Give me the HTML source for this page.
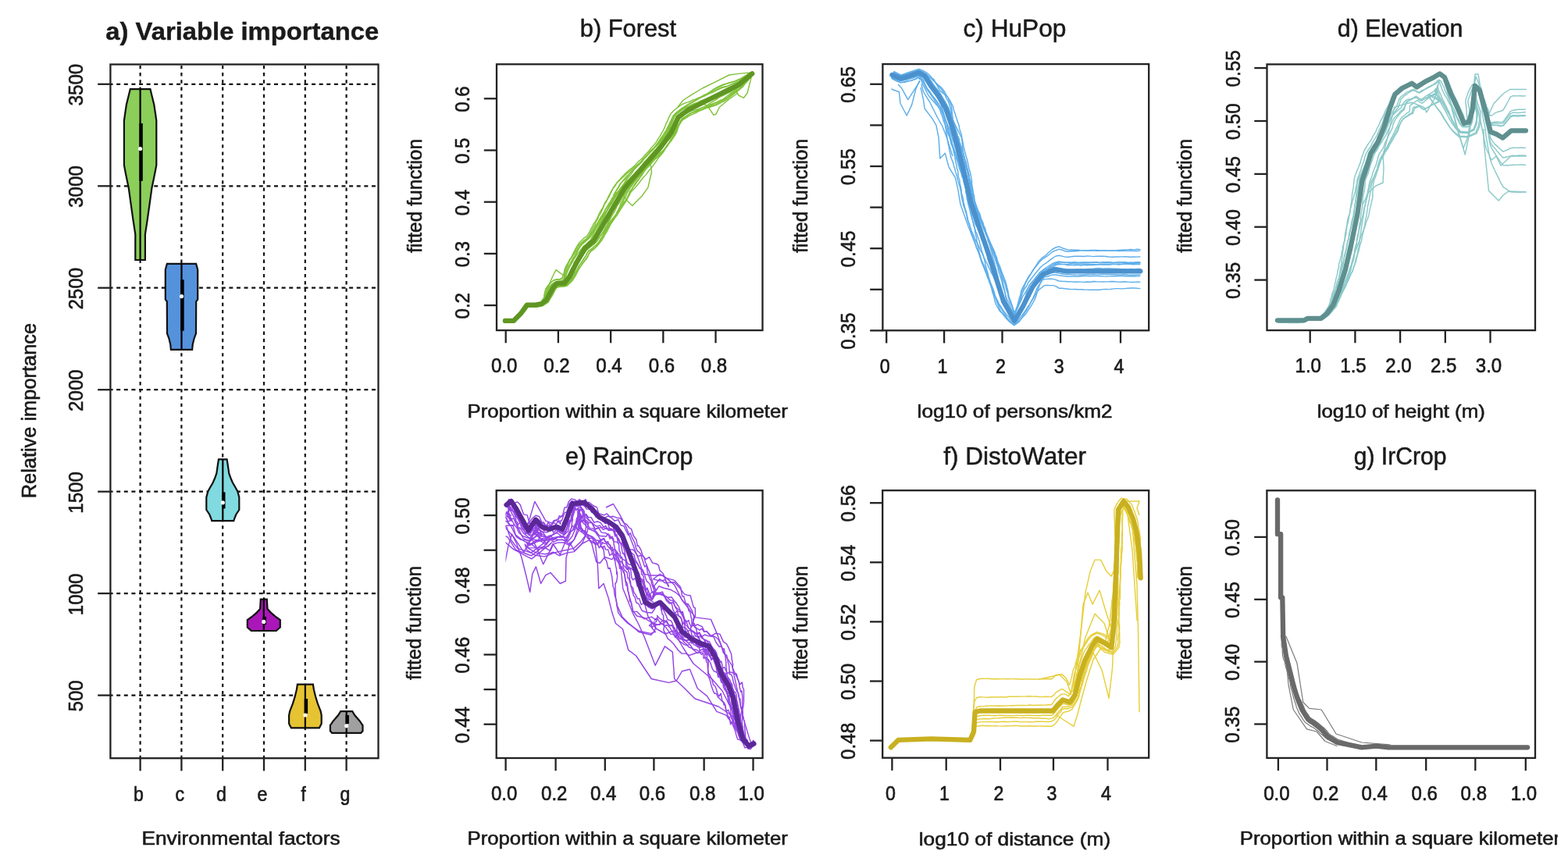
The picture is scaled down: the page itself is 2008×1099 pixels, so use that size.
<!DOCTYPE html><html><head><meta charset="utf-8"><title>Figure</title><style>html,body{margin:0;padding:0;background:#fff;overflow:hidden}svg{display:block}text{font-family:"Liberation Sans",Arial,sans-serif}</style></head><body>
<div id="w"><svg width="2008" height="1099" viewBox="0 0 2008 1099">
<rect width="2008" height="1099" fill="#fff"/>
<defs><clipPath id="gclip" clipPathUnits="userSpaceOnUse"><rect x="0" y="0" width="1996.5" height="1099" transform="translate(-1589.6,-1082.4)"/></clipPath></defs>
<line x1="141.4" y1="890.6" x2="484.5" y2="890.6" stroke="#111" stroke-width="2.2" stroke-dasharray="5 4.61" stroke-dashoffset="1.81"/>
<line x1="141.4" y1="760.1" x2="484.5" y2="760.1" stroke="#111" stroke-width="2.2" stroke-dasharray="5 4.61" stroke-dashoffset="1.81"/>
<line x1="141.4" y1="629.7" x2="484.5" y2="629.7" stroke="#111" stroke-width="2.2" stroke-dasharray="5 4.61" stroke-dashoffset="1.81"/>
<line x1="141.4" y1="499.2" x2="484.5" y2="499.2" stroke="#111" stroke-width="2.2" stroke-dasharray="5 4.61" stroke-dashoffset="1.81"/>
<line x1="141.4" y1="368.7" x2="484.5" y2="368.7" stroke="#111" stroke-width="2.2" stroke-dasharray="5 4.61" stroke-dashoffset="1.81"/>
<line x1="141.4" y1="238.3" x2="484.5" y2="238.3" stroke="#111" stroke-width="2.2" stroke-dasharray="5 4.61" stroke-dashoffset="1.81"/>
<line x1="141.4" y1="107.8" x2="484.5" y2="107.8" stroke="#111" stroke-width="2.2" stroke-dasharray="5 4.61" stroke-dashoffset="1.81"/>
<line x1="179.6" y1="82.5" x2="179.6" y2="971.2" stroke="#111" stroke-width="2.2" stroke-dasharray="4.4 4.807" stroke-dashoffset="-1.4"/>
<line x1="232.4" y1="82.5" x2="232.4" y2="971.2" stroke="#111" stroke-width="2.2" stroke-dasharray="4.4 4.807" stroke-dashoffset="-1.4"/>
<line x1="285.2" y1="82.5" x2="285.2" y2="971.2" stroke="#111" stroke-width="2.2" stroke-dasharray="4.4 4.807" stroke-dashoffset="-1.4"/>
<line x1="338.0" y1="82.5" x2="338.0" y2="971.2" stroke="#111" stroke-width="2.2" stroke-dasharray="4.4 4.807" stroke-dashoffset="-1.4"/>
<line x1="390.8" y1="82.5" x2="390.8" y2="971.2" stroke="#111" stroke-width="2.2" stroke-dasharray="4.4 4.807" stroke-dashoffset="-1.4"/>
<line x1="443.6" y1="82.5" x2="443.6" y2="971.2" stroke="#111" stroke-width="2.2" stroke-dasharray="4.4 4.807" stroke-dashoffset="-1.4"/>
<path d="M192.4,114.1 L195.1,125.0 L197.3,134.0 L199.1,146.0 L200.3,154.5 L200.3,211.4 L198.9,219.0 L197.3,227.0 L194.4,241.0 L191.9,259.0 L188.7,281.8 L185.9,300.0 L185.9,333.0 L173.3,333.0 L173.3,300.0 L170.5,281.8 L167.3,259.0 L164.8,241.0 L161.9,227.0 L160.3,219.0 L158.9,211.4 L158.9,154.5 L160.1,146.0 L161.9,134.0 L164.1,125.0 L166.8,114.1 Z" fill="#8bce5a" stroke="#111" stroke-width="2.2" stroke-linejoin="miter"/>
<line x1="179.6" y1="114.1" x2="179.6" y2="333.0" stroke="#000" stroke-width="2.2"/>
<rect x="178.4" y="158.0" width="4.4" height="73.8" fill="#000"/>
<circle cx="179.6" cy="190.5" r="2.6" fill="#fff"/>
<path d="M251.1,337.8 L253.2,345.5 L253.2,383.6 L251.2,386.2 L251.0,427.0 L248.5,434.0 L246.8,441.0 L246.1,447.9 L218.9,447.9 L218.2,441.0 L216.5,434.0 L214.0,427.0 L213.8,386.2 L211.8,383.6 L211.8,345.5 L213.9,337.8 Z" fill="#5592dc" stroke="#111" stroke-width="2.2" stroke-linejoin="miter"/>
<line x1="232.5" y1="337.8" x2="232.5" y2="447.9" stroke="#000" stroke-width="2.2"/>
<rect x="231.3" y="358.2" width="4.4" height="65.5" fill="#000"/>
<circle cx="232.5" cy="379.6" r="2.6" fill="#fff"/>
<path d="M290.6,588.4 L291.8,596.0 L293.3,606.5 L295.3,612.0 L297.8,618.0 L301.3,624.0 L304.3,629.4 L306.3,637.0 L306.3,653.0 L302.3,659.0 L300.3,664.0 L299.3,667.2 L271.3,667.2 L270.3,664.0 L268.3,659.0 L264.3,653.0 L264.3,637.0 L266.3,629.4 L269.3,624.0 L272.8,618.0 L275.3,612.0 L277.3,606.5 L278.8,596.0 L280.0,588.4 Z" fill="#80dae0" stroke="#111" stroke-width="2.2" stroke-linejoin="miter"/>
<line x1="285.3" y1="588.4" x2="285.3" y2="667.2" stroke="#000" stroke-width="2.2"/>
<rect x="284.1" y="630.4" width="4.4" height="21.0" fill="#000"/>
<circle cx="285.3" cy="643.8" r="2.6" fill="#fff"/>
<path d="M341.8,767.7 L342.5,779.9 L346.8,784.6 L352.3,789.3 L358.8,794.0 L358.8,803.5 L353.8,808.0 L321.8,808.0 L316.8,803.5 L316.8,794.0 L323.3,789.3 L328.8,784.6 L333.1,779.9 L333.8,767.7 Z" fill="#aa16b8" stroke="#111" stroke-width="2.2" stroke-linejoin="miter"/>
<line x1="337.8" y1="767.7" x2="337.8" y2="808.0" stroke="#000" stroke-width="2.2"/>
<rect x="336.6" y="790.0" width="4.4" height="10.0" fill="#000"/>
<circle cx="337.8" cy="796.4" r="2.6" fill="#fff"/>
<path d="M400.9,876.6 L401.9,883.2 L404.2,892.7 L406.9,901.4 L410.6,910.9 L411.7,916.0 L411.7,927.0 L408.9,932.3 L372.9,932.3 L370.1,927.0 L370.1,916.0 L371.2,910.9 L374.9,901.4 L377.6,892.7 L379.9,883.2 L380.9,876.6 Z" fill="#e6c332" stroke="#111" stroke-width="2.2" stroke-linejoin="miter"/>
<line x1="390.9" y1="876.6" x2="390.9" y2="932.3" stroke="#000" stroke-width="2.2"/>
<rect x="389.7" y="895.0" width="4.4" height="19.0" fill="#000"/>
<circle cx="390.9" cy="916.0" r="2.6" fill="#fff"/>
<path d="M451.2,911.2 L454.2,916.0 L460.4,923.2 L464.5,929.0 L464.5,936.3 L462.2,938.9 L425.2,938.9 L422.9,936.3 L422.9,929.0 L427.0,923.2 L433.2,916.0 L436.2,911.2 Z" fill="#a0a0a0" stroke="#111" stroke-width="2.2" stroke-linejoin="miter"/>
<line x1="443.7" y1="911.2" x2="443.7" y2="938.9" stroke="#000" stroke-width="2.2"/>
<rect x="442.5" y="916.0" width="4.4" height="11.0" fill="#000"/>
<circle cx="443.7" cy="929.8" r="2.6" fill="#fff"/>
<rect x="141.4" y="82.5" width="343.1" height="888.7" fill="none" stroke="#222" stroke-width="2.3"/>
<line x1="125.2" y1="890.6" x2="141.4" y2="890.6" stroke="#222" stroke-width="2.3"/>
<text transform="translate(106.40,911.48) rotate(-90) scale(1,1.07)" x="0" y="0" font-size="24.5" font-weight="normal" textLength="40.25" lengthAdjust="spacingAndGlyphs" fill="#1a1a1a" stroke="#1a1a1a" stroke-width="0.6">500</text>
<line x1="125.2" y1="760.1" x2="141.4" y2="760.1" stroke="#222" stroke-width="2.3"/>
<text transform="translate(106.40,788.30) rotate(-90) scale(1,1.07)" x="0" y="0" font-size="24.5" font-weight="normal" textLength="53.87" lengthAdjust="spacingAndGlyphs" fill="#1a1a1a" stroke="#1a1a1a" stroke-width="0.6">1000</text>
<line x1="125.2" y1="629.7" x2="141.4" y2="629.7" stroke="#222" stroke-width="2.3"/>
<text transform="translate(106.40,657.83) rotate(-90) scale(1,1.07)" x="0" y="0" font-size="24.5" font-weight="normal" textLength="53.87" lengthAdjust="spacingAndGlyphs" fill="#1a1a1a" stroke="#1a1a1a" stroke-width="0.6">1500</text>
<line x1="125.2" y1="499.2" x2="141.4" y2="499.2" stroke="#222" stroke-width="2.3"/>
<text transform="translate(106.40,527.06) rotate(-90) scale(1,1.07)" x="0" y="0" font-size="24.5" font-weight="normal" textLength="53.88" lengthAdjust="spacingAndGlyphs" fill="#1a1a1a" stroke="#1a1a1a" stroke-width="0.6">2000</text>
<line x1="125.2" y1="368.7" x2="141.4" y2="368.7" stroke="#222" stroke-width="2.3"/>
<text transform="translate(106.40,396.60) rotate(-90) scale(1,1.07)" x="0" y="0" font-size="24.5" font-weight="normal" textLength="53.88" lengthAdjust="spacingAndGlyphs" fill="#1a1a1a" stroke="#1a1a1a" stroke-width="0.6">2500</text>
<line x1="125.2" y1="238.3" x2="141.4" y2="238.3" stroke="#222" stroke-width="2.3"/>
<text transform="translate(106.40,266.01) rotate(-90) scale(1,1.07)" x="0" y="0" font-size="24.5" font-weight="normal" textLength="53.88" lengthAdjust="spacingAndGlyphs" fill="#1a1a1a" stroke="#1a1a1a" stroke-width="0.6">3000</text>
<line x1="125.2" y1="107.8" x2="141.4" y2="107.8" stroke="#222" stroke-width="2.3"/>
<text transform="translate(106.40,135.55) rotate(-90) scale(1,1.07)" x="0" y="0" font-size="24.5" font-weight="normal" textLength="53.88" lengthAdjust="spacingAndGlyphs" fill="#1a1a1a" stroke="#1a1a1a" stroke-width="0.6">3500</text>
<line x1="179.6" y1="971.2" x2="179.6" y2="987.4" stroke="#222" stroke-width="2.3"/>
<text transform="translate(170.88,1025.50) scale(1,1.07)" x="0" y="0" font-size="24.5" font-weight="normal" textLength="12.88" lengthAdjust="spacingAndGlyphs" fill="#1a1a1a" stroke="#1a1a1a" stroke-width="0.6">b</text>
<line x1="232.4" y1="971.2" x2="232.4" y2="987.4" stroke="#222" stroke-width="2.3"/>
<text transform="translate(224.39,1025.50) scale(1,1.07)" x="0" y="0" font-size="24.5" font-weight="normal" textLength="11.55" lengthAdjust="spacingAndGlyphs" fill="#1a1a1a" stroke="#1a1a1a" stroke-width="0.6">c</text>
<line x1="285.2" y1="971.2" x2="285.2" y2="987.4" stroke="#222" stroke-width="2.3"/>
<text transform="translate(277.06,1025.50) scale(1,1.07)" x="0" y="0" font-size="24.5" font-weight="normal" textLength="12.88" lengthAdjust="spacingAndGlyphs" fill="#1a1a1a" stroke="#1a1a1a" stroke-width="0.6">d</text>
<line x1="338.0" y1="971.2" x2="338.0" y2="987.4" stroke="#222" stroke-width="2.3"/>
<text transform="translate(329.56,1025.50) scale(1,1.07)" x="0" y="0" font-size="24.5" font-weight="normal" textLength="12.91" lengthAdjust="spacingAndGlyphs" fill="#1a1a1a" stroke="#1a1a1a" stroke-width="0.6">e</text>
<line x1="390.8" y1="971.2" x2="390.8" y2="987.4" stroke="#222" stroke-width="2.3"/>
<text transform="translate(385.52,1025.50) scale(1,1.07)" x="0" y="0" font-size="24.5" font-weight="normal" textLength="6.18" lengthAdjust="spacingAndGlyphs" fill="#1a1a1a" stroke="#1a1a1a" stroke-width="0.6">f</text>
<line x1="443.6" y1="971.2" x2="443.6" y2="987.4" stroke="#222" stroke-width="2.3"/>
<text transform="translate(435.46,1025.50) scale(1,1.07)" x="0" y="0" font-size="24.5" font-weight="normal" textLength="12.88" lengthAdjust="spacingAndGlyphs" fill="#1a1a1a" stroke="#1a1a1a" stroke-width="0.6">g</text>
<text transform="translate(181.40,1082.40) scale(1,1.0)" x="0" y="0" font-size="24.5" font-weight="normal" textLength="254.15" lengthAdjust="spacingAndGlyphs" fill="#1a1a1a" stroke="#1a1a1a" stroke-width="0.6">Environmental factors</text>
<text transform="translate(45.70,638.33) rotate(-90) scale(1,1.05)" x="0" y="0" font-size="24.5" font-weight="normal" textLength="224.44" lengthAdjust="spacingAndGlyphs" fill="#1a1a1a" stroke="#1a1a1a" stroke-width="0.6">Relative importance</text>
<text transform="translate(135.32,50.70) scale(1,1.0)" x="0" y="0" font-size="30.5" font-weight="bold" textLength="349.97" lengthAdjust="spacingAndGlyphs" fill="#1a1a1a" stroke="#1a1a1a" stroke-width="0.4">a) Variable importance</text>
<clipPath id="clb"><rect x="645.9" y="82.3" width="318.3" height="340.8"/></clipPath>
<g clip-path="url(#clb)">
<path d="M646.9,410.2 L650.7,409.9 L654.8,410.6 L658.4,409.6 L660.7,406.3 L663.4,403.6 L666.2,400.8 L668.6,397.6 L671.3,394.5 L673.6,391.0 L677.2,389.8 L681.3,389.4 L685.4,389.8 L689.2,388.8 L692.6,387.5 L694.8,384.4 L697.1,381.8 L698.1,378.2 L699.5,374.8 L700.6,370.8 L703.6,367.5 L706.8,364.0 L710.7,361.1 L714.7,360.5 L718.6,360.3 L722.1,359.5 L723.3,355.9 L724.6,352.9 L726.0,349.6 L727.3,346.0 L729.0,342.5 L730.8,338.8 L732.4,335.1 L734.1,331.4 L736.5,328.0 L738.4,324.4 L740.0,320.3 L742.3,316.5 L744.6,312.7 L747.4,309.3 L750.3,306.5 L752.7,303.8 L754.7,301.0 L756.3,297.9 L757.8,294.8 L759.9,291.4 L761.8,287.9 L763.1,284.0 L765.4,280.8 L766.7,276.9 L769.0,273.6 L770.7,269.9 L772.4,266.2 L773.8,262.4 L776.1,259.1 L777.9,255.5 L779.9,252.0 L781.6,248.3 L783.5,244.8 L785.3,241.0 L788.2,237.5 L790.4,233.7 L793.4,230.4 L796.2,227.0 L799.2,223.9 L802.2,221.1 L805.1,218.4 L808.4,215.9 L811.5,213.3 L814.4,210.5 L817.0,207.4 L820.1,204.8 L823.1,202.1 L825.6,198.9 L828.4,196.1 L831.1,193.2 L833.5,189.9 L836.2,187.1 L838.6,184.1 L841.0,181.1 L842.8,177.7 L845.0,174.6 L846.9,171.2 L848.8,168.1 L850.4,164.9 L851.8,161.6 L853.0,158.2 L854.9,154.8 L856.8,150.1 L859.2,145.6 L862.5,141.9 L866.5,138.7 L870.8,135.5 L874.5,133.2 L878.6,131.6 L882.9,130.4 L886.6,128.3 L890.6,127.2 L894.2,125.5 L898.2,124.5 L902.0,123.1 L905.6,121.4 L909.2,119.6 L913.0,118.3 L916.5,116.4 L920.1,114.5 L923.8,112.9 L927.8,111.9 L931.6,110.6 L935.1,108.6 L938.7,107.3 L942.3,106.0 L945.9,104.5 L949.3,102.5 L952.6,100.5 L955.7,97.9 L959.2,95.9 L962.9,94.0 L962.9,94.0" fill="none" stroke="#80c23a" stroke-width="1.45" stroke-linejoin="round"/>
<path d="M646.9,409.5 L650.7,409.8 L654.4,409.4 L657.8,408.4 L660.4,405.8 L663.1,403.3 L665.9,400.5 L668.5,397.5 L671.2,394.4 L673.7,391.2 L677.3,390.0 L681.5,390.4 L685.5,390.2 L689.5,389.9 L693.4,389.0 L696.3,386.3 L698.7,383.3 L699.6,379.3 L701.0,375.7 L702.5,372.0 L704.9,368.5 L707.9,365.2 L711.3,362.2 L715.1,361.2 L718.8,360.6 L721.6,358.6 L722.9,355.4 L723.4,352.1 L724.2,348.5 L724.9,344.7 L726.4,341.2 L727.6,337.2 L729.6,333.6 L731.6,330.0 L733.4,326.3 L735.0,322.5 L737.1,318.5 L739.5,314.4 L742.1,310.5 L745.5,307.5 L748.3,304.6 L751.3,302.6 L753.2,299.9 L754.9,297.0 L756.3,293.9 L758.4,290.5 L760.1,286.9 L762.4,283.6 L764.4,280.1 L766.1,276.5 L767.7,272.8 L769.7,269.3 L772.0,266.0 L773.5,262.3 L775.3,258.6 L777.6,255.3 L779.2,251.6 L781.1,248.1 L783.0,244.5 L785.1,240.9 L787.6,237.1 L790.3,233.6 L793.7,230.6 L797.0,227.7 L800.2,224.7 L803.1,222.0 L806.4,219.5 L809.4,216.8 L812.4,214.1 L815.7,211.6 L818.8,209.0 L821.8,206.3 L824.5,203.3 L827.5,200.7 L830.1,197.6 L833.0,194.8 L835.7,191.9 L838.1,188.7 L840.7,185.9 L842.9,182.6 L845.4,179.6 L847.5,176.4 L849.9,173.3 L851.7,170.0 L854.4,167.2 L855.6,163.6 L857.3,160.3 L858.9,156.7 L860.4,152.2 L862.3,147.9 L865.6,144.7 L869.2,141.7 L873.0,138.7 L876.8,136.8 L880.2,134.3 L884.0,132.4 L887.7,130.5 L891.1,128.3 L894.7,126.4 L898.0,124.2 L901.8,122.6 L905.1,120.3 L908.5,118.3 L911.8,115.9 L915.2,113.7 L918.9,112.1 L922.6,110.5 L926.2,108.8 L930.0,107.3 L933.9,106.2 L937.4,104.9 L941.1,103.9 L944.4,102.3 L947.9,100.8 L951.3,98.9 L954.8,96.8 L958.2,94.6 L961.9,92.8 L961.9,92.8" fill="none" stroke="#80c23a" stroke-width="1.45" stroke-linejoin="round"/>
<path d="M646.9,409.5 L650.7,409.6 L654.4,409.3 L658.0,408.8 L660.5,405.9 L662.9,403.1 L665.8,400.4 L668.6,397.6 L671.1,394.3 L673.7,391.1 L677.3,390.2 L681.3,389.7 L685.4,389.9 L689.2,389.0 L692.8,387.8 L694.9,384.5 L696.6,381.3 L697.3,377.7 L697.9,373.9 L699.0,369.8 L701.8,366.3 L705.2,362.3 L709.2,358.7 L713.4,357.8 L717.5,358.0 L720.5,356.7 L721.0,353.4 L722.3,351.3 L723.0,347.8 L723.6,344.0 L725.1,340.5 L727.3,337.0 L729.1,333.3 L731.6,330.0 L733.4,326.2 L735.7,322.9 L737.8,318.9 L740.4,315.1 L743.5,311.7 L746.9,308.8 L750.2,306.4 L753.2,304.3 L755.8,301.9 L757.2,298.6 L759.2,295.6 L761.4,292.2 L763.1,288.6 L765.3,285.3 L767.4,281.9 L769.2,278.3 L771.6,275.1 L773.9,271.8 L775.4,268.0 L777.8,264.8 L780.1,261.4 L782.4,258.1 L785.0,255.0 L787.6,251.9 L789.9,248.6 L792.3,245.2 L795.2,242.2 L797.2,238.6 L800.5,235.9 L803.2,232.8 L805.9,229.8 L808.8,226.9 L811.7,224.2 L814.1,221.0 L817.0,218.2 L819.3,214.8 L822.1,211.9 L824.3,208.5 L827.1,205.6 L829.7,202.6 L832.2,199.5 L835.0,196.6 L837.5,193.4 L840.4,190.7 L842.7,187.5 L845.4,184.6 L847.3,181.1 L849.7,177.9 L852.1,174.8 L853.9,171.4 L855.6,167.9 L856.7,164.2 L858.4,160.8 L859.3,156.8 L860.9,152.5 L862.8,148.3 L865.6,144.8 L869.4,142.0 L873.3,139.1 L876.6,136.5 L880.2,134.3 L883.8,132.2 L887.6,130.4 L891.3,128.7 L894.6,126.4 L898.3,124.6 L901.5,122.0 L905.2,120.5 L908.4,118.1 L911.8,116.0 L915.1,113.6 L918.6,111.5 L922.3,110.0 L925.9,108.2 L930.0,107.3 L933.8,106.0 L937.5,105.2 L941.2,104.1 L944.8,102.9 L948.3,101.2 L951.8,99.5 L955.4,97.5 L958.9,95.5 L962.5,93.5 L962.5,93.5" fill="none" stroke="#80c23a" stroke-width="1.45" stroke-linejoin="round"/>
<path d="M646.9,410.5 L650.8,410.4 L654.7,410.3 L658.5,409.9 L661.0,406.6 L663.6,403.8 L666.7,401.2 L668.8,397.8 L671.1,394.3 L673.6,391.0 L677.2,389.7 L681.3,389.6 L685.4,389.5 L689.1,388.5 L692.8,387.8 L694.7,384.2 L696.7,381.4 L697.2,377.6 L697.8,373.8 L699.3,370.0 L701.6,366.2 L704.9,362.0 L709.4,359.0 L713.6,358.2 L717.2,357.5 L720.1,355.9 L720.8,353.3 L721.9,351.1 L722.6,347.5 L723.6,344.0 L725.3,340.6 L727.7,337.2 L729.4,333.4 L731.6,330.0 L734.1,326.7 L736.7,323.4 L739.1,319.7 L741.7,316.1 L744.3,312.5 L747.9,309.8 L751.2,307.4 L754.3,305.3 L756.4,302.4 L758.3,299.3 L760.6,296.5 L762.8,293.1 L764.8,289.6 L767.2,286.4 L769.3,283.0 L771.0,279.4 L773.1,276.0 L775.3,272.6 L777.5,269.2 L779.4,265.7 L781.5,262.3 L783.6,258.9 L785.6,255.4 L788.0,252.1 L789.9,248.6 L792.4,245.3 L795.1,242.1 L797.4,238.7 L800.2,235.6 L802.9,232.6 L806.4,230.1 L809.1,227.2 L812.3,224.7 L814.9,221.7 L817.8,218.8 L820.7,216.1 L824.0,213.6 L826.9,210.9 L829.9,208.1 L832.4,205.0 L834.9,201.8 L837.9,199.2 L840.9,196.4 L843.5,193.4 L845.8,190.0 L848.5,187.1 L850.6,183.6 L853.2,180.5 L855.6,177.2 L857.7,173.8 L860.0,170.5 L861.3,166.7 L862.9,162.9 L864.5,159.3 L866.2,155.6 L867.8,151.9 L869.9,148.6 L873.0,145.9 L876.4,143.7 L879.7,141.4 L883.0,139.1 L886.7,137.4 L890.3,135.5 L893.8,133.6 L897.3,131.6 L901.1,130.3 L904.6,128.3 L908.1,126.4 L911.7,124.6 L915.1,122.5 L918.6,120.6 L922.1,118.5 L925.6,116.6 L929.5,115.5 L933.0,113.4 L936.7,111.8 L940.2,110.0 L943.6,108.0 L947.0,106.0 L950.0,103.5 L953.1,101.1 L956.4,98.7 L959.7,96.4 L962.8,93.9 L962.8,93.9" fill="none" stroke="#80c23a" stroke-width="1.45" stroke-linejoin="round"/>
<path d="M646.9,409.2 L650.6,409.1 L654.5,409.6 L658.0,408.9 L660.9,406.5 L663.5,403.6 L666.9,401.4 L669.4,398.3 L671.7,395.0 L673.9,391.5 L677.5,390.5 L681.5,390.5 L685.5,390.4 L689.3,389.4 L693.1,388.5 L695.6,385.4 L698.6,383.2 L700.0,379.6 L701.3,375.9 L703.0,372.2 L705.8,369.1 L708.5,365.8 L711.9,363.2 L715.7,362.5 L719.7,362.5 L723.0,361.1 L725.5,358.3 L727.2,354.8 L728.5,351.0 L730.0,347.4 L731.6,343.8 L733.9,340.4 L735.2,336.6 L737.5,333.2 L739.4,329.6 L741.5,326.2 L743.5,322.6 L746.3,319.5 L748.5,316.0 L751.8,313.5 L754.6,310.7 L757.9,308.4 L760.7,305.7 L762.5,302.2 L765.0,299.1 L766.6,295.4 L768.7,291.9 L770.8,288.5 L772.7,285.0 L775.2,281.8 L777.2,278.4 L779.4,275.0 L781.0,271.3 L783.4,268.0 L785.2,264.4 L787.2,261.0 L788.9,257.3 L790.4,253.5 L792.3,250.0 L794.3,246.5 L796.0,242.7 L798.1,239.2 L800.6,236.0 L803.5,233.1 L806.0,229.9 L809.0,227.1 L812.0,224.4 L814.5,221.3 L817.6,218.7 L820.6,216.0 L823.6,213.2 L826.4,210.4 L829.0,207.3 L831.4,204.1 L833.8,200.9 L836.2,197.6 L838.7,194.5 L841.1,191.3 L843.0,187.7 L845.1,184.3 L846.7,180.6 L849.0,177.5 L851.2,174.2 L852.8,170.7 L854.9,167.5 L856.5,164.1 L858.4,160.7 L860.1,157.2 L862.0,153.2 L863.9,149.1 L866.6,145.6 L870.0,142.7 L873.9,140.0 L877.1,137.2 L880.5,134.9 L883.9,132.3 L887.6,130.2 L891.2,128.4 L894.4,125.9 L897.9,123.8 L901.4,122.0 L905.2,120.5 L908.7,118.6 L912.4,117.1 L915.9,115.1 L919.6,113.6 L923.4,112.2 L927.3,110.9 L931.3,110.1 L935.2,108.9 L938.6,107.2 L942.2,105.8 L945.8,104.4 L948.7,101.8 L952.1,99.8 L955.1,97.2 L958.4,94.9 L962.0,92.9 L962.0,92.9" fill="none" stroke="#80c23a" stroke-width="1.45" stroke-linejoin="round"/>
<path d="M646.9,411.2 L650.9,411.0 L654.9,410.8 L658.6,410.1 L661.2,406.9 L663.5,403.7 L666.3,400.9 L668.2,397.3 L670.7,393.8 L673.5,390.8 L677.1,389.4 L681.2,389.1 L685.4,389.5 L689.3,389.1 L692.9,388.1 L695.7,385.5 L698.6,383.2 L700.2,379.7 L701.4,375.9 L703.3,372.4 L705.7,369.0 L708.5,365.8 L712.0,363.4 L715.8,362.7 L719.9,362.9 L723.6,362.1 L725.7,358.5 L728.2,355.5 L729.9,351.9 L731.6,348.3 L733.4,344.7 L735.2,341.1 L737.4,337.7 L739.7,334.4 L741.6,330.9 L743.9,327.6 L745.5,323.9 L747.5,320.4 L749.3,316.7 L751.9,313.6 L754.7,310.8 L757.4,307.9 L759.5,304.8 L761.0,301.1 L762.9,297.8 L764.8,294.3 L766.3,290.5 L768.3,287.1 L770.2,283.5 L772.2,280.1 L773.8,276.3 L775.6,272.8 L777.4,269.2 L779.2,265.6 L781.0,262.0 L782.5,258.2 L784.1,254.5 L786.1,251.0 L787.7,247.3 L789.4,243.5 L791.8,239.9 L793.7,236.0 L796.6,232.9 L799.3,229.5 L801.9,226.3 L804.9,223.5 L807.7,220.6 L810.4,217.7 L813.3,214.9 L816.3,212.1 L819.3,209.4 L821.9,206.4 L824.7,203.5 L827.4,200.6 L830.0,197.5 L832.8,194.6 L835.4,191.6 L838.0,188.7 L840.3,185.5 L842.7,182.5 L844.7,179.1 L847.0,176.0 L849.3,172.9 L851.2,169.6 L853.3,166.6 L854.8,163.1 L856.7,159.9 L858.2,156.3 L860.4,152.2 L862.7,148.2 L865.8,144.9 L870.0,142.6 L873.9,140.1 L877.6,138.1 L881.4,136.4 L885.2,134.6 L889.0,133.1 L892.8,131.7 L896.5,130.1 L900.3,128.7 L904.1,127.4 L908.0,126.2 L911.7,124.5 L915.5,123.2 L919.4,122.0 L922.9,120.2 L926.6,118.7 L930.2,116.8 L934.2,115.9 L937.7,114.0 L941.4,112.2 L945.0,110.3 L948.6,108.5 L951.5,105.4 L954.1,102.3 L957.3,99.9 L960.2,97.0 L962.9,94.1 L962.9,94.1" fill="none" stroke="#80c23a" stroke-width="1.45" stroke-linejoin="round"/>
<path d="M646.9,410.5 L650.8,410.2 L654.6,409.8 L658.2,409.2 L660.7,406.3 L663.2,403.4 L666.1,400.7 L668.6,397.6 L671.1,394.3 L673.6,391.0 L677.2,389.9 L681.5,390.4 L685.5,390.4 L689.6,390.5 L693.7,389.8 L696.6,386.8 L699.4,383.9 L700.6,380.0 L701.9,376.3 L703.5,372.5 L705.8,369.1 L708.2,365.4 L711.2,362.0 L714.8,360.5 L718.4,359.9 L721.6,358.6 L722.6,355.2 L723.4,352.1 L724.5,348.7 L725.9,345.2 L727.6,341.8 L729.6,338.2 L731.7,334.7 L733.5,331.0 L735.9,327.7 L738.0,324.2 L740.2,320.4 L742.5,316.7 L745.1,313.1 L748.6,310.5 L751.5,307.7 L754.1,305.0 L756.2,302.2 L757.7,298.9 L759.5,295.8 L761.8,292.5 L763.7,289.0 L765.5,285.5 L767.9,282.2 L770.1,278.9 L772.4,275.6 L775.2,272.5 L777.5,269.2 L779.8,265.9 L782.1,262.6 L784.4,259.3 L786.2,255.7 L788.3,252.3 L790.5,248.9 L792.6,245.5 L794.6,241.8 L796.9,238.3 L799.6,235.2 L802.4,232.1 L805.6,229.5 L808.4,226.6 L811.2,223.8 L814.3,221.1 L817.3,218.4 L820.4,215.8 L823.4,213.1 L826.7,210.6 L829.4,207.7 L832.6,205.2 L835.7,202.5 L838.4,199.6 L841.5,197.0 L843.9,193.8 L846.8,190.9 L849.2,187.6 L851.3,184.1 L853.0,180.4 L855.3,177.1 L857.6,173.7 L859.4,170.2 L860.5,166.2 L862.3,162.6 L863.7,158.9 L865.2,155.1 L866.9,151.3 L869.6,148.4 L872.9,145.9 L876.4,143.7 L879.7,141.4 L883.3,139.7 L887.0,137.9 L890.4,135.8 L893.8,133.7 L897.4,131.8 L901.2,130.6 L904.5,128.2 L908.2,126.7 L911.9,125.0 L915.4,123.0 L918.8,120.9 L922.5,119.3 L925.9,117.3 L929.3,115.1 L933.0,113.4 L936.6,111.7 L940.3,110.2 L943.6,108.0 L947.0,106.1 L949.9,103.3 L953.2,101.2 L956.1,98.3 L959.4,96.2 L962.4,93.5 L962.4,93.5" fill="none" stroke="#80c23a" stroke-width="1.45" stroke-linejoin="round"/>
<path d="M646.9,411.7 L651.1,411.9 L655.2,411.8 L658.9,410.7 L661.8,407.8 L664.7,404.8 L667.2,401.6 L669.5,398.4 L672.1,395.5 L674.3,392.2 L677.7,391.1 L681.6,391.0 L685.6,391.3 L689.7,390.6 L693.9,390.3 L697.2,387.5 L700.4,384.9 L701.9,381.0 L703.9,377.4 L705.6,373.8 L708.1,370.7 L710.0,367.3 L712.8,364.7 L716.3,363.7 L720.3,363.8 L724.0,362.8 L726.1,359.0 L728.4,355.6 L730.1,352.0 L731.0,348.0 L732.8,344.4 L734.8,340.9 L736.3,337.2 L738.1,333.6 L740.0,330.0 L742.1,326.6 L744.2,323.1 L746.1,319.3 L748.3,315.8 L750.8,312.6 L753.7,309.8 L756.5,307.2 L758.0,303.6 L759.6,300.2 L761.2,296.8 L762.8,293.1 L764.5,289.4 L765.9,285.7 L767.8,282.2 L769.8,278.7 L771.5,275.0 L773.5,271.6 L775.6,268.1 L777.5,264.6 L779.5,261.1 L781.8,257.8 L783.7,254.2 L786.0,250.9 L787.3,247.1 L789.7,243.7 L792.2,240.2 L794.2,236.4 L796.7,232.9 L800.0,230.1 L803.0,227.2 L805.3,223.9 L807.9,220.9 L811.0,218.2 L813.7,215.3 L816.8,212.6 L819.7,209.8 L822.5,206.9 L824.8,203.6 L827.5,200.7 L830.3,197.7 L833.0,194.8 L835.8,191.9 L838.6,189.2 L841.3,186.3 L844.0,183.5 L846.2,180.3 L848.9,177.3 L851.4,174.4 L854.2,171.6 L856.5,168.4 L858.4,165.1 L860.7,161.9 L862.5,158.3 L864.2,154.5 L866.5,151.0 L869.2,148.0 L872.8,145.8 L875.9,142.9 L879.3,140.7 L883.0,139.0 L886.7,137.4 L890.3,135.7 L894.1,134.2 L897.7,132.4 L901.4,131.0 L905.2,129.6 L908.9,128.0 L912.6,126.5 L916.6,125.5 L920.2,123.7 L924.2,122.8 L927.7,120.8 L931.5,119.3 L935.3,118.0 L938.7,115.8 L942.4,113.9 L946.0,111.9 L949.2,109.3 L952.0,106.2 L954.8,103.2 L957.8,100.4 L960.6,97.5 L963.0,94.1 L963.0,94.1" fill="none" stroke="#80c23a" stroke-width="1.45" stroke-linejoin="round"/>
<path d="M646.9,410.2 L650.8,410.5 L654.7,410.3 L658.2,409.3 L660.8,406.4 L663.4,403.5 L665.9,400.6 L668.2,397.2 L670.8,394.0 L673.4,390.6 L677.1,389.5 L681.3,389.5 L685.4,389.5 L689.2,388.7 L693.0,388.3 L695.5,385.3 L698.0,382.7 L699.3,379.1 L700.6,375.5 L702.7,372.0 L705.2,368.7 L708.0,365.2 L711.6,362.7 L715.7,362.4 L719.7,362.4 L723.1,361.4 L725.2,357.9 L727.8,355.2 L729.4,351.6 L731.2,348.1 L733.3,344.7 L735.5,341.3 L738.0,338.1 L740.7,335.0 L742.9,331.6 L745.5,328.5 L747.8,325.4 L749.8,322.1 L751.9,319.0 L755.2,316.8 L758.4,314.4 L761.8,311.9 L764.5,308.7 L766.9,305.2 L769.2,301.6 L771.7,298.4 L773.5,294.8 L775.4,291.2 L777.5,287.8 L778.9,284.0 L780.7,280.4 L782.4,276.7 L783.7,272.9 L785.4,269.2 L786.9,265.4 L788.1,261.5 L789.8,257.8 L791.1,254.0 L792.2,249.9 L793.6,246.1 L795.1,242.2 L797.0,238.4 L799.1,234.8 L801.4,231.3 L803.9,228.0 L806.6,225.0 L809.1,221.9 L811.2,218.4 L813.7,215.2 L816.4,212.2 L819.0,209.2 L821.7,206.2 L824.1,203.0 L826.9,200.1 L829.8,197.3 L832.2,194.1 L835.1,191.3 L838.2,188.8 L841.0,186.1 L843.7,183.3 L845.8,179.9 L848.5,177.1 L851.2,174.2 L853.6,171.2 L856.6,168.5 L858.1,164.9 L860.9,162.0 L862.4,158.3 L865.2,155.0 L867.5,151.7 L870.7,149.3 L873.9,147.0 L877.9,145.9 L881.3,144.0 L885.0,142.4 L888.8,141.4 L892.6,140.2 L896.4,138.9 L900.3,137.7 L904.2,136.5 L907.8,134.7 L911.6,133.3 L915.3,131.9 L919.0,130.3 L922.6,128.5 L926.3,126.9 L929.5,124.3 L932.7,121.8 L936.1,119.7 L939.4,117.2 L942.7,114.5 L945.8,111.7 L949.2,109.3 L951.7,105.8 L954.8,103.2 L957.2,99.7 L960.2,97.1 L963.1,94.3 L963.1,94.3" fill="none" stroke="#80c23a" stroke-width="1.45" stroke-linejoin="round"/>
<path d="M646.9,411.9 L651.2,412.3 L655.4,412.3 L659.1,411.2 L662.1,408.2 L665.1,405.2 L668.1,402.4 L670.1,398.9 L671.9,395.2 L674.2,392.0 L677.3,390.2 L681.3,389.7 L685.4,389.3 L689.1,388.5 L692.7,387.8 L695.2,384.9 L697.3,382.0 L698.0,378.2 L699.5,374.8 L701.3,371.2 L703.6,367.5 L706.8,364.0 L711.0,361.6 L714.9,360.8 L718.8,360.7 L722.0,359.4 L723.4,356.0 L724.9,353.2 L725.8,349.5 L727.3,346.0 L728.7,342.3 L731.1,339.0 L733.2,335.5 L735.1,331.9 L737.3,328.5 L739.6,325.1 L742.3,321.8 L744.9,318.5 L747.4,315.1 L751.1,312.9 L754.3,310.4 L757.4,308.0 L760.0,305.1 L762.5,302.2 L764.3,298.7 L766.8,295.5 L768.4,291.8 L770.5,288.3 L772.4,284.8 L774.6,281.5 L776.8,278.1 L778.9,274.7 L781.3,271.5 L783.3,268.0 L785.5,264.6 L787.9,261.4 L790.4,258.2 L792.7,254.9 L795.3,251.8 L797.7,248.6 L799.9,245.3 L802.4,242.3 L805.5,239.8 L808.3,237.0 L810.8,234.1 L813.8,231.4 L816.4,228.2 L819.2,225.4 L821.7,222.2 L824.2,219.1 L827.3,216.5 L830.2,213.8 L832.8,210.7 L835.5,207.8 L838.0,204.6 L840.7,201.7 L843.7,198.9 L846.3,195.8 L849.4,193.0 L852.3,190.1 L854.9,186.8 L857.1,183.4 L859.8,180.2 L862.1,176.6 L864.5,173.1 L866.6,169.4 L867.8,165.3 L869.2,161.5 L871.0,158.5 L872.5,155.4 L874.7,152.9 L877.3,150.8 L879.8,148.6 L882.7,146.1 L886.1,144.4 L889.7,143.0 L893.1,141.2 L896.5,139.1 L900.1,137.3 L903.8,135.8 L907.3,133.7 L910.6,131.4 L914.1,129.5 L917.6,127.4 L920.7,124.7 L924.1,122.6 L927.4,120.3 L930.7,117.7 L933.9,115.3 L937.3,113.0 L940.6,110.7 L943.8,108.4 L947.2,106.4 L950.5,104.2 L953.4,101.5 L956.6,99.0 L959.8,96.6 L963.2,94.4 L963.2,94.4" fill="none" stroke="#80c23a" stroke-width="1.45" stroke-linejoin="round"/>
<path d="M646.9,411.7 L651.0,411.7 L655.1,411.4 L658.8,410.6 L661.6,407.4 L664.0,404.1 L667.0,401.5 L668.9,397.8 L671.0,394.2 L673.5,390.8 L677.0,389.4 L681.3,389.5 L685.4,389.3 L689.1,388.6 L692.8,387.8 L695.1,384.8 L697.6,382.3 L699.0,378.9 L700.5,375.4 L703.1,372.3 L705.7,369.0 L708.8,366.1 L712.0,363.4 L716.1,363.3 L720.1,363.3 L723.8,362.5 L726.3,359.1 L728.6,355.8 L730.3,352.1 L731.9,348.4 L733.9,345.0 L736.0,341.6 L737.9,338.0 L740.1,334.7 L742.5,331.4 L744.8,328.1 L746.8,324.7 L748.8,321.4 L751.5,318.6 L754.6,316.3 L757.9,313.9 L761.4,311.5 L764.5,308.7 L767.0,305.2 L769.4,301.7 L772.1,298.6 L774.6,295.4 L777.5,292.5 L780.1,289.3 L782.3,285.9 L785.0,282.9 L787.2,279.5 L789.7,276.3 L791.8,273.0 L793.9,269.6 L796.0,266.1 L797.9,262.6 L799.8,259.1 L802.1,255.8 L803.5,252.2 L805.1,248.8 L806.6,245.3 L808.9,242.4 L811.0,239.3 L812.9,235.8 L815.3,232.6 L817.9,229.6 L820.3,226.4 L822.5,223.0 L824.5,219.5 L827.2,216.5 L829.5,213.1 L831.6,209.7 L833.8,206.2 L836.3,203.1 L838.4,199.6 L841.1,196.7 L842.9,192.9 L845.0,189.4 L847.5,186.3 L849.3,182.6 L851.0,178.9 L853.3,175.7 L855.0,172.1 L856.7,168.6 L857.9,164.8 L859.0,161.1 L860.7,157.5 L862.3,153.3 L864.1,149.2 L866.8,145.8 L870.6,143.2 L874.1,140.4 L877.7,138.2 L881.4,136.4 L885.0,134.4 L888.8,132.7 L892.8,131.6 L896.3,129.7 L900.1,128.2 L903.7,126.6 L907.5,125.1 L911.1,123.5 L914.6,121.4 L918.5,120.3 L922.2,118.7 L925.5,116.5 L929.3,115.1 L932.9,113.2 L936.7,111.9 L940.2,110.1 L943.8,108.4 L947.1,106.2 L950.1,103.6 L953.0,100.9 L956.3,98.7 L959.3,95.9 L962.6,93.7 L962.6,93.7" fill="none" stroke="#80c23a" stroke-width="1.45" stroke-linejoin="round"/>
<path d="M646.9,410.6 L650.9,410.8 L654.6,409.9 L658.0,408.9 L661.0,406.6 L663.5,403.6 L666.7,401.2 L669.2,398.1 L671.6,394.8 L674.0,391.6 L677.7,391.2 L681.7,391.5 L685.6,391.1 L689.7,390.9 L693.8,390.0 L697.3,387.7 L700.5,385.0 L702.5,381.3 L704.5,377.8 L706.5,374.3 L709.2,371.5 L711.4,368.8 L713.9,366.6 L717.3,365.7 L721.6,366.2 L725.2,365.0 L728.4,361.5 L731.7,357.9 L733.5,354.0 L735.6,350.5 L737.9,347.0 L740.2,343.7 L741.8,340.1 L744.0,336.8 L746.5,333.7 L748.4,330.2 L750.5,327.1 L752.1,323.8 L754.1,320.8 L757.5,319.0 L760.3,316.2 L763.7,313.5 L766.6,310.3 L768.9,306.5 L771.3,302.8 L773.5,299.5 L775.7,296.1 L778.3,292.9 L780.1,289.3 L782.6,286.1 L784.2,282.4 L786.3,279.0 L788.8,275.9 L791.0,272.5 L792.7,268.8 L794.6,265.3 L796.3,261.7 L798.2,258.2 L799.6,254.3 L801.6,251.0 L803.0,247.4 L805.0,244.2 L806.9,240.8 L809.3,237.9 L811.4,234.5 L813.9,231.4 L816.4,228.3 L818.6,224.8 L821.5,222.1 L824.2,219.1 L826.9,216.2 L829.4,213.0 L831.6,209.7 L834.1,206.5 L837.1,203.8 L839.3,200.4 L842.3,197.7 L844.7,194.4 L847.0,191.1 L849.2,187.6 L851.6,184.3 L853.4,180.6 L855.5,177.2 L857.4,173.6 L859.3,170.1 L860.3,166.1 L861.5,162.3 L862.6,158.4 L864.5,154.6 L866.0,150.6 L868.4,147.3 L871.9,144.7 L875.3,142.1 L878.5,139.5 L882.0,137.4 L886.0,136.1 L889.8,134.5 L893.2,132.4 L897.0,131.1 L900.7,129.4 L904.4,127.9 L907.9,125.9 L911.6,124.4 L915.2,122.6 L918.8,120.8 L922.3,118.9 L925.6,116.6 L929.1,114.7 L932.7,112.9 L936.4,111.2 L940.0,109.7 L943.5,107.9 L947.2,106.3 L950.0,103.6 L953.1,101.1 L956.4,98.8 L959.6,96.4 L962.6,93.7 L962.6,93.7" fill="none" stroke="#80c23a" stroke-width="1.45" stroke-linejoin="round"/>
<path d="M646.9,411.2 L650.9,411.0 L655.0,411.0 L658.5,409.9 L661.6,407.5 L664.3,404.4 L666.9,401.3 L669.4,398.3 L672.3,395.6 L674.9,393.1 L678.0,391.8 L681.9,392.3 L685.9,393.1 L690.3,392.7 L694.5,391.4 L698.2,388.8 L701.5,385.9 L703.6,382.1 L705.6,378.4 L707.8,375.1 L709.2,371.4 L711.2,368.6 L713.7,366.2 L717.1,365.4 L721.2,365.4 L724.7,364.1 L727.4,360.3 L729.8,356.6 L731.7,353.0 L733.4,349.3 L734.8,345.4 L737.0,342.0 L738.9,338.6 L740.3,334.8 L742.3,331.3 L744.0,327.7 L745.4,323.8 L746.9,319.9 L748.7,316.3 L751.4,313.1 L754.2,310.3 L756.9,307.6 L759.3,304.7 L760.9,301.1 L763.0,297.9 L764.5,294.1 L766.9,290.9 L768.5,287.2 L770.9,283.9 L772.6,280.3 L774.3,276.6 L775.9,272.9 L777.9,269.5 L779.8,265.9 L781.1,262.0 L783.2,258.6 L785.5,255.3 L786.9,251.5 L789.2,248.2 L791.8,244.9 L794.2,241.5 L796.9,238.3 L800.1,235.6 L803.2,232.8 L806.6,230.3 L809.3,227.4 L812.3,224.7 L815.7,222.4 L818.4,219.4 L821.0,216.3 L824.2,213.8 L826.6,210.6 L829.4,207.7 L831.7,204.4 L834.2,201.3 L837.2,198.6 L840.0,195.6 L842.6,192.6 L845.9,190.1 L848.7,187.2 L851.5,184.2 L854.3,181.3 L857.3,178.5 L859.8,175.2 L862.3,171.9 L864.4,168.3 L866.2,164.5 L868.4,161.1 L870.1,157.9 L871.5,154.7 L873.6,152.0 L876.8,150.2 L879.6,148.3 L882.7,146.0 L886.2,144.6 L889.8,143.2 L893.5,142.1 L897.4,140.8 L901.1,139.3 L904.8,137.8 L908.6,136.5 L912.4,135.0 L916.3,133.9 L919.8,132.0 L923.3,130.0 L927.1,128.6 L930.3,125.9 L933.4,123.3 L936.5,120.5 L939.9,118.4 L943.4,115.9 L946.9,113.3 L950.0,110.5 L952.8,107.3 L955.5,104.0 L958.4,101.2 L961.6,98.7 L964.6,96.1 L964.6,96.1" fill="none" stroke="#80c23a" stroke-width="1.45" stroke-linejoin="round"/>
<path d="M646.9,410.7 L650.8,410.1 L654.6,410.0 L658.4,409.6 L661.2,407.0 L664.1,404.2 L667.1,401.5 L669.8,398.6 L672.0,395.3 L674.4,392.3 L677.7,391.1 L681.7,391.6 L685.7,391.5 L689.6,390.5 L693.6,389.6 L696.6,386.8 L699.3,383.9 L701.0,380.3 L702.6,376.6 L704.1,372.9 L706.4,369.5 L708.8,366.0 L712.2,363.7 L715.8,362.6 L719.6,362.3 L723.3,361.6 L725.6,358.4 L727.6,355.1 L729.6,351.7 L731.6,348.3 L733.6,344.8 L735.8,341.4 L738.2,338.2 L740.5,334.9 L742.8,331.6 L745.2,328.3 L747.4,325.1 L749.7,322.0 L752.5,319.5 L755.3,316.9 L758.5,314.4 L761.8,311.9 L764.7,308.8 L766.7,305.0 L769.3,301.6 L771.7,298.4 L773.8,294.9 L775.9,291.5 L778.7,288.5 L780.8,285.1 L783.2,281.8 L785.6,278.6 L788.3,275.6 L790.6,272.3 L792.6,268.8 L794.8,265.4 L797.0,262.1 L799.4,258.9 L802.0,255.8 L804.2,252.6 L806.2,249.5 L807.8,246.2 L810.3,243.5 L813.0,241.0 L815.3,237.9 L818.0,235.0 L820.3,231.7 L822.7,228.5 L825.5,225.6 L828.1,222.6 L830.3,219.3 L833.1,216.3 L835.6,213.3 L837.9,209.9 L840.3,206.7 L842.5,203.3 L845.0,200.1 L847.7,197.0 L850.2,193.7 L852.2,190.0 L854.7,186.7 L856.8,183.1 L859.0,179.6 L861.4,176.1 L863.4,172.5 L864.5,168.4 L865.8,164.3 L867.2,160.5 L867.9,156.7 L869.4,153.1 L871.6,150.1 L874.1,147.2 L877.1,144.8 L880.0,141.8 L883.3,139.6 L886.8,137.6 L890.3,135.6 L893.6,133.2 L897.4,131.9 L900.9,129.9 L904.5,128.2 L908.1,126.3 L911.9,125.0 L915.5,123.3 L919.1,121.6 L923.2,120.8 L926.8,118.9 L930.5,117.5 L934.1,115.7 L937.9,114.3 L941.7,112.7 L945.7,111.4 L949.1,109.2 L951.9,106.0 L955.1,103.5 L958.0,100.7 L960.9,98.0 L963.5,94.8 L963.5,94.8" fill="none" stroke="#80c23a" stroke-width="1.45" stroke-linejoin="round"/>
<path d="M646.9,410.7 L651.0,411.2 L655.0,411.1 L658.9,410.6 L662.0,408.0 L665.4,405.4 L668.2,402.5 L671.3,399.8 L673.5,397.1 L675.5,394.2 L678.3,392.8 L682.1,393.2 L685.8,392.7 L690.0,391.7 L694.2,390.9 L697.6,388.1 L700.9,385.3 L702.8,381.5 L704.6,377.8 L707.2,374.7 L709.4,371.6 L711.4,368.8 L714.1,367.0 L717.4,366.0 L721.7,366.5 L725.6,365.8 L729.3,362.5 L732.8,358.8 L734.9,354.9 L736.9,351.2 L738.5,347.3 L740.0,343.6 L741.8,340.1 L744.2,336.9 L746.2,333.5 L748.6,330.3 L750.7,327.3 L752.1,323.8 L754.5,321.2 L757.6,319.2 L760.5,316.4 L764.2,314.0 L767.1,310.7 L769.6,306.9 L771.6,303.0 L773.4,299.4 L774.8,295.6 L776.9,292.1 L778.2,288.2 L779.8,284.5 L781.4,280.8 L783.2,277.2 L785.3,273.8 L787.3,270.3 L789.0,266.7 L790.7,263.0 L793.2,259.9 L795.2,256.4 L797.3,252.9 L799.2,249.5 L801.2,246.2 L803.6,243.1 L805.9,240.1 L808.4,237.2 L810.4,233.6 L813.3,230.9 L816.0,227.9 L818.3,224.6 L821.0,221.7 L823.8,218.8 L826.4,215.8 L829.4,213.1 L832.3,210.3 L835.0,207.3 L838.1,204.7 L841.1,202.0 L844.3,199.5 L847.2,196.6 L849.8,193.4 L852.2,190.0 L854.2,186.3 L856.7,183.0 L859.1,179.7 L861.4,176.2 L863.8,172.7 L865.5,168.8 L866.8,164.8 L868.6,161.2 L870.7,158.3 L872.1,155.1 L874.9,153.1 L877.9,151.5 L880.6,149.8 L883.8,147.7 L887.3,146.4 L890.7,144.9 L894.0,142.9 L897.7,141.4 L901.4,139.9 L904.7,137.6 L908.1,135.5 L912.0,134.1 L915.6,132.4 L919.1,130.5 L922.7,128.7 L926.6,127.4 L930.2,125.9 L933.6,123.7 L936.8,121.2 L940.3,119.1 L943.9,116.6 L947.4,114.2 L950.8,111.7 L953.5,108.1 L956.3,105.0 L959.0,101.9 L961.1,98.1 L963.8,95.2 L963.8,95.2" fill="none" stroke="#80c23a" stroke-width="1.45" stroke-linejoin="round"/>
<path d="M646.9,411.5 L651.1,411.9 L655.2,411.8 L658.8,410.6 L661.7,407.6 L664.7,404.8 L667.9,402.2 L669.9,398.7 L672.2,395.5 L674.5,392.4 L677.8,391.5 L681.7,391.4 L685.7,391.9 L689.9,391.6 L694.2,390.8 L697.8,388.3 L701.3,385.7 L703.3,382.0 L706.0,378.7 L708.3,375.4 L710.4,372.2 L712.0,369.4 L714.6,367.8 L718.1,367.3 L722.0,367.1 L725.9,366.3 L729.7,362.8 L733.3,359.1 L735.7,355.4 L737.9,351.7 L739.6,347.9 L741.3,344.3 L743.6,341.1 L745.7,337.7 L748.1,334.6 L750.4,331.4 L752.5,328.4 L754.0,325.3 L755.9,322.4 L758.9,320.4 L761.9,317.8 L765.1,314.8 L767.9,311.3 L770.7,307.7 L773.1,303.9 L774.8,300.2 L777.2,296.9 L778.9,293.3 L780.8,289.7 L782.6,286.1 L784.7,282.7 L786.8,279.3 L788.6,275.7 L789.9,271.9 L791.9,268.4 L793.6,264.7 L794.9,260.8 L797.0,257.4 L798.8,253.9 L800.0,250.0 L801.9,246.6 L803.7,243.2 L805.6,239.9 L808.3,237.1 L810.7,234.0 L813.2,230.8 L815.9,227.8 L818.7,225.0 L821.2,221.8 L823.8,218.8 L826.5,215.9 L829.3,212.9 L831.8,209.9 L834.1,206.5 L836.6,203.4 L838.9,200.0 L841.6,197.1 L844.3,194.1 L846.9,191.0 L849.2,187.6 L851.8,184.5 L854.2,181.3 L856.4,177.8 L858.5,174.3 L860.4,170.7 L861.9,166.9 L863.9,163.4 L865.2,159.6 L866.6,155.9 L868.6,152.5 L871.0,149.6 L874.2,147.4 L877.4,145.1 L880.5,142.6 L884.0,140.7 L887.9,139.6 L891.3,137.6 L894.9,135.9 L898.6,134.4 L902.1,132.4 L905.8,130.8 L909.4,129.0 L913.2,127.6 L917.0,126.3 L920.7,124.7 L924.3,123.0 L928.0,121.3 L931.5,119.4 L935.1,117.7 L938.5,115.5 L942.0,113.3 L945.5,111.1 L948.9,108.9 L951.9,106.1 L954.9,103.2 L957.8,100.4 L960.2,97.1 L963.1,94.3 L963.1,94.3" fill="none" stroke="#80c23a" stroke-width="1.45" stroke-linejoin="round"/>
<path d="M646.9,410.5 L650.8,410.5 L654.7,410.2 L658.2,409.2 L661.0,406.7 L663.9,404.0 L667.3,401.7 L669.8,398.6 L672.4,395.8 L674.8,393.0 L678.2,392.4 L681.9,392.6 L685.9,393.4 L690.2,392.6 L694.7,391.9 L698.7,389.5 L702.5,386.8 L704.5,382.8 L707.0,379.2 L708.8,375.7 L710.4,372.3 L711.9,369.3 L714.2,367.1 L717.5,366.1 L721.6,366.3 L725.6,365.7 L729.0,362.1 L732.1,358.2 L734.6,354.7 L736.9,351.2 L739.3,347.7 L741.6,344.5 L743.6,341.1 L746.0,337.9 L748.4,334.8 L750.9,331.7 L752.9,328.6 L754.1,325.3 L756.2,322.6 L758.6,320.1 L761.9,317.8 L764.7,314.5 L767.1,310.7 L769.5,306.9 L771.9,303.2 L773.9,299.7 L775.9,296.2 L777.5,292.5 L779.4,288.9 L781.8,285.7 L783.9,282.2 L786.2,278.9 L788.4,275.6 L790.6,272.3 L793.4,269.2 L795.8,266.0 L798.3,262.8 L800.5,259.5 L802.7,256.2 L804.2,252.5 L805.8,249.2 L807.0,245.6 L809.2,242.6 L811.1,239.4 L813.5,236.3 L815.7,233.0 L818.1,229.8 L820.2,226.3 L822.7,223.2 L824.9,219.7 L827.2,216.5 L829.7,213.3 L832.3,210.3 L835.2,207.5 L837.9,204.5 L840.6,201.6 L843.4,198.6 L845.9,195.4 L849.2,192.8 L851.7,189.6 L854.1,186.3 L856.8,183.1 L859.0,179.6 L861.3,176.1 L863.7,172.7 L865.3,168.7 L867.0,164.9 L868.6,161.2 L870.1,157.9 L871.4,154.6 L873.5,151.9 L876.7,150.1 L879.5,148.1 L882.6,146.0 L886.1,144.3 L889.9,143.3 L893.6,142.2 L897.4,140.8 L901.2,139.4 L905.0,138.2 L909.1,137.3 L912.9,136.0 L916.8,134.8 L920.4,133.1 L923.9,131.1 L927.6,129.5 L931.0,127.3 L934.2,124.8 L937.3,122.1 L940.5,119.6 L944.1,117.1 L947.4,114.3 L950.3,111.0 L952.7,107.1 L955.4,103.9 L958.2,100.9 L960.7,97.7 L963.2,94.5 L963.2,94.5" fill="none" stroke="#80c23a" stroke-width="1.45" stroke-linejoin="round"/>
<path d="M785.0,250.0 L794.2,243.3 L802.0,256.0 L809.7,263.5 L822.1,251.0 L829.9,240.2 L834.5,220.0 L833.0,209.2 L840.7,199.9" fill="none" stroke="#80c23a" stroke-width="1.45" stroke-linejoin="round"/>
<path d="M898.0,132.0 L905.9,135.4 L913.6,147.2 L916.7,146.6 L921.4,137.2 L933.8,127.0 L945.0,119.0" fill="none" stroke="#80c23a" stroke-width="1.45" stroke-linejoin="round"/>
<path d="M936.0,114.0 L941.5,114.6 L946.2,122.3 L952.4,125.4 L957.0,119.2 L961.7,100.6 L963.0,95.0" fill="none" stroke="#80c23a" stroke-width="1.45" stroke-linejoin="round"/>
<path d="M868.0,137.0 L874.8,128.5 L884.1,122.3 L899.6,113.0 L915.2,105.3 L933.8,96.0 L946.2,94.4 L961.7,92.9" fill="none" stroke="#80c23a" stroke-width="1.45" stroke-linejoin="round"/>
<path d="M700.0,372.0 L707.3,355.0 L712.0,345.7 L718.2,350.4 L726.0,355.0 L732.0,347.0" fill="none" stroke="#80c23a" stroke-width="1.45" stroke-linejoin="round"/>
</g>
<path d="M646.9,410.9 L657.7,410.9 L667.0,401.6 L674.8,390.7 L685.6,390.7 L693.4,389.2 L699.6,384.5 L708.9,367.4 L713.5,362.8 L722.8,362.8 L729.0,355.0 L738.4,336.4 L749.2,317.8 L760.1,308.5 L769.4,293.0 L780.2,274.4 L791.1,255.8 L800.4,240.2 L811.2,227.8 L822.1,215.4 L834.5,201.5 L846.9,187.5 L859.3,170.4 L868.6,150.3 L881.0,141.0 L893.4,134.7 L905.9,128.5 L918.3,122.3 L930.7,116.1 L946.2,108.4 L963.2,94.4" fill="none" stroke="#5f9623" stroke-width="6.3" stroke-linejoin="round" stroke-linecap="round"/>
<clipPath id="clc"><rect x="1141.4" y="82.1" width="320.0" height="341.2"/></clipPath>
<g clip-path="url(#clc)">
<path d="M1144.0,92.1 L1147.7,93.7 L1150.8,94.7 L1153.7,96.6 L1156.8,95.5 L1159.9,94.0 L1163.6,92.7 L1167.3,91.5 L1171.9,89.9 L1176.7,88.4 L1181.7,90.4 L1186.6,93.1 L1190.3,96.0 L1193.2,99.7 L1196.0,102.8 L1198.2,105.9 L1201.2,108.5 L1204.2,111.1 L1207.2,114.1 L1209.8,117.6 L1211.6,121.5 L1214.1,124.9 L1216.4,128.6 L1218.5,132.6 L1220.6,136.5 L1221.3,141.0 L1222.9,144.9 L1224.0,148.8 L1225.4,152.7 L1226.6,156.7 L1228.1,160.6 L1228.7,164.7 L1229.9,168.6 L1231.3,172.3 L1231.8,176.4 L1232.7,180.3 L1233.5,184.3 L1234.1,188.4 L1235.1,192.3 L1236.1,196.2 L1237.1,200.1 L1238.4,203.9 L1239.3,207.8 L1240.1,211.7 L1240.9,215.7 L1242.1,219.6 L1243.0,223.5 L1243.8,227.5 L1244.5,231.5 L1244.5,235.6 L1245.3,239.5 L1245.9,243.5 L1246.5,247.5 L1247.6,251.3 L1247.7,255.3 L1248.4,259.1 L1249.6,262.8 L1250.8,266.6 L1252.1,270.4 L1253.4,274.1 L1254.1,278.1 L1255.7,281.8 L1256.8,285.7 L1258.6,289.3 L1259.8,293.1 L1261.7,296.7 L1263.7,300.2 L1265.2,304.0 L1266.6,307.7 L1268.5,311.4 L1270.2,315.1 L1271.9,318.8 L1273.7,322.5 L1274.8,326.4 L1276.5,330.0 L1277.4,334.0 L1278.6,337.8 L1280.5,341.4 L1281.7,345.2 L1283.0,349.0 L1284.2,352.9 L1285.9,356.5 L1287.1,360.4 L1288.1,364.3 L1289.0,368.2 L1290.1,372.0 L1291.0,376.0 L1291.4,379.6 L1292.5,383.0 L1294.2,386.2 L1295.5,389.6 L1296.8,393.5 L1298.0,397.4 L1299.9,401.0 L1300.1,403.9 L1299.2,407.0 L1298.2,404.1 L1298.9,401.7 L1300.4,398.0 L1301.8,394.2 L1303.3,390.6 L1304.8,387.0 L1306.3,382.9 L1307.2,377.8 L1308.7,373.1 L1311.1,368.8 L1312.9,363.8 L1315.3,359.0 L1318.1,354.3 L1321.0,349.5 L1323.8,345.0 L1326.8,340.1 L1330.0,335.1 L1334.1,330.7 L1338.8,327.3 L1343.0,323.2 L1347.4,319.5 L1351.9,317.0 L1356.4,315.8 L1360.4,317.7 L1364.2,319.0 L1368.1,320.1 L1372.1,320.0 L1376.1,320.2 L1380.1,320.3 L1384.2,320.6 L1388.2,320.9 L1392.2,320.9 L1396.2,321.0 L1400.2,320.9 L1404.2,321.2 L1408.2,321.2 L1412.2,320.8 L1416.3,320.8 L1420.3,321.1 L1424.3,320.9 L1428.3,320.9 L1432.3,320.4 L1436.3,320.2 L1440.3,320.0 L1444.3,319.8 L1448.4,319.5 L1452.4,319.9 L1456.4,319.3 L1460.4,319.8 L1460.4,319.8" fill="none" stroke="#5eaeea" stroke-width="1.45" stroke-linejoin="round"/>
<path d="M1143.2,94.1 L1146.8,95.9 L1150.3,97.0 L1153.6,99.1 L1157.2,98.2 L1160.9,97.3 L1164.7,96.1 L1168.6,95.0 L1172.4,93.5 L1176.4,92.1 L1180.2,94.0 L1184.1,96.0 L1186.8,99.0 L1189.0,102.5 L1191.9,105.5 L1194.0,108.8 L1196.6,111.8 L1199.3,114.8 L1201.9,117.9 L1204.8,120.9 L1206.7,124.6 L1208.8,128.1 L1210.6,131.8 L1212.5,135.5 L1213.7,139.5 L1215.4,143.3 L1216.2,147.3 L1217.4,151.1 L1218.9,154.9 L1220.0,158.8 L1221.7,162.5 L1222.8,166.4 L1223.9,170.2 L1225.5,173.9 L1226.6,177.8 L1228.2,181.5 L1229.4,185.4 L1230.6,189.3 L1232.1,193.1 L1233.6,196.8 L1234.7,200.7 L1235.8,204.6 L1237.3,208.3 L1237.9,212.3 L1238.9,216.2 L1240.1,220.1 L1240.6,224.1 L1241.3,228.1 L1242.5,232.0 L1243.0,236.0 L1243.6,239.9 L1244.7,243.8 L1245.7,247.7 L1246.7,251.5 L1247.5,255.3 L1248.6,259.0 L1249.8,262.7 L1251.2,266.4 L1252.8,270.1 L1254.7,273.7 L1255.8,277.6 L1256.9,281.4 L1258.8,285.0 L1259.7,288.9 L1261.6,292.5 L1262.5,296.4 L1263.9,300.2 L1265.2,304.0 L1266.4,307.8 L1267.6,311.7 L1269.4,315.4 L1270.3,319.3 L1271.9,323.1 L1272.8,327.0 L1274.7,330.6 L1276.1,334.4 L1277.4,338.2 L1278.8,341.9 L1280.4,345.6 L1281.5,349.5 L1282.9,353.3 L1284.3,357.1 L1285.9,360.8 L1287.4,364.5 L1288.2,368.4 L1289.2,372.4 L1290.6,376.1 L1291.1,379.7 L1292.1,383.2 L1293.6,386.5 L1294.7,390.0 L1296.3,393.8 L1297.4,397.8 L1298.8,401.6 L1299.5,404.6 L1299.2,407.6 L1298.6,404.6 L1299.4,402.0 L1300.6,398.1 L1302.2,394.4 L1303.3,390.6 L1304.1,386.6 L1305.2,382.3 L1306.8,377.7 L1307.7,372.7 L1309.7,368.2 L1312.3,363.7 L1314.7,358.9 L1317.3,354.1 L1320.6,349.6 L1323.4,345.1 L1327.1,340.9 L1330.6,336.3 L1334.6,332.2 L1339.4,329.2 L1343.7,326.0 L1347.9,322.5 L1352.1,320.7 L1356.2,319.1 L1360.2,320.2 L1364.1,321.8 L1368.1,322.3 L1372.1,321.7 L1376.1,321.8 L1380.1,321.6 L1384.2,320.9 L1388.2,320.6 L1392.2,321.0 L1396.2,320.5 L1400.2,320.5 L1404.2,320.4 L1408.2,320.8 L1412.2,320.9 L1416.3,320.9 L1420.3,320.9 L1424.3,321.0 L1428.3,321.0 L1432.3,321.5 L1436.3,321.2 L1440.3,321.1 L1444.3,321.4 L1448.4,321.3 L1452.4,321.4 L1456.4,321.4 L1460.4,321.1 L1460.4,321.1" fill="none" stroke="#5eaeea" stroke-width="1.45" stroke-linejoin="round"/>
<path d="M1144.4,91.3 L1147.9,93.1 L1150.8,94.9 L1153.7,96.0 L1156.8,95.1 L1160.1,94.6 L1163.9,93.8 L1167.7,92.7 L1172.1,91.3 L1176.6,89.6 L1181.2,91.6 L1185.6,94.3 L1188.9,97.2 L1192.4,100.3 L1195.2,103.3 L1198.1,106.0 L1200.5,109.0 L1203.4,111.7 L1206.1,115.0 L1208.5,118.5 L1210.4,122.3 L1212.1,126.1 L1214.3,129.8 L1215.7,134.0 L1217.1,138.0 L1218.1,142.2 L1218.6,146.4 L1219.9,150.2 L1220.6,154.3 L1221.3,158.3 L1222.1,162.3 L1223.4,166.2 L1224.3,170.1 L1225.4,174.0 L1226.2,177.9 L1227.0,181.9 L1227.7,185.9 L1229.1,189.6 L1230.2,193.5 L1231.0,197.5 L1232.1,201.3 L1232.6,205.3 L1233.3,209.3 L1234.4,213.2 L1235.4,217.1 L1235.8,221.1 L1236.8,225.0 L1237.0,229.1 L1238.0,233.0 L1239.1,236.8 L1239.6,240.8 L1240.5,244.8 L1241.9,248.5 L1242.9,252.4 L1244.4,256.2 L1245.7,259.9 L1247.7,263.4 L1249.5,267.0 L1250.8,270.8 L1252.4,274.5 L1254.1,278.1 L1255.9,281.8 L1257.5,285.4 L1258.9,289.2 L1260.8,292.8 L1262.3,296.5 L1263.5,300.3 L1265.3,304.0 L1266.9,307.6 L1268.2,311.5 L1269.8,315.2 L1271.7,318.9 L1273.2,322.7 L1274.5,326.4 L1275.6,330.3 L1277.0,334.1 L1278.8,337.7 L1280.1,341.5 L1281.6,345.2 L1282.9,349.0 L1284.6,352.7 L1285.9,356.5 L1287.5,360.3 L1288.7,364.1 L1289.6,368.0 L1290.7,371.9 L1291.3,375.9 L1292.0,379.4 L1293.0,382.8 L1294.3,386.1 L1295.2,389.8 L1296.4,393.7 L1297.3,397.8 L1298.9,401.5 L1299.4,404.7 L1299.2,407.8 L1298.9,405.1 L1299.4,402.0 L1300.9,398.3 L1303.0,394.9 L1304.5,391.2 L1305.7,387.5 L1307.2,383.5 L1308.2,378.8 L1309.9,374.5 L1311.9,370.3 L1314.9,366.3 L1316.8,361.7 L1320.0,357.8 L1323.2,353.8 L1326.1,349.9 L1329.4,346.1 L1332.6,342.2 L1336.4,339.0 L1340.6,336.3 L1344.4,333.1 L1348.3,330.4 L1352.2,328.0 L1356.2,327.3 L1360.1,328.1 L1364.0,329.1 L1368.1,329.2 L1372.1,328.8 L1376.1,328.3 L1380.1,328.1 L1384.2,328.3 L1388.2,328.5 L1392.2,327.9 L1396.2,328.1 L1400.2,328.6 L1404.2,328.2 L1408.2,328.3 L1412.2,328.1 L1416.3,328.5 L1420.3,329.0 L1424.3,329.2 L1428.3,329.0 L1432.3,329.0 L1436.3,328.9 L1440.3,328.8 L1444.3,329.0 L1448.4,329.3 L1452.4,329.0 L1456.4,329.1 L1460.4,328.8 L1460.4,328.8" fill="none" stroke="#5eaeea" stroke-width="1.45" stroke-linejoin="round"/>
<path d="M1143.7,92.9 L1147.5,94.1 L1150.5,95.9 L1153.7,97.3 L1157.0,96.3 L1160.4,95.6 L1164.2,94.7 L1168.0,93.5 L1172.2,91.7 L1176.5,90.4 L1180.6,92.9 L1184.9,95.0 L1188.0,98.0 L1190.8,101.4 L1193.1,104.7 L1195.2,108.0 L1197.6,111.1 L1200.2,114.1 L1202.7,117.3 L1204.7,121.0 L1206.6,124.6 L1208.8,128.1 L1210.9,131.7 L1213.0,135.3 L1214.3,139.2 L1215.7,143.1 L1216.7,147.1 L1218.0,150.9 L1219.3,154.7 L1220.3,158.7 L1221.8,162.4 L1223.0,166.3 L1223.8,170.3 L1224.9,174.1 L1225.8,178.0 L1226.8,181.9 L1227.4,185.9 L1227.9,190.0 L1228.8,193.9 L1229.3,197.9 L1230.2,201.8 L1230.8,205.8 L1231.9,209.7 L1232.4,213.7 L1233.5,217.5 L1234.8,221.3 L1235.5,225.3 L1236.2,229.3 L1237.7,233.0 L1239.0,236.9 L1240.1,240.7 L1241.6,244.5 L1242.3,248.4 L1243.4,252.3 L1244.9,256.0 L1245.8,259.8 L1247.5,263.5 L1249.5,267.0 L1250.6,270.9 L1252.4,274.5 L1253.7,278.3 L1255.1,282.0 L1256.7,285.7 L1258.3,289.4 L1259.7,293.2 L1261.3,296.8 L1263.0,300.5 L1264.9,304.1 L1266.1,307.9 L1267.9,311.6 L1269.4,315.3 L1270.8,319.2 L1272.5,322.9 L1274.1,326.6 L1275.2,330.4 L1276.7,334.2 L1277.4,338.2 L1279.1,341.8 L1280.1,345.7 L1281.5,349.5 L1282.2,353.5 L1283.4,357.3 L1284.2,361.3 L1285.0,365.2 L1285.9,369.2 L1286.7,373.1 L1287.6,377.1 L1288.6,380.7 L1289.8,384.2 L1292.0,387.3 L1293.0,391.0 L1294.5,394.8 L1296.2,398.5 L1297.9,402.1 L1299.4,404.6 L1299.2,407.8 L1298.9,405.0 L1299.6,402.1 L1301.3,398.5 L1302.8,394.8 L1304.3,391.1 L1306.3,387.8 L1308.0,384.1 L1309.5,379.9 L1312.1,376.3 L1314.2,372.5 L1316.7,368.6 L1318.7,364.5 L1321.9,361.1 L1325.0,357.7 L1327.8,354.2 L1330.7,350.6 L1333.7,347.3 L1337.3,344.6 L1340.9,342.0 L1344.7,339.6 L1348.4,337.3 L1352.2,336.0 L1356.2,335.0 L1360.1,335.6 L1364.1,336.2 L1368.1,336.4 L1372.1,336.4 L1376.1,336.6 L1380.1,336.4 L1384.2,336.1 L1388.2,336.0 L1392.2,335.9 L1396.2,336.0 L1400.2,336.0 L1404.2,335.8 L1408.2,336.1 L1412.2,335.8 L1416.3,335.6 L1420.3,335.6 L1424.3,336.0 L1428.3,336.1 L1432.3,335.8 L1436.3,335.7 L1440.3,336.0 L1444.3,336.4 L1448.4,336.4 L1452.4,336.4 L1456.4,336.5 L1460.4,337.0 L1460.4,337.0" fill="none" stroke="#5eaeea" stroke-width="1.45" stroke-linejoin="round"/>
<path d="M1141.9,97.2 L1145.6,98.8 L1149.5,100.3 L1153.5,101.5 L1157.4,100.1 L1161.4,98.9 L1165.3,97.8 L1168.9,95.9 L1172.6,94.3 L1176.4,92.5 L1179.9,94.7 L1183.8,96.3 L1186.9,98.9 L1189.0,102.5 L1191.9,105.5 L1193.9,108.9 L1196.7,111.8 L1199.2,114.9 L1201.7,118.0 L1204.4,121.2 L1206.5,124.7 L1208.7,128.1 L1210.9,131.6 L1212.7,135.4 L1214.3,139.2 L1216.6,142.8 L1217.9,146.7 L1219.2,150.5 L1220.4,154.3 L1222.3,158.0 L1222.9,162.1 L1224.1,166.0 L1225.4,169.8 L1226.4,173.7 L1228.1,177.4 L1228.9,181.4 L1230.1,185.2 L1231.5,189.0 L1232.8,192.9 L1233.4,196.9 L1234.4,200.8 L1235.9,204.5 L1236.9,208.4 L1237.8,212.3 L1238.9,216.2 L1239.9,220.1 L1241.1,224.0 L1241.5,228.0 L1242.9,231.9 L1243.6,235.8 L1244.1,239.8 L1245.6,243.6 L1245.7,247.7 L1246.6,251.5 L1247.6,255.3 L1248.7,259.0 L1249.9,262.7 L1251.1,266.5 L1252.5,270.2 L1253.9,274.0 L1254.9,277.9 L1256.0,281.7 L1257.4,285.5 L1258.3,289.4 L1260.0,293.0 L1261.5,296.8 L1262.7,300.6 L1264.2,304.3 L1266.0,307.9 L1267.5,311.7 L1269.2,315.4 L1270.3,319.3 L1271.6,323.2 L1272.8,327.0 L1274.1,330.8 L1275.4,334.6 L1276.5,338.4 L1277.8,342.2 L1278.5,346.2 L1279.7,350.1 L1280.9,353.9 L1282.2,357.7 L1283.3,361.6 L1283.9,365.6 L1285.1,369.4 L1286.5,373.2 L1287.3,377.1 L1287.9,380.9 L1288.6,384.7 L1290.3,388.2 L1291.6,391.8 L1293.3,395.5 L1294.7,399.3 L1296.0,403.2 L1297.5,406.7 L1299.0,410.4 L1300.6,407.2 L1302.5,403.9 L1304.6,400.4 L1306.6,397.0 L1308.1,393.2 L1309.8,389.6 L1311.4,385.8 L1313.2,381.9 L1315.6,378.2 L1317.2,374.2 L1319.1,370.3 L1321.4,366.6 L1323.2,362.5 L1325.9,359.0 L1328.6,355.6 L1331.5,352.2 L1334.2,348.9 L1337.5,346.1 L1341.2,344.0 L1344.8,341.4 L1348.6,339.7 L1352.2,338.2 L1356.1,337.7 L1360.0,338.4 L1364.1,338.8 L1368.0,339.8 L1372.1,339.4 L1376.1,339.7 L1380.1,339.4 L1384.2,340.0 L1388.2,339.3 L1392.2,339.8 L1396.2,339.2 L1400.2,339.6 L1404.2,339.0 L1408.2,338.9 L1412.2,338.5 L1416.3,338.6 L1420.3,338.8 L1424.3,338.3 L1428.3,338.4 L1432.3,338.0 L1436.3,338.2 L1440.3,337.6 L1444.3,337.3 L1448.4,337.4 L1452.4,337.2 L1456.4,337.1 L1460.4,336.9 L1460.4,336.9" fill="none" stroke="#5eaeea" stroke-width="1.45" stroke-linejoin="round"/>
<path d="M1142.7,95.4 L1146.1,97.5 L1149.9,98.6 L1153.5,100.0 L1157.2,98.6 L1161.2,98.2 L1165.0,97.1 L1168.9,96.1 L1172.5,94.0 L1176.3,93.4 L1179.9,94.7 L1183.4,96.7 L1186.2,99.5 L1188.4,103.0 L1190.8,106.2 L1192.9,109.6 L1195.8,112.4 L1198.8,115.1 L1201.4,118.3 L1203.8,121.6 L1206.6,124.6 L1208.7,128.1 L1210.9,131.6 L1212.9,135.3 L1215.1,138.9 L1216.4,142.9 L1217.8,146.7 L1219.1,150.5 L1220.7,154.2 L1221.6,158.2 L1222.5,162.2 L1223.8,166.1 L1224.4,170.1 L1225.6,173.9 L1227.0,177.7 L1227.7,181.7 L1229.0,185.5 L1230.0,189.4 L1230.4,193.5 L1231.2,197.4 L1232.5,201.2 L1233.5,205.1 L1234.0,209.1 L1235.1,213.0 L1235.6,217.0 L1236.1,221.0 L1236.4,225.1 L1236.8,229.1 L1237.4,233.1 L1238.3,237.0 L1238.6,241.1 L1239.3,245.0 L1239.5,249.1 L1240.1,253.1 L1240.9,257.1 L1241.7,261.1 L1243.3,264.8 L1244.6,268.6 L1245.9,272.5 L1247.2,276.2 L1248.7,280.0 L1250.4,283.6 L1251.6,287.5 L1253.4,291.1 L1254.4,295.0 L1255.8,298.7 L1257.0,302.6 L1258.2,306.4 L1259.6,310.2 L1260.4,314.2 L1261.4,318.0 L1262.6,321.8 L1264.1,325.5 L1264.8,329.6 L1265.5,333.5 L1266.9,337.3 L1268.4,341.0 L1269.7,344.8 L1271.1,348.6 L1272.4,352.4 L1274.0,356.1 L1274.8,360.0 L1276.3,363.8 L1277.6,367.6 L1279.1,371.3 L1281.1,374.9 L1282.4,378.7 L1283.5,382.6 L1285.0,386.3 L1286.4,390.1 L1288.8,393.4 L1290.3,397.2 L1292.2,400.7 L1294.0,404.3 L1296.3,408.0 L1298.9,412.2 L1301.8,408.6 L1303.9,404.7 L1305.6,401.0 L1307.6,397.5 L1308.7,393.6 L1309.7,389.6 L1311.0,385.7 L1312.4,381.8 L1313.9,378.0 L1314.8,373.8 L1316.5,370.0 L1318.1,365.9 L1320.9,362.5 L1323.6,359.2 L1326.1,355.8 L1328.9,352.4 L1331.6,348.6 L1335.8,346.8 L1340.0,345.3 L1344.0,343.6 L1348.1,342.5 L1352.2,342.5 L1356.1,343.6 L1360.0,344.5 L1364.0,345.3 L1368.0,345.5 L1372.1,345.7 L1376.1,345.4 L1380.1,345.1 L1384.2,345.1 L1388.2,345.3 L1392.2,344.7 L1396.2,344.4 L1400.2,344.1 L1404.2,343.7 L1408.2,343.8 L1412.2,344.3 L1416.3,343.9 L1420.3,343.9 L1424.3,344.2 L1428.3,344.2 L1432.3,344.4 L1436.3,344.7 L1440.3,344.6 L1444.3,345.0 L1448.4,344.5 L1452.4,344.9 L1456.4,344.4 L1460.4,344.3 L1460.4,344.3" fill="none" stroke="#5eaeea" stroke-width="1.45" stroke-linejoin="round"/>
<path d="M1142.0,97.0 L1145.8,98.2 L1149.7,99.4 L1153.5,100.8 L1157.4,99.7 L1161.2,98.2 L1164.9,96.7 L1168.4,94.6 L1172.3,92.9 L1176.5,91.1 L1180.4,93.5 L1184.5,95.5 L1187.3,98.5 L1189.7,102.1 L1192.0,105.4 L1194.4,108.6 L1196.6,111.9 L1199.3,114.8 L1201.8,118.0 L1204.2,121.3 L1206.2,124.9 L1207.7,128.8 L1209.6,132.4 L1212.0,135.7 L1213.6,139.5 L1214.4,143.6 L1216.0,147.3 L1217.1,151.2 L1219.0,154.8 L1220.7,158.5 L1221.9,162.4 L1223.0,166.3 L1224.1,170.2 L1225.1,174.1 L1226.5,177.8 L1227.7,181.7 L1229.2,185.5 L1230.3,189.3 L1231.1,193.3 L1231.9,197.2 L1233.8,200.9 L1234.9,204.8 L1235.5,208.8 L1236.5,212.7 L1237.4,216.6 L1238.9,220.3 L1239.7,224.3 L1240.5,228.3 L1241.0,232.3 L1241.9,236.2 L1243.0,240.1 L1243.8,244.0 L1244.9,247.9 L1245.9,251.7 L1246.9,255.5 L1248.0,259.2 L1249.1,262.9 L1250.7,266.6 L1252.2,270.3 L1253.3,274.2 L1255.0,277.8 L1255.9,281.8 L1257.9,285.3 L1259.4,289.0 L1260.5,292.9 L1261.7,296.7 L1262.9,300.5 L1264.4,304.2 L1265.1,308.2 L1266.7,312.0 L1267.9,315.8 L1269.0,319.7 L1270.1,323.6 L1270.9,327.6 L1271.9,331.5 L1273.2,335.3 L1274.0,339.2 L1275.1,343.1 L1276.1,347.0 L1277.0,350.9 L1278.0,354.8 L1278.5,358.9 L1279.6,362.7 L1280.7,366.6 L1281.5,370.6 L1283.2,374.2 L1284.1,378.1 L1285.1,382.0 L1286.3,385.7 L1288.3,389.2 L1289.4,393.1 L1291.3,396.6 L1292.9,400.3 L1295.1,403.7 L1297.0,407.2 L1298.9,411.5 L1301.2,407.9 L1303.0,404.1 L1304.8,400.5 L1307.1,397.2 L1308.8,393.6 L1310.4,389.9 L1312.1,386.4 L1313.8,382.9 L1315.4,379.4 L1317.4,376.0 L1318.9,372.4 L1320.7,368.9 L1323.0,365.8 L1325.9,363.1 L1328.7,360.4 L1331.1,357.4 L1333.9,354.6 L1337.2,352.9 L1341.0,351.8 L1344.6,350.4 L1348.3,349.0 L1352.2,349.2 L1356.2,350.1 L1360.1,350.7 L1364.1,351.5 L1368.1,351.3 L1372.1,351.8 L1376.1,352.0 L1380.1,352.1 L1384.2,351.9 L1388.2,352.0 L1392.2,351.5 L1396.2,351.6 L1400.2,351.4 L1404.2,351.9 L1408.2,351.7 L1412.2,351.1 L1416.3,351.5 L1420.3,351.5 L1424.3,351.5 L1428.3,351.7 L1432.3,352.0 L1436.3,351.8 L1440.3,351.5 L1444.3,352.0 L1448.4,352.2 L1452.4,352.3 L1456.4,352.0 L1460.4,351.9 L1460.4,351.9" fill="none" stroke="#5eaeea" stroke-width="1.45" stroke-linejoin="round"/>
<path d="M1142.2,96.6 L1145.7,98.6 L1149.4,100.7 L1153.4,102.1 L1157.7,101.7 L1162.0,101.0 L1165.9,99.6 L1169.8,98.6 L1173.1,97.5 L1176.1,96.5 L1178.4,98.3 L1180.3,100.2 L1182.5,102.7 L1183.7,106.1 L1185.3,109.8 L1187.5,113.3 L1189.9,116.7 L1192.3,120.0 L1194.4,123.3 L1196.9,126.2 L1199.4,129.2 L1201.4,132.6 L1203.5,135.8 L1205.2,139.1 L1207.4,142.2 L1208.6,145.8 L1209.8,149.5 L1210.9,153.4 L1212.3,157.1 L1213.2,160.9 L1214.3,164.7 L1215.2,168.5 L1216.5,172.3 L1217.1,176.3 L1218.4,180.1 L1219.3,184.0 L1220.5,187.8 L1222.0,191.5 L1223.1,195.3 L1224.2,199.2 L1224.8,203.2 L1226.3,206.9 L1227.2,210.8 L1228.3,214.7 L1229.6,218.5 L1231.1,222.2 L1232.0,226.1 L1233.8,229.8 L1234.4,233.8 L1235.5,237.6 L1236.6,241.5 L1237.7,245.4 L1238.5,249.3 L1239.2,253.3 L1240.1,257.3 L1240.9,261.3 L1242.2,265.2 L1243.8,268.9 L1244.6,272.9 L1245.9,276.7 L1247.2,280.5 L1248.2,284.4 L1249.5,288.2 L1251.5,291.7 L1253.0,295.5 L1254.5,299.2 L1255.8,303.0 L1256.9,306.9 L1258.8,310.5 L1260.4,314.2 L1262.0,317.8 L1263.8,321.4 L1265.2,325.2 L1266.4,329.1 L1267.8,332.8 L1269.4,336.5 L1270.8,340.3 L1272.2,344.0 L1273.3,347.9 L1274.3,351.8 L1276.0,355.5 L1276.6,359.5 L1278.2,363.2 L1278.9,367.2 L1279.7,371.1 L1281.4,374.8 L1282.4,378.7 L1283.9,382.4 L1285.0,386.3 L1286.9,389.8 L1288.9,393.3 L1290.3,397.1 L1292.5,400.5 L1294.6,404.0 L1296.6,407.6 L1298.9,411.6 L1301.2,407.9 L1303.0,404.2 L1305.1,400.7 L1306.8,397.1 L1309.0,393.7 L1310.6,390.1 L1312.1,386.4 L1313.8,383.0 L1315.6,379.7 L1317.8,376.6 L1319.7,373.3 L1321.4,369.9 L1323.7,367.0 L1326.4,364.3 L1328.9,361.5 L1331.8,359.1 L1334.2,356.3 L1337.6,354.9 L1341.4,354.2 L1344.9,352.9 L1348.5,351.9 L1352.2,351.9 L1356.1,352.7 L1360.1,353.3 L1364.1,353.9 L1368.1,353.9 L1372.1,354.2 L1376.1,353.9 L1380.1,354.2 L1384.2,353.7 L1388.2,353.5 L1392.2,353.5 L1396.2,353.7 L1400.2,353.4 L1404.2,353.6 L1408.2,353.9 L1412.2,353.6 L1416.3,354.1 L1420.3,353.9 L1424.3,353.7 L1428.3,353.7 L1432.3,353.6 L1436.3,353.3 L1440.3,353.7 L1444.3,353.8 L1448.4,354.0 L1452.4,354.0 L1456.4,353.9 L1460.4,353.4 L1460.4,353.4" fill="none" stroke="#5eaeea" stroke-width="1.45" stroke-linejoin="round"/>
<path d="M1142.3,96.3 L1145.8,98.3 L1149.6,99.8 L1153.5,101.0 L1157.4,99.8 L1161.3,98.7 L1165.3,97.9 L1169.0,96.4 L1172.7,94.9 L1176.3,93.5 L1179.7,95.2 L1182.8,97.4 L1185.5,100.1 L1187.5,103.6 L1189.9,106.8 L1191.7,110.4 L1193.5,114.0 L1196.0,117.3 L1198.1,120.6 L1200.2,124.0 L1202.0,127.6 L1203.7,131.1 L1205.3,134.7 L1206.5,138.4 L1207.7,142.0 L1208.2,145.9 L1208.6,150.0 L1209.5,153.9 L1210.0,157.8 L1210.6,161.7 L1211.3,165.6 L1211.7,169.5 L1212.6,173.4 L1213.0,177.4 L1213.8,181.4 L1214.4,185.3 L1215.4,189.1 L1215.9,193.1 L1216.9,196.9 L1217.6,200.8 L1219.0,204.6 L1220.6,208.4 L1221.4,212.3 L1222.8,216.1 L1223.7,220.0 L1225.0,223.7 L1225.9,227.6 L1226.8,231.4 L1227.9,235.2 L1229.2,239.1 L1230.0,243.0 L1230.8,246.9 L1231.2,250.9 L1231.9,255.0 L1233.0,259.2 L1233.7,263.4 L1235.5,267.3 L1236.4,271.4 L1237.9,275.1 L1238.4,279.2 L1239.6,283.0 L1240.8,286.9 L1242.4,290.6 L1243.7,294.4 L1245.1,298.2 L1247.0,301.8 L1248.3,305.6 L1250.2,309.2 L1252.2,312.8 L1253.9,316.4 L1255.3,320.1 L1257.4,323.6 L1258.8,327.3 L1260.5,330.9 L1262.4,334.5 L1264.4,338.1 L1265.8,341.9 L1268.0,345.4 L1269.3,349.2 L1271.5,352.7 L1273.1,356.4 L1274.7,360.1 L1276.2,363.8 L1278.0,367.5 L1279.3,371.3 L1280.6,375.1 L1282.4,378.7 L1284.0,382.4 L1285.0,386.3 L1287.4,389.6 L1288.9,393.3 L1290.8,396.9 L1293.0,400.2 L1294.8,403.8 L1296.8,407.4 L1299.0,411.0 L1301.2,407.9 L1303.1,404.2 L1305.1,400.7 L1306.3,396.8 L1308.4,393.4 L1309.5,389.5 L1311.3,386.2 L1312.9,383.0 L1314.4,379.8 L1316.1,376.7 L1318.0,373.6 L1320.1,370.6 L1322.8,368.2 L1325.1,365.5 L1327.9,363.3 L1330.7,361.0 L1333.6,358.9 L1337.0,357.9 L1340.7,357.4 L1344.5,357.1 L1348.4,357.4 L1352.2,358.4 L1356.1,360.0 L1360.1,360.3 L1364.1,360.5 L1368.1,360.7 L1372.1,360.9 L1376.1,361.3 L1380.1,361.0 L1384.2,361.1 L1388.2,361.4 L1392.2,361.0 L1396.2,361.2 L1400.2,360.5 L1404.2,360.8 L1408.2,360.9 L1412.2,361.0 L1416.3,360.9 L1420.3,360.8 L1424.3,360.5 L1428.3,360.8 L1432.3,361.1 L1436.3,361.3 L1440.3,360.8 L1444.3,361.1 L1448.4,361.4 L1452.4,361.4 L1456.4,361.2 L1460.4,361.1 L1460.4,361.1" fill="none" stroke="#5eaeea" stroke-width="1.45" stroke-linejoin="round"/>
<path d="M1141.3,98.7 L1144.9,100.6 L1149.1,102.1 L1153.3,103.7 L1157.8,102.9 L1162.3,101.9 L1166.3,100.9 L1170.2,99.5 L1173.2,98.5 L1176.0,97.1 L1178.1,99.0 L1180.3,100.2 L1182.3,102.9 L1183.7,106.1 L1185.5,109.7 L1187.2,113.5 L1190.1,116.5 L1192.3,120.0 L1194.5,123.2 L1197.0,126.1 L1198.8,129.5 L1201.4,132.5 L1203.4,135.8 L1205.7,138.8 L1206.9,142.4 L1207.9,146.0 L1209.1,149.8 L1210.4,153.6 L1211.8,157.2 L1212.9,161.0 L1213.5,164.9 L1214.3,168.8 L1215.3,172.6 L1216.8,176.4 L1218.2,180.2 L1219.2,184.0 L1220.5,187.8 L1221.2,191.7 L1222.9,195.4 L1224.2,199.2 L1225.6,203.0 L1226.5,206.9 L1228.0,210.6 L1229.5,214.4 L1230.2,218.4 L1231.5,222.2 L1232.6,226.0 L1233.8,229.8 L1234.5,233.7 L1235.6,237.6 L1236.6,241.5 L1236.8,245.6 L1237.7,249.5 L1238.2,253.5 L1239.0,257.6 L1240.0,261.5 L1241.0,265.6 L1242.1,269.5 L1242.8,273.5 L1244.0,277.3 L1245.1,281.2 L1246.2,285.1 L1246.9,289.1 L1248.4,292.8 L1249.6,296.7 L1251.2,300.4 L1252.5,304.2 L1253.9,307.9 L1254.8,311.9 L1255.9,315.7 L1256.8,319.6 L1258.0,323.4 L1259.3,327.1 L1260.2,331.0 L1261.2,334.9 L1262.0,338.9 L1263.0,342.7 L1264.0,346.7 L1265.2,350.5 L1266.1,354.4 L1267.2,358.3 L1268.5,362.0 L1270.1,365.7 L1271.5,369.5 L1272.9,373.3 L1273.9,377.2 L1275.3,381.0 L1277.4,384.9 L1279.1,388.9 L1281.6,392.5 L1283.8,396.2 L1286.3,399.4 L1288.7,402.7 L1291.4,405.7 L1294.2,410.2 L1298.7,414.7 L1303.6,410.9 L1306.8,406.4 L1309.3,403.2 L1311.7,399.9 L1314.0,396.5 L1316.1,393.0 L1318.5,390.0 L1320.2,387.2 L1321.9,384.4 L1323.7,381.7 L1325.1,379.1 L1326.6,376.5 L1327.8,374.0 L1329.9,372.1 L1331.8,369.8 L1334.3,368.3 L1336.1,366.4 L1338.6,365.4 L1341.8,365.5 L1345.2,365.6 L1348.6,365.6 L1352.2,366.6 L1356.1,369.2 L1360.1,369.3 L1364.1,369.8 L1368.1,370.2 L1372.1,370.6 L1376.1,370.5 L1380.1,370.7 L1384.2,370.8 L1388.2,371.0 L1392.2,371.1 L1396.2,371.2 L1400.2,371.1 L1404.2,371.3 L1408.2,371.3 L1412.2,370.6 L1416.3,370.4 L1420.3,370.6 L1424.3,370.1 L1428.3,369.6 L1432.3,369.6 L1436.3,369.9 L1440.3,369.6 L1444.3,369.3 L1448.4,369.0 L1452.4,368.9 L1456.4,369.3 L1460.4,369.6 L1460.4,369.6" fill="none" stroke="#5eaeea" stroke-width="1.45" stroke-linejoin="round"/>
<path d="M1140.7,100.0 L1144.3,101.8 L1148.7,104.0 L1153.2,105.8 L1158.0,104.7 L1162.8,103.6 L1167.0,103.1 L1170.9,101.7 L1173.6,100.7 L1175.8,99.2 L1177.2,101.1 L1178.9,101.7 L1180.6,104.4 L1181.3,107.7 L1183.4,111.1 L1185.3,114.8 L1187.0,118.8 L1189.2,122.4 L1191.5,125.3 L1193.9,128.2 L1196.4,131.1 L1199.0,134.0 L1201.8,136.7 L1203.9,139.7 L1205.7,142.9 L1207.3,146.2 L1209.1,149.8 L1210.8,153.4 L1212.3,157.1 L1213.9,160.7 L1215.6,164.3 L1216.8,168.0 L1217.9,171.9 L1219.0,175.8 L1220.2,179.6 L1221.7,183.3 L1222.6,187.2 L1224.0,191.0 L1224.7,194.9 L1225.8,198.8 L1226.3,202.8 L1227.7,206.6 L1229.0,210.4 L1230.1,214.2 L1230.9,218.2 L1232.1,222.0 L1232.6,226.0 L1233.8,229.8 L1235.1,233.6 L1236.1,237.5 L1236.6,241.5 L1237.3,245.5 L1238.0,249.4 L1239.0,253.3 L1239.7,257.4 L1240.5,261.4 L1241.6,265.3 L1242.6,269.3 L1243.6,273.2 L1244.5,277.1 L1245.4,281.1 L1246.5,285.0 L1247.4,288.9 L1248.2,292.9 L1248.8,296.9 L1249.5,301.0 L1250.6,304.8 L1250.8,309.0 L1251.7,312.9 L1252.6,316.8 L1253.3,320.7 L1254.3,324.6 L1254.8,328.5 L1256.0,332.3 L1257.1,336.2 L1258.9,339.9 L1260.3,343.6 L1261.8,347.4 L1263.6,351.0 L1264.5,354.9 L1266.4,358.5 L1267.6,362.3 L1269.2,366.0 L1271.2,369.6 L1272.4,373.4 L1273.4,377.3 L1274.8,381.1 L1276.7,385.2 L1278.6,389.1 L1280.8,392.9 L1283.0,396.7 L1285.1,400.1 L1287.4,403.4 L1289.4,406.9 L1293.0,411.5 L1298.7,416.0 L1304.6,412.1 L1308.4,407.4 L1311.5,404.5 L1314.2,401.3 L1316.4,397.8 L1318.7,394.3 L1321.2,390.7 L1323.3,386.8 L1325.4,382.9 L1326.9,378.7 L1328.1,374.8 L1329.0,370.8 L1330.6,367.1 L1332.2,363.2 L1334.3,359.3 L1336.1,355.7 L1337.2,351.5 L1339.7,348.4 L1342.5,345.3 L1345.6,342.1 L1348.8,339.1 L1352.3,337.0 L1356.1,336.1 L1360.1,336.0 L1364.1,336.2 L1368.1,335.9 L1372.1,336.3 L1376.1,335.8 L1380.1,336.2 L1384.2,336.4 L1388.2,336.1 L1392.2,336.6 L1396.2,336.5 L1400.2,336.1 L1404.2,336.4 L1408.2,336.7 L1412.2,336.9 L1416.3,336.8 L1420.3,336.7 L1424.3,336.9 L1428.3,336.5 L1432.3,335.9 L1436.3,336.0 L1440.3,335.8 L1444.3,336.4 L1448.4,336.1 L1452.4,336.0 L1456.4,335.6 L1460.4,335.7 L1460.4,335.7" fill="none" stroke="#5eaeea" stroke-width="1.45" stroke-linejoin="round"/>
<path d="M1140.9,99.5 L1144.6,101.2 L1148.8,103.3 L1153.2,105.6 L1158.1,105.5 L1163.0,104.0 L1167.1,103.3 L1171.0,101.9 L1173.6,100.8 L1175.9,99.1 L1177.4,100.5 L1179.2,101.4 L1181.1,103.9 L1182.8,106.7 L1184.8,110.1 L1186.8,113.8 L1189.0,117.3 L1191.5,120.6 L1193.7,123.8 L1195.8,126.9 L1197.7,130.3 L1199.9,133.4 L1201.6,136.8 L1203.5,139.9 L1204.5,143.4 L1205.7,146.8 L1207.2,150.4 L1208.1,154.4 L1209.7,157.9 L1211.3,161.5 L1212.1,165.3 L1213.0,169.1 L1214.7,172.8 L1216.2,176.5 L1217.3,180.4 L1218.0,184.3 L1219.6,188.0 L1220.8,191.8 L1221.6,195.7 L1222.7,199.6 L1223.2,203.6 L1224.0,207.5 L1224.8,211.4 L1225.4,215.4 L1226.7,219.2 L1227.0,223.2 L1227.5,227.2 L1228.9,231.0 L1229.1,235.0 L1230.2,238.8 L1231.1,242.8 L1231.2,246.8 L1232.4,250.7 L1233.4,254.7 L1233.9,258.9 L1234.9,263.0 L1236.0,267.2 L1237.4,271.1 L1238.1,275.1 L1239.2,278.9 L1239.7,283.0 L1241.5,286.7 L1242.1,290.7 L1243.2,294.6 L1244.3,298.5 L1245.6,302.3 L1247.0,306.1 L1248.6,309.8 L1249.6,313.6 L1250.5,317.5 L1252.3,321.1 L1254.2,324.6 L1255.5,328.3 L1256.5,332.2 L1258.1,335.9 L1260.1,339.5 L1261.7,343.2 L1263.1,346.9 L1264.4,350.7 L1265.6,354.6 L1266.9,358.4 L1268.2,362.1 L1268.9,366.1 L1270.0,370.0 L1270.8,373.9 L1272.2,377.7 L1273.2,381.6 L1274.1,386.1 L1275.7,390.3 L1277.9,394.4 L1280.2,398.3 L1283.3,401.1 L1285.7,404.4 L1288.2,407.6 L1292.5,412.0 L1298.6,416.8 L1304.8,412.4 L1308.5,407.5 L1310.3,403.8 L1312.5,400.4 L1314.9,397.0 L1316.9,393.4 L1318.9,389.6 L1320.7,385.6 L1322.9,381.9 L1324.6,377.9 L1326.2,374.1 L1327.5,370.4 L1329.4,366.8 L1331.7,363.5 L1334.0,359.9 L1336.1,356.6 L1337.7,353.0 L1340.2,350.3 L1343.1,347.7 L1346.0,344.7 L1349.0,341.5 L1352.3,339.4 L1356.0,338.9 L1360.0,338.5 L1364.1,338.4 L1368.1,338.3 L1372.1,337.7 L1376.1,337.9 L1380.1,337.9 L1384.2,338.0 L1388.2,338.0 L1392.2,338.2 L1396.2,338.4 L1400.2,338.4 L1404.2,338.6 L1408.2,338.8 L1412.2,339.1 L1416.3,338.7 L1420.3,339.0 L1424.3,338.6 L1428.3,338.4 L1432.3,339.1 L1436.3,338.6 L1440.3,338.2 L1444.3,338.4 L1448.4,338.5 L1452.4,338.7 L1456.4,338.3 L1460.4,338.6 L1460.4,338.6" fill="none" stroke="#5eaeea" stroke-width="1.45" stroke-linejoin="round"/>
<path d="M1140.0,112.0 L1142.4,114.5 L1151.4,117.7 L1153.0,132.5 L1161.2,148.0 L1167.7,134.1 L1172.7,114.5 L1177.6,103.0" fill="none" stroke="#5eaeea" stroke-width="1.45" stroke-linejoin="round"/>
<path d="M1150.0,108.0 L1154.6,112.8 L1162.8,127.6 L1170.2,116.1 L1178.0,104.0" fill="none" stroke="#5eaeea" stroke-width="1.45" stroke-linejoin="round"/>
<path d="M1179.0,112.0 L1182.5,127.6 L1184.1,139.0 L1194.0,152.1 L1198.9,160.3 L1202.1,176.7 L1203.8,202.9 L1210.3,196.3 L1215.2,214.4 L1223.4,227.5 L1226.7,242.2 L1230.0,261.8 L1240.0,290.0 L1251.0,318.0 L1261.0,345.0 L1271.0,372.0 L1281.0,398.0 L1294.0,413.0" fill="none" stroke="#5eaeea" stroke-width="1.45" stroke-linejoin="round"/>
<path d="M1180.0,108.0 L1182.5,117.7 L1190.7,130.8 L1200.5,150.5 L1207.0,162.0 L1213.0,178.0 L1220.0,200.0" fill="none" stroke="#5eaeea" stroke-width="1.45" stroke-linejoin="round"/>
<path d="M1183.0,95.0 L1189.0,98.1 L1195.6,101.4 L1203.8,116.1 L1213.6,124.3 L1218.5,135.8 L1220.1,153.8 L1226.7,166.9 L1231.6,176.7 L1233.2,193.1 L1236.5,209.4 L1241.4,229.1 L1246.3,258.6 L1252.0,275.0" fill="none" stroke="#5eaeea" stroke-width="1.45" stroke-linejoin="round"/>
</g>
<path d="M1142.4,96.0 L1153.3,100.6 L1164.1,97.5 L1176.5,92.9 L1184.3,97.5 L1192.0,109.9 L1201.4,122.3 L1210.7,137.8 L1218.4,159.6 L1226.2,187.5 L1235.5,224.7 L1243.2,258.9 L1252.6,286.8 L1263.4,317.8 L1274.3,351.9 L1285.1,386.1 L1299.1,410.9 L1310.0,392.3 L1322.4,367.4 L1334.8,351.9 L1350.3,345.1 L1365.8,347.3 L1460.4,347.3" fill="none" stroke="#4b91cd" stroke-width="6.3" stroke-linejoin="round" stroke-linecap="round"/>
<clipPath id="cld"><rect x="1635.0" y="82.4" width="319.9" height="340.7"/></clipPath>
<g clip-path="url(#cld)">
<path d="M1636.0,409.4 L1640.0,409.7 L1644.0,408.9 L1648.0,409.2 L1652.0,408.9 L1656.0,409.3 L1660.0,408.8 L1664.0,409.1 L1668.0,409.4 L1671.7,407.9 L1675.4,406.9 L1679.3,406.6 L1683.2,406.8 L1687.1,406.8 L1690.8,406.2 L1693.5,403.4 L1696.0,400.4 L1698.1,397.5 L1700.0,394.5 L1701.8,391.3 L1703.3,387.9 L1703.7,384.0 L1705.0,380.4 L1705.9,376.6 L1707.2,373.1 L1708.4,369.4 L1709.0,365.4 L1710.2,361.6 L1710.8,357.7 L1711.8,353.9 L1712.7,350.1 L1713.2,346.2 L1714.4,342.5 L1714.6,338.4 L1715.7,334.7 L1716.7,330.9 L1717.7,327.1 L1718.3,323.1 L1719.4,319.3 L1719.7,315.3 L1721.0,311.5 L1722.2,307.7 L1722.7,303.7 L1723.9,299.9 L1723.9,295.8 L1724.7,291.9 L1725.3,288.0 L1726.5,284.2 L1727.2,280.3 L1727.7,276.4 L1728.6,272.6 L1729.0,268.6 L1729.7,264.8 L1730.3,260.9 L1730.9,257.0 L1731.4,253.0 L1731.5,249.0 L1732.2,244.9 L1733.1,240.8 L1733.5,236.6 L1734.0,232.4 L1734.4,228.2 L1735.7,224.2 L1737.2,220.3 L1738.8,216.4 L1740.3,212.5 L1742.0,208.6 L1743.0,204.4 L1744.3,200.4 L1745.8,196.5 L1747.1,192.5 L1749.5,189.0 L1751.4,185.4 L1753.9,182.1 L1756.3,178.7 L1757.8,175.1 L1759.8,171.8 L1761.9,168.6 L1763.2,165.0 L1765.1,161.6 L1766.9,158.1 L1768.1,154.3 L1770.2,150.9 L1772.0,147.3 L1773.5,143.6 L1775.2,139.9 L1777.4,136.4 L1779.1,132.5 L1780.6,128.6 L1782.0,124.7 L1784.0,121.0 L1786.5,117.8 L1789.7,115.1 L1793.1,112.4 L1796.8,109.9 L1800.7,108.4 L1804.3,106.6 L1807.9,105.4 L1811.1,107.7 L1814.5,109.8 L1817.7,107.1 L1821.3,105.5 L1824.3,102.8 L1827.6,100.9 L1831.5,99.4 L1835.3,97.4 L1839.1,95.5 L1842.9,93.5 L1846.5,94.4 L1849.9,97.1 L1852.5,100.4 L1854.6,104.0 L1856.3,108.0 L1857.4,112.0 L1859.3,115.7 L1860.7,119.5 L1862.4,123.1 L1864.5,126.5 L1866.3,130.1 L1867.8,133.8 L1869.4,137.5 L1871.1,141.0 L1872.5,144.4 L1874.1,147.4 L1874.9,150.9 L1875.6,153.8 L1877.4,153.5 L1879.4,152.9 L1878.6,148.9 L1878.3,145.4 L1878.2,142.0 L1877.7,138.6 L1877.5,134.9 L1876.8,131.0 L1877.1,127.2 L1878.8,122.8 L1880.3,117.9 L1882.7,113.2 L1885.4,108.5 L1889.8,107.2 L1894.2,110.6 L1896.7,111.8 L1897.1,115.2 L1897.8,118.0 L1898.3,120.9 L1899.0,123.6 L1900.2,126.2 L1901.4,128.8 L1902.2,131.4 L1903.2,134.2 L1903.8,137.0 L1905.4,139.6 L1906.4,142.4 L1907.0,145.3 L1907.9,148.2 L1910.6,147.8 L1914.5,144.8 L1918.2,143.2 L1921.7,142.5 L1925.1,140.8 L1928.2,135.3 L1931.2,130.0 L1934.2,124.2 L1937.9,122.6 L1942.0,122.9 L1946.0,122.7 L1950.0,123.0 L1953.9,122.9 L1953.9,122.9" fill="none" stroke="#8cc9c9" stroke-width="1.45" stroke-linejoin="round"/>
<path d="M1636.0,411.4 L1640.0,410.9 L1644.0,410.6 L1648.0,410.2 L1652.0,410.6 L1656.1,410.6 L1660.0,410.2 L1664.1,410.1 L1668.1,410.2 L1671.8,408.7 L1675.4,407.4 L1679.3,406.8 L1683.2,406.8 L1687.2,407.2 L1691.1,406.9 L1694.0,404.2 L1697.1,402.0 L1699.4,398.9 L1701.4,395.6 L1703.4,392.4 L1705.7,389.2 L1707.4,385.8 L1708.6,382.0 L1709.7,378.2 L1711.3,374.6 L1712.2,370.7 L1713.5,366.9 L1714.5,363.1 L1715.3,359.1 L1716.4,355.3 L1717.3,351.5 L1718.4,347.6 L1718.7,343.6 L1719.9,339.8 L1720.4,335.8 L1721.1,331.9 L1721.6,328.0 L1722.5,324.1 L1723.8,320.3 L1724.4,316.3 L1725.2,312.4 L1726.3,308.6 L1727.3,304.7 L1728.2,300.8 L1728.9,296.9 L1729.8,293.0 L1730.9,289.1 L1731.9,285.2 L1732.5,281.3 L1733.6,277.5 L1734.1,273.5 L1734.5,269.6 L1734.7,265.6 L1735.5,261.7 L1735.9,257.7 L1736.4,253.7 L1736.8,249.7 L1736.9,245.6 L1737.2,241.5 L1737.7,237.4 L1737.7,233.2 L1738.4,229.1 L1739.9,225.3 L1741.2,221.4 L1743.0,217.6 L1743.6,213.5 L1745.4,209.7 L1746.8,205.8 L1747.7,201.7 L1749.0,197.8 L1750.8,194.1 L1753.1,190.7 L1755.5,187.4 L1757.2,183.7 L1759.1,180.1 L1761.3,176.8 L1763.3,173.4 L1764.8,169.8 L1766.2,166.2 L1767.9,162.7 L1769.8,159.1 L1771.0,155.4 L1772.2,151.5 L1773.3,147.7 L1775.3,144.2 L1776.7,140.4 L1778.3,136.7 L1780.1,132.9 L1781.5,129.1 L1782.8,125.1 L1784.1,121.1 L1786.6,117.9 L1789.6,115.0 L1792.8,112.0 L1796.7,109.8 L1800.6,108.2 L1804.2,106.1 L1808.0,105.5 L1811.2,108.0 L1814.5,109.9 L1817.8,107.4 L1821.3,105.6 L1824.7,103.8 L1828.2,102.1 L1831.8,100.2 L1835.6,98.6 L1839.1,96.2 L1842.8,94.2 L1846.3,95.1 L1849.7,97.6 L1851.8,101.0 L1853.7,104.6 L1855.7,108.3 L1857.3,112.1 L1858.9,115.9 L1860.4,119.6 L1862.0,123.2 L1864.0,126.7 L1865.3,130.5 L1867.4,134.0 L1869.0,137.6 L1869.8,141.6 L1871.3,145.1 L1872.3,148.9 L1873.7,152.4 L1874.7,156.3 L1877.7,156.7 L1880.8,155.1 L1881.2,151.0 L1881.5,147.1 L1881.6,143.2 L1881.7,139.5 L1880.9,135.5 L1879.9,131.4 L1880.2,127.6 L1881.9,123.4 L1883.4,118.9 L1885.0,114.6 L1886.7,110.2 L1889.8,108.5 L1893.5,112.1 L1895.9,114.0 L1896.9,117.3 L1897.6,120.7 L1898.9,123.8 L1900.1,126.9 L1900.7,130.2 L1901.9,133.3 L1902.4,136.6 L1903.6,139.7 L1904.7,142.9 L1905.7,146.1 L1906.1,149.6 L1906.9,152.9 L1907.7,156.4 L1910.3,157.3 L1914.2,156.3 L1918.1,155.9 L1921.6,156.6 L1925.1,155.6 L1928.2,151.4 L1931.2,147.1 L1934.3,142.7 L1937.9,141.2 L1941.7,140.5 L1945.7,140.2 L1949.8,140.3 L1953.9,140.0 L1953.9,140.0" fill="none" stroke="#8cc9c9" stroke-width="1.45" stroke-linejoin="round"/>
<path d="M1636.0,409.5 L1640.0,409.5 L1644.0,410.0 L1648.0,410.2 L1652.0,409.8 L1656.0,410.3 L1660.1,410.5 L1664.1,410.2 L1668.1,410.7 L1671.9,409.5 L1675.4,407.7 L1679.5,408.2 L1683.5,408.0 L1687.5,407.7 L1691.3,407.2 L1694.3,404.8 L1696.9,401.6 L1699.1,398.5 L1700.4,394.8 L1702.4,391.7 L1704.2,388.4 L1705.3,384.7 L1706.2,380.9 L1707.1,377.1 L1708.7,373.6 L1710.3,370.0 L1711.1,366.1 L1712.3,362.3 L1713.6,358.6 L1715.0,354.9 L1715.6,351.0 L1716.9,347.2 L1718.0,343.4 L1718.6,339.5 L1719.9,335.7 L1721.0,331.9 L1722.0,328.1 L1723.0,324.2 L1723.9,320.3 L1724.8,316.4 L1725.2,312.4 L1726.2,308.5 L1727.2,304.7 L1727.4,300.6 L1728.3,296.7 L1729.3,292.9 L1730.2,289.0 L1730.7,285.0 L1731.7,281.2 L1732.9,277.3 L1733.4,273.4 L1733.9,269.4 L1734.9,265.6 L1735.1,261.6 L1736.3,257.7 L1736.8,253.8 L1737.6,249.8 L1738.4,245.9 L1739.0,241.8 L1739.5,237.8 L1740.6,233.8 L1741.0,229.8 L1742.8,226.0 L1743.9,222.1 L1745.5,218.3 L1746.6,214.4 L1748.4,210.7 L1749.3,206.7 L1750.8,203.0 L1751.7,198.9 L1752.9,195.0 L1755.2,191.7 L1757.3,188.2 L1759.6,184.9 L1762.4,181.8 L1764.2,178.2 L1766.0,174.7 L1768.0,171.2 L1769.8,167.6 L1771.8,164.1 L1773.9,160.6 L1775.3,156.8 L1777.2,153.2 L1779.5,149.8 L1781.6,146.2 L1783.5,142.7 L1785.8,139.3 L1788.3,136.4 L1789.7,133.1 L1790.8,129.7 L1792.0,126.6 L1793.9,124.0 L1796.6,122.0 L1799.0,120.3 L1800.8,118.4 L1803.8,117.2 L1807.3,115.5 L1810.7,114.3 L1813.8,116.7 L1817.1,118.7 L1820.4,116.2 L1824.1,114.8 L1828.2,112.8 L1832.5,110.5 L1835.4,108.8 L1838.0,107.7 L1839.9,106.4 L1841.3,104.6 L1842.6,104.5 L1844.0,106.0 L1844.3,108.4 L1845.4,110.4 L1846.3,113.3 L1847.5,116.7 L1849.3,119.9 L1851.2,123.5 L1853.5,126.9 L1855.1,130.6 L1857.0,134.2 L1859.3,137.6 L1860.5,141.4 L1862.7,145.0 L1864.8,149.2 L1866.9,153.6 L1869.2,158.2 L1872.6,162.6 L1878.4,162.8 L1884.0,160.3 L1885.6,154.6 L1886.3,149.6 L1886.6,145.0 L1886.3,140.6 L1885.7,136.4 L1884.5,132.1 L1884.7,128.2 L1885.0,124.0 L1886.2,119.9 L1887.0,115.8 L1887.9,111.7 L1889.8,109.8 L1892.8,113.1 L1895.5,114.5 L1896.2,118.0 L1897.4,121.2 L1898.7,124.3 L1900.0,127.5 L1900.5,130.9 L1901.5,134.1 L1902.4,137.4 L1903.5,140.7 L1904.4,144.0 L1905.3,147.3 L1906.2,150.7 L1907.1,154.0 L1908.4,157.2 L1910.9,158.3 L1914.6,157.5 L1918.1,157.8 L1921.7,158.4 L1925.1,157.7 L1928.1,153.9 L1931.2,149.6 L1934.3,145.7 L1937.9,144.2 L1942.0,144.4 L1946.0,144.4 L1949.9,144.0 L1953.9,143.5 L1953.9,143.5" fill="none" stroke="#8cc9c9" stroke-width="1.45" stroke-linejoin="round"/>
<path d="M1636.0,411.7 L1640.0,411.2 L1644.0,411.4 L1648.0,411.4 L1652.0,411.3 L1656.1,410.8 L1660.1,411.0 L1664.1,411.1 L1668.1,410.7 L1671.9,409.5 L1675.4,407.5 L1679.3,407.0 L1683.3,407.3 L1687.2,407.1 L1691.3,407.3 L1694.2,404.7 L1696.9,401.7 L1699.4,398.9 L1700.8,395.2 L1702.5,391.8 L1704.7,388.7 L1706.3,385.2 L1707.2,381.3 L1708.4,377.7 L1709.5,373.9 L1710.6,370.1 L1712.3,366.5 L1713.0,362.5 L1713.9,358.7 L1714.9,354.9 L1715.6,351.0 L1716.1,347.0 L1716.7,343.1 L1717.7,339.2 L1718.1,335.3 L1718.5,331.3 L1719.3,327.4 L1719.5,323.4 L1720.1,319.5 L1720.7,315.5 L1720.9,311.5 L1721.9,307.6 L1722.2,303.6 L1722.6,299.6 L1723.4,295.7 L1724.2,291.8 L1725.0,287.9 L1725.3,284.0 L1726.1,280.1 L1727.4,276.3 L1728.8,272.6 L1729.1,268.6 L1730.2,264.8 L1731.2,261.0 L1732.1,257.1 L1733.5,253.3 L1734.2,249.4 L1735.4,245.4 L1736.2,241.3 L1737.0,237.3 L1738.5,233.4 L1739.4,229.4 L1741.3,225.6 L1743.4,222.0 L1745.1,218.2 L1746.5,214.4 L1748.2,210.7 L1750.2,207.1 L1751.5,203.2 L1753.1,199.5 L1754.4,195.7 L1756.5,192.3 L1759.0,189.0 L1760.9,185.5 L1763.3,182.2 L1765.6,178.9 L1767.5,175.4 L1769.5,171.8 L1771.3,168.2 L1773.1,164.6 L1775.7,161.2 L1777.3,157.5 L1779.1,153.9 L1781.2,150.3 L1784.2,147.1 L1787.1,143.9 L1790.5,140.9 L1793.8,138.6 L1795.4,135.9 L1796.6,133.1 L1798.0,130.9 L1799.8,129.0 L1802.2,127.6 L1804.0,126.9 L1805.1,127.4 L1807.1,126.6 L1810.6,125.4 L1813.9,124.4 L1817.0,127.3 L1820.2,129.0 L1823.7,127.1 L1827.1,124.9 L1832.0,122.5 L1837.5,120.2 L1839.8,119.4 L1840.7,118.1 L1840.7,116.6 L1839.9,114.5 L1838.9,114.4 L1838.5,114.3 L1837.4,115.2 L1837.1,116.3 L1838.0,117.7 L1839.1,120.5 L1840.8,123.4 L1842.3,127.3 L1844.6,130.7 L1846.5,134.3 L1848.4,138.0 L1850.6,141.4 L1852.4,144.9 L1854.3,149.0 L1857.1,154.1 L1860.3,159.2 L1864.2,164.7 L1870.1,170.0 L1879.3,170.6 L1887.9,166.6 L1890.4,158.6 L1891.2,152.2 L1891.5,146.7 L1890.4,141.5 L1889.2,137.0 L1888.0,132.7 L1887.4,128.5 L1887.4,124.5 L1887.1,120.3 L1887.5,116.1 L1887.8,111.5 L1889.8,109.6 L1893.4,112.3 L1896.4,114.1 L1897.4,117.8 L1897.8,121.5 L1898.7,124.9 L1899.9,128.2 L1901.2,131.4 L1901.6,134.9 L1903.2,138.1 L1903.8,141.5 L1905.0,144.9 L1905.6,148.4 L1906.2,151.9 L1907.3,155.2 L1908.3,158.6 L1910.4,160.3 L1914.1,160.2 L1918.0,160.2 L1921.6,161.2 L1925.1,160.6 L1928.2,157.0 L1931.3,153.0 L1934.3,148.8 L1938.0,147.7 L1942.0,147.6 L1946.0,147.6 L1949.9,147.7 L1953.9,147.6 L1953.9,147.6" fill="none" stroke="#8cc9c9" stroke-width="1.45" stroke-linejoin="round"/>
<path d="M1636.0,411.2 L1640.0,411.7 L1644.0,411.5 L1648.0,411.4 L1652.0,411.6 L1656.1,411.8 L1660.2,411.7 L1664.1,411.5 L1668.1,411.0 L1671.9,409.9 L1675.5,408.2 L1679.5,408.0 L1683.5,408.0 L1687.4,407.7 L1691.7,408.2 L1694.7,405.6 L1698.1,403.3 L1701.0,400.6 L1703.5,397.3 L1706.3,394.3 L1708.5,390.9 L1710.1,387.1 L1712.0,383.5 L1714.2,380.0 L1715.6,376.2 L1717.7,372.6 L1719.5,369.0 L1721.0,365.2 L1722.4,361.4 L1724.3,357.7 L1725.9,353.9 L1727.6,350.2 L1729.4,346.5 L1730.2,342.5 L1731.4,338.6 L1732.8,334.8 L1733.9,330.8 L1734.5,326.8 L1735.1,322.8 L1735.9,318.9 L1737.3,315.1 L1737.4,311.0 L1738.0,307.0 L1738.9,303.1 L1739.7,299.1 L1740.1,295.1 L1740.6,291.1 L1741.0,287.0 L1742.2,283.1 L1742.2,279.0 L1742.9,275.0 L1743.4,271.0 L1744.4,267.1 L1744.9,263.1 L1745.0,259.0 L1745.2,255.0 L1745.7,251.0 L1746.4,247.1 L1747.3,243.3 L1747.9,239.4 L1748.3,235.5 L1748.2,231.5 L1749.7,227.8 L1751.3,224.2 L1752.6,220.4 L1753.5,216.6 L1754.6,212.8 L1755.7,209.1 L1757.1,205.4 L1757.9,201.5 L1759.5,198.0 L1761.2,194.4 L1763.1,191.0 L1764.8,187.4 L1766.6,183.9 L1768.5,180.3 L1770.1,176.6 L1772.0,172.9 L1774.0,169.3 L1775.5,165.4 L1777.2,161.8 L1778.4,157.9 L1780.1,154.2 L1781.8,150.5 L1783.8,147.0 L1786.0,143.5 L1788.3,140.1 L1790.9,137.4 L1791.7,134.1 L1793.0,131.0 L1793.7,127.8 L1795.6,125.5 L1797.9,123.3 L1800.0,121.6 L1801.8,120.4 L1804.3,118.7 L1807.6,116.6 L1811.2,115.7 L1814.1,117.7 L1817.3,119.1 L1820.8,117.4 L1824.0,114.6 L1828.0,112.2 L1832.2,109.9 L1835.2,108.4 L1837.7,106.7 L1839.8,104.7 L1841.6,102.7 L1843.4,102.5 L1845.4,104.0 L1846.4,106.3 L1847.7,108.8 L1849.3,111.7 L1850.1,115.4 L1851.8,118.8 L1853.5,122.5 L1855.5,126.1 L1857.2,129.7 L1858.7,133.4 L1860.4,137.1 L1862.3,140.6 L1864.1,144.3 L1865.5,148.8 L1867.6,152.9 L1869.9,157.4 L1872.9,161.5 L1878.4,162.1 L1883.8,160.0 L1885.5,154.6 L1886.2,149.6 L1886.3,144.9 L1885.9,140.5 L1885.1,136.3 L1884.6,132.1 L1884.6,128.1 L1885.7,124.1 L1886.0,119.9 L1887.1,115.9 L1887.9,111.7 L1889.8,110.7 L1892.7,113.4 L1895.3,115.1 L1896.4,118.5 L1897.3,121.9 L1898.3,125.3 L1899.5,128.6 L1900.4,132.0 L1901.7,135.3 L1902.7,138.7 L1903.5,142.2 L1904.8,145.5 L1906.0,148.8 L1906.5,152.4 L1907.2,156.0 L1908.3,159.4 L1911.1,160.5 L1914.6,160.4 L1918.3,160.7 L1921.7,161.8 L1925.0,161.1 L1928.1,157.7 L1931.1,153.9 L1934.2,150.2 L1937.7,148.5 L1941.8,148.9 L1945.9,148.9 L1949.9,148.8 L1953.9,148.4 L1953.9,148.4" fill="none" stroke="#8cc9c9" stroke-width="1.45" stroke-linejoin="round"/>
<path d="M1636.0,411.4 L1640.0,411.1 L1644.0,411.6 L1648.0,411.2 L1652.0,411.3 L1656.1,411.2 L1660.1,411.3 L1664.2,411.7 L1668.2,411.9 L1671.9,410.7 L1675.6,409.3 L1679.6,408.8 L1683.7,408.8 L1687.9,408.8 L1692.0,408.9 L1695.3,406.7 L1698.4,403.8 L1701.4,401.0 L1703.5,397.3 L1706.1,394.1 L1708.3,390.8 L1710.0,387.1 L1711.3,383.2 L1712.6,379.4 L1713.9,375.5 L1715.6,371.9 L1717.1,368.1 L1718.0,364.2 L1719.4,360.4 L1720.6,356.6 L1722.4,352.9 L1723.7,349.1 L1725.0,345.3 L1725.8,341.4 L1726.7,337.4 L1727.7,333.5 L1729.1,329.7 L1729.7,325.7 L1731.0,321.9 L1731.9,318.0 L1732.4,314.0 L1733.0,310.0 L1733.7,306.1 L1734.4,302.1 L1735.0,298.1 L1736.1,294.3 L1736.6,290.3 L1737.3,286.3 L1738.3,282.4 L1739.1,278.5 L1739.7,274.5 L1740.3,270.5 L1740.3,266.4 L1741.1,262.5 L1741.7,258.5 L1742.6,254.6 L1743.0,250.6 L1743.3,246.6 L1744.5,242.8 L1745.3,238.9 L1745.7,234.9 L1746.8,231.1 L1747.9,227.3 L1749.9,223.8 L1751.1,220.0 L1752.8,216.4 L1754.3,212.7 L1755.6,209.0 L1757.1,205.4 L1758.2,201.6 L1759.6,198.0 L1761.6,194.6 L1764.1,191.4 L1765.6,187.8 L1767.8,184.4 L1770.0,181.0 L1772.1,177.4 L1774.3,173.9 L1776.2,170.1 L1777.9,166.3 L1779.9,162.8 L1781.7,159.0 L1783.4,155.3 L1785.0,151.6 L1788.1,148.4 L1791.3,145.3 L1794.1,142.1 L1796.9,139.9 L1798.4,137.4 L1799.4,134.7 L1800.0,132.2 L1801.3,130.3 L1803.6,129.1 L1805.2,128.5 L1805.6,128.4 L1807.4,127.4 L1810.7,125.7 L1814.0,124.7 L1817.1,127.6 L1820.3,129.1 L1823.7,127.1 L1827.3,125.4 L1832.1,122.5 L1837.3,119.8 L1839.7,119.1 L1840.8,118.4 L1840.7,117.0 L1839.9,114.2 L1838.9,114.2 L1838.5,114.3 L1838.0,114.6 L1837.7,115.8 L1838.7,117.3 L1839.7,120.2 L1841.5,123.1 L1843.8,126.6 L1845.9,130.2 L1848.2,133.6 L1850.1,137.2 L1852.2,140.7 L1854.2,144.2 L1856.4,148.0 L1858.8,153.0 L1861.6,158.0 L1865.1,163.6 L1870.6,168.3 L1879.2,169.3 L1887.1,165.3 L1889.8,158.1 L1891.1,152.1 L1891.4,146.7 L1891.0,141.6 L1890.2,137.1 L1889.0,132.8 L1888.3,128.6 L1887.9,124.6 L1888.2,120.6 L1888.9,116.9 L1888.7,112.7 L1889.8,111.2 L1892.3,114.2 L1895.2,116.7 L1896.5,120.5 L1897.6,124.3 L1898.2,128.4 L1899.8,132.1 L1900.9,136.0 L1902.2,139.7 L1903.1,143.7 L1904.1,147.5 L1905.8,151.3 L1906.5,155.1 L1907.6,158.8 L1908.3,162.8 L1909.0,166.7 L1911.3,169.3 L1915.1,170.4 L1918.4,172.4 L1921.7,174.8 L1925.1,176.1 L1928.1,173.4 L1931.2,171.0 L1934.3,168.5 L1937.9,167.3 L1941.9,167.4 L1946.0,167.8 L1950.0,168.1 L1953.9,168.3 L1953.9,168.3" fill="none" stroke="#8cc9c9" stroke-width="1.45" stroke-linejoin="round"/>
<path d="M1636.0,410.5 L1640.0,411.0 L1644.0,411.1 L1648.0,411.5 L1652.0,411.7 L1656.1,411.7 L1660.1,411.5 L1664.2,411.8 L1668.2,411.6 L1671.9,410.6 L1675.5,408.5 L1679.7,408.9 L1683.8,409.1 L1687.9,408.9 L1692.0,409.0 L1695.3,406.6 L1698.6,404.0 L1702.0,401.6 L1704.5,398.1 L1707.2,394.9 L1710.1,391.8 L1712.1,388.1 L1713.5,384.2 L1715.7,380.7 L1717.7,377.0 L1719.5,373.3 L1721.7,369.7 L1723.5,366.1 L1725.0,362.2 L1727.1,358.6 L1728.5,354.7 L1730.1,350.9 L1732.3,347.3 L1733.2,343.3 L1734.4,339.4 L1735.6,335.4 L1736.5,331.4 L1737.7,327.5 L1738.7,323.6 L1739.1,319.6 L1740.4,315.7 L1740.8,311.7 L1741.2,307.7 L1741.5,303.6 L1742.3,299.7 L1742.9,295.7 L1743.6,291.7 L1744.0,287.6 L1744.8,283.6 L1745.5,279.6 L1746.1,275.6 L1746.8,271.6 L1747.1,267.5 L1748.0,263.6 L1748.7,259.6 L1749.7,255.6 L1749.9,251.6 L1751.2,247.8 L1751.7,244.0 L1752.6,240.3 L1753.2,236.6 L1754.1,232.9 L1755.4,229.2 L1756.8,225.7 L1757.9,222.0 L1759.2,218.3 L1760.6,214.8 L1762.2,211.4 L1763.0,207.7 L1764.1,204.2 L1765.0,200.5 L1766.4,196.8 L1768.7,193.6 L1770.7,190.3 L1772.5,186.8 L1773.7,182.8 L1775.7,179.1 L1777.5,175.3 L1779.3,171.4 L1781.3,167.6 L1783.1,163.9 L1783.9,159.8 L1785.5,156.1 L1787.3,152.4 L1790.0,149.0 L1792.6,145.7 L1795.5,142.6 L1798.3,140.5 L1798.9,137.6 L1800.0,135.0 L1800.4,132.6 L1802.0,130.9 L1803.9,129.3 L1805.2,128.5 L1805.6,128.3 L1807.2,127.0 L1810.5,125.1 L1813.5,123.2 L1816.5,125.6 L1819.7,127.3 L1823.1,125.3 L1826.5,122.8 L1831.1,120.2 L1835.9,117.2 L1838.2,115.5 L1839.6,113.7 L1840.3,112.0 L1840.5,109.8 L1840.8,109.5 L1841.1,110.4 L1841.2,111.4 L1841.7,113.0 L1842.2,115.5 L1843.6,118.4 L1845.2,121.6 L1846.6,125.4 L1848.5,129.0 L1850.3,132.7 L1852.1,136.3 L1853.8,140.0 L1855.7,143.5 L1857.0,147.7 L1859.3,152.7 L1862.0,157.7 L1865.4,163.1 L1870.5,168.8 L1879.2,169.5 L1887.6,166.1 L1890.4,158.6 L1891.2,152.2 L1891.3,146.7 L1891.5,141.7 L1890.3,137.2 L1889.1,132.8 L1888.5,128.7 L1888.5,124.7 L1888.7,120.8 L1888.7,116.8 L1888.8,112.8 L1889.8,110.7 L1892.8,113.9 L1895.6,118.2 L1896.8,122.7 L1898.2,127.1 L1899.3,131.6 L1900.6,136.0 L1901.4,140.6 L1902.4,145.1 L1903.6,149.5 L1904.6,154.0 L1905.2,158.5 L1906.0,162.9 L1906.5,167.5 L1907.9,171.8 L1908.6,176.4 L1910.9,180.4 L1914.3,184.6 L1918.1,187.9 L1921.6,191.6 L1925.1,194.2 L1928.2,192.8 L1931.2,191.5 L1934.3,189.9 L1937.9,189.3 L1942.0,189.4 L1945.9,189.1 L1949.9,189.3 L1953.9,189.5 L1953.9,189.5" fill="none" stroke="#8cc9c9" stroke-width="1.45" stroke-linejoin="round"/>
<path d="M1636.0,410.7 L1640.0,410.6 L1644.0,410.8 L1648.0,410.8 L1652.0,411.0 L1656.1,410.8 L1660.1,411.3 L1664.1,411.3 L1668.1,411.3 L1671.9,410.3 L1675.5,408.6 L1679.6,408.5 L1683.6,408.4 L1687.8,408.6 L1692.0,408.9 L1695.6,407.1 L1699.1,404.7 L1702.0,401.6 L1704.8,398.4 L1708.0,395.4 L1710.6,392.1 L1712.5,388.3 L1714.0,384.4 L1716.1,380.8 L1717.9,377.0 L1719.8,373.4 L1721.4,369.6 L1723.4,366.0 L1724.8,362.2 L1726.6,358.4 L1728.5,354.7 L1730.0,350.9 L1732.0,347.2 L1733.2,343.3 L1734.8,339.5 L1736.2,335.6 L1737.2,331.6 L1738.2,327.6 L1739.2,323.7 L1740.5,319.9 L1741.2,315.9 L1742.4,312.0 L1743.6,308.2 L1744.3,304.2 L1745.0,300.2 L1746.2,296.4 L1746.7,292.3 L1747.8,288.4 L1748.2,284.3 L1749.0,280.3 L1749.9,276.3 L1750.5,272.2 L1751.3,268.2 L1751.5,264.1 L1752.5,260.1 L1753.3,256.1 L1753.9,252.2 L1754.5,248.3 L1755.4,244.7 L1755.8,241.0 L1756.2,237.2 L1757.3,233.6 L1758.4,230.0 L1759.7,226.5 L1761.3,223.0 L1762.4,219.4 L1763.9,215.9 L1764.5,212.2 L1765.5,208.7 L1766.6,205.2 L1768.2,201.9 L1770.2,198.5 L1772.4,195.3 L1774.0,191.9 L1775.9,188.5 L1777.8,184.8 L1779.8,181.0 L1781.6,177.0 L1783.8,173.1 L1785.7,169.2 L1787.4,165.4 L1789.4,161.7 L1791.1,157.9 L1792.5,154.1 L1795.0,150.6 L1798.6,147.7 L1801.8,144.8 L1804.8,143.2 L1805.4,140.8 L1805.4,138.1 L1805.4,136.1 L1806.3,134.5 L1808.3,133.7 L1808.5,133.0 L1807.9,133.1 L1809.1,132.3 L1812.2,130.4 L1815.3,128.7 L1818.0,130.8 L1821.2,132.2 L1824.5,129.8 L1827.7,126.8 L1832.5,123.6 L1838.0,121.2 L1839.8,119.4 L1840.8,118.4 L1840.6,116.1 L1840.0,113.8 L1839.4,113.1 L1839.4,112.9 L1839.0,113.5 L1838.8,115.0 L1840.3,116.5 L1841.9,119.2 L1843.0,122.5 L1844.8,126.2 L1847.2,129.6 L1849.1,133.2 L1850.8,136.9 L1852.8,140.4 L1854.8,143.9 L1856.7,147.8 L1858.9,153.0 L1861.5,158.2 L1865.0,163.7 L1870.3,169.3 L1879.3,169.9 L1887.6,166.1 L1890.8,158.9 L1891.5,152.3 L1892.3,147.0 L1892.1,141.9 L1891.0,137.3 L1889.7,132.9 L1889.2,128.7 L1889.3,124.9 L1889.6,121.1 L1889.3,117.2 L1889.5,113.7 L1889.8,112.2 L1892.2,115.0 L1894.7,119.8 L1895.7,124.5 L1897.0,129.1 L1898.4,133.7 L1899.5,138.5 L1900.7,143.2 L1901.4,148.1 L1902.0,153.0 L1903.0,157.7 L1904.4,162.3 L1905.3,167.1 L1906.2,171.8 L1907.5,176.4 L1908.2,181.3 L1910.7,186.0 L1914.7,190.4 L1918.2,194.7 L1921.7,198.8 L1925.0,202.1 L1928.1,201.2 L1931.1,200.7 L1934.1,199.9 L1937.7,199.3 L1941.8,199.5 L1945.7,199.0 L1949.8,199.2 L1953.9,198.9 L1953.9,198.9" fill="none" stroke="#8cc9c9" stroke-width="1.45" stroke-linejoin="round"/>
<path d="M1636.0,412.6 L1640.0,412.0 L1644.0,412.3 L1648.0,412.1 L1652.0,411.6 L1656.1,410.9 L1660.1,410.5 L1664.1,410.7 L1668.1,410.8 L1671.8,409.2 L1675.4,407.2 L1679.4,407.5 L1683.5,407.9 L1687.5,407.8 L1691.5,407.8 L1695.0,406.1 L1698.4,403.7 L1701.1,400.6 L1704.0,397.8 L1706.4,394.4 L1709.6,391.5 L1711.2,387.7 L1712.8,383.9 L1715.0,380.3 L1716.8,376.6 L1718.5,372.9 L1719.8,369.1 L1720.9,365.2 L1722.7,361.5 L1724.0,357.6 L1725.2,353.7 L1726.8,350.0 L1727.9,346.1 L1729.2,342.2 L1730.8,338.4 L1731.5,334.4 L1733.1,330.6 L1733.9,326.7 L1735.1,322.8 L1736.8,319.1 L1738.3,315.3 L1739.6,311.4 L1741.3,307.7 L1742.5,303.8 L1744.0,300.0 L1745.5,296.2 L1747.2,292.4 L1748.6,288.5 L1749.5,284.5 L1751.2,280.7 L1752.6,276.7 L1753.5,272.7 L1754.2,268.7 L1755.1,264.6 L1756.1,260.6 L1756.9,256.6 L1757.9,252.7 L1757.9,248.9 L1757.9,245.1 L1758.4,241.5 L1758.4,237.7 L1759.0,234.0 L1759.8,230.4 L1761.3,226.9 L1762.5,223.3 L1763.6,219.7 L1764.9,216.3 L1766.0,212.8 L1767.1,209.4 L1768.2,205.9 L1769.9,202.6 L1771.9,199.4 L1773.4,195.8 L1775.6,192.6 L1777.9,189.5 L1779.6,185.7 L1781.8,181.9 L1784.2,178.1 L1786.1,174.1 L1788.8,170.3 L1790.6,166.6 L1791.8,162.5 L1793.2,158.6 L1795.1,154.9 L1797.5,151.5 L1801.6,148.7 L1805.1,145.9 L1808.3,144.6 L1808.6,142.4 L1809.2,140.3 L1809.3,138.8 L1810.1,137.7 L1811.5,136.9 L1811.3,136.7 L1810.2,137.8 L1810.9,137.6 L1814.3,136.5 L1817.4,135.4 L1820.3,138.3 L1823.4,139.8 L1827.0,138.4 L1830.5,136.1 L1836.3,133.3 L1842.8,130.5 L1844.1,129.7 L1843.7,129.2 L1841.5,128.4 L1838.3,125.9 L1834.9,124.8 L1832.6,123.1 L1830.5,121.9 L1829.0,121.8 L1829.5,122.2 L1830.3,124.6 L1832.1,127.0 L1834.8,130.4 L1837.2,133.9 L1839.6,137.4 L1842.1,140.7 L1844.6,144.1 L1846.6,147.5 L1848.8,151.6 L1852.6,157.0 L1856.3,162.6 L1861.0,168.8 L1868.3,175.2 L1879.9,175.7 L1890.7,171.1 L1894.7,162.1 L1895.7,154.5 L1895.9,148.3 L1895.9,142.7 L1894.2,137.8 L1892.7,133.4 L1891.2,129.0 L1890.7,125.1 L1890.3,121.4 L1889.7,117.4 L1888.9,112.9 L1889.8,110.9 L1892.7,114.4 L1895.8,119.9 L1897.1,124.9 L1898.4,130.0 L1899.9,135.0 L1901.0,140.1 L1901.9,145.3 L1903.1,150.4 L1903.3,155.7 L1904.2,160.7 L1905.3,165.6 L1906.2,170.6 L1906.5,175.8 L1907.5,180.8 L1908.4,185.9 L1910.9,191.2 L1914.6,197.0 L1918.1,202.3 L1921.6,207.6 L1925.1,211.9 L1928.2,211.8 L1931.3,211.8 L1934.3,211.5 L1938.0,211.2 L1942.0,211.1 L1945.9,210.9 L1949.9,211.0 L1953.9,211.5 L1953.9,211.5" fill="none" stroke="#8cc9c9" stroke-width="1.45" stroke-linejoin="round"/>
<path d="M1636.0,412.9 L1640.0,413.3 L1644.0,413.4 L1648.0,413.2 L1652.0,413.6 L1656.2,413.3 L1660.3,413.5 L1664.3,413.4 L1668.3,412.9 L1672.0,411.9 L1675.7,410.1 L1679.8,409.6 L1683.8,409.1 L1688.1,409.5 L1692.4,410.0 L1696.0,407.8 L1699.5,405.4 L1702.7,402.4 L1705.8,399.1 L1708.5,395.7 L1711.4,392.5 L1712.8,388.5 L1714.7,384.8 L1716.4,380.9 L1717.9,377.0 L1719.4,373.2 L1720.7,369.4 L1722.4,365.7 L1724.2,362.0 L1725.4,358.1 L1727.2,354.3 L1728.4,350.4 L1729.6,346.5 L1730.5,342.6 L1731.0,338.5 L1731.9,334.5 L1732.8,330.6 L1733.9,326.7 L1734.7,322.7 L1735.0,318.7 L1735.9,314.8 L1737.3,310.9 L1737.5,306.9 L1738.3,302.9 L1739.2,299.0 L1740.4,295.1 L1741.4,291.2 L1742.3,287.3 L1743.2,283.3 L1744.1,279.4 L1745.3,275.5 L1746.1,271.5 L1746.8,267.5 L1748.1,263.6 L1748.9,259.6 L1749.9,255.6 L1751.1,251.8 L1751.8,247.9 L1752.9,244.2 L1753.8,240.6 L1754.8,236.9 L1755.6,233.2 L1757.6,229.8 L1759.5,226.4 L1761.0,222.9 L1762.5,219.4 L1763.9,215.9 L1764.7,212.4 L1766.5,209.1 L1767.8,205.7 L1769.0,202.2 L1770.8,198.8 L1772.7,195.5 L1774.5,192.1 L1776.7,188.9 L1778.3,185.1 L1780.6,181.3 L1782.8,177.5 L1785.1,173.7 L1787.4,169.8 L1789.2,166.0 L1790.8,162.2 L1793.2,158.6 L1794.7,154.8 L1798.2,151.7 L1802.6,149.0 L1806.3,146.3 L1809.5,145.2 L1810.1,143.1 L1810.8,141.2 L1810.9,139.9 L1811.8,139.1 L1813.0,138.4 L1812.6,138.5 L1811.1,139.8 L1811.5,139.1 L1814.6,137.4 L1817.6,136.3 L1820.4,138.8 L1823.6,140.5 L1827.0,138.4 L1830.6,136.4 L1836.2,133.1 L1842.3,129.5 L1843.7,128.7 L1843.4,128.1 L1841.4,127.0 L1838.5,124.4 L1835.6,123.0 L1833.2,122.2 L1830.8,121.6 L1829.9,121.3 L1829.5,122.2 L1830.8,124.4 L1832.4,126.9 L1834.4,130.6 L1837.4,133.8 L1839.5,137.4 L1842.3,140.6 L1845.0,143.9 L1847.1,147.3 L1849.4,151.3 L1852.8,156.9 L1856.3,162.6 L1861.4,168.4 L1868.6,174.1 L1879.8,174.6 L1889.9,169.8 L1893.3,161.0 L1894.5,153.9 L1894.3,147.7 L1893.4,142.2 L1891.9,137.4 L1890.9,133.1 L1890.4,128.9 L1889.8,125.0 L1889.4,121.1 L1889.4,117.3 L1889.2,113.3 L1889.8,111.8 L1892.3,115.5 L1894.7,123.7 L1895.8,129.6 L1897.1,135.5 L1898.0,141.6 L1898.7,147.7 L1899.8,153.8 L1901.1,159.7 L1902.3,165.8 L1902.7,171.8 L1903.6,177.8 L1904.7,183.7 L1905.6,189.7 L1906.7,195.7 L1907.7,201.6 L1910.2,209.5 L1914.3,218.5 L1918.1,226.1 L1921.6,233.7 L1925.1,239.7 L1928.1,241.4 L1931.2,243.9 L1934.2,245.9 L1937.7,246.0 L1941.7,245.7 L1945.9,246.3 L1949.8,245.9 L1953.9,245.7 L1953.9,245.7" fill="none" stroke="#8cc9c9" stroke-width="1.45" stroke-linejoin="round"/>
<path d="M1745.0,262.0 L1753.0,246.0 L1762.0,238.0 L1771.0,234.0 L1772.0,215.0 L1771.0,198.0 L1776.0,180.0 L1785.5,137.5 L1795.0,134.4 L1807.8,131.2 L1823.7,137.5 L1826.9,143.9 L1838.0,124.8 L1843.0,103.0" fill="none" stroke="#8cc9c9" stroke-width="1.45" stroke-linejoin="round"/>
<path d="M1900.0,165.0 L1900.1,180.5 L1903.3,212.4 L1906.5,244.2 L1912.0,250.0 L1919.2,257.0 L1925.0,250.0 L1932.0,245.0 L1955.0,246.0" fill="none" stroke="#8cc9c9" stroke-width="1.45" stroke-linejoin="round"/>
<path d="M1895.0,150.0 L1903.0,190.0 L1910.0,205.0 L1916.0,200.0 L1922.0,212.0 L1935.0,200.0 L1955.0,200.0" fill="none" stroke="#8cc9c9" stroke-width="1.45" stroke-linejoin="round"/>
<path d="M1852.0,110.0 L1860.0,140.0 L1868.0,170.0 L1876.2,198.0 L1882.0,170.0 L1888.0,110.0" fill="none" stroke="#8cc9c9" stroke-width="1.45" stroke-linejoin="round"/>
<path d="M1850.0,105.0 L1858.0,135.0 L1866.0,165.0 L1874.0,190.0 L1880.0,175.0 L1887.0,115.0" fill="none" stroke="#8cc9c9" stroke-width="1.45" stroke-linejoin="round"/>
<path d="M1905.0,150.0 L1912.9,132.8 L1925.0,120.0 L1933.6,114.5 L1955.0,114.5" fill="none" stroke="#8cc9c9" stroke-width="1.45" stroke-linejoin="round"/>
<path d="M1880.0,160.0 L1885.0,130.0 L1889.0,95.0 L1893.0,95.0 L1898.0,125.0 L1905.0,160.0" fill="none" stroke="#8cc9c9" stroke-width="1.45" stroke-linejoin="round"/>
<path d="M1882.0,150.0 L1886.0,120.0 L1890.0,98.0 L1895.0,110.0 L1901.0,140.0 L1908.0,165.0" fill="none" stroke="#8cc9c9" stroke-width="1.45" stroke-linejoin="round"/>
</g>
<path d="M1636.0,410.3 L1670.1,410.3 L1674.7,407.8 L1691.8,407.8 L1699.5,401.6 L1707.3,390.7 L1715.0,370.6 L1722.8,345.7 L1730.6,311.6 L1738.3,274.4 L1744.5,230.9 L1750.7,212.3 L1755.4,196.8 L1764.7,181.3 L1772.4,162.7 L1780.2,137.8 L1786.4,120.8 L1795.7,113.0 L1808.1,106.8 L1814.3,111.5 L1826.7,103.7 L1836.0,99.1 L1843.8,94.4 L1850.0,99.1 L1857.7,119.2 L1867.0,139.4 L1874.8,158.0 L1881.0,156.5 L1885.6,141.0 L1888.8,109.9 L1895.0,116.1 L1902.7,144.1 L1908.9,168.9 L1916.7,172.0 L1924.4,176.6 L1935.3,167.3 L1953.9,167.3" fill="none" stroke="#5f8f8f" stroke-width="6.3" stroke-linejoin="round" stroke-linecap="round"/>
<clipPath id="cle"><rect x="647.5" y="628.2" width="318.9" height="342.8"/></clipPath>
<g clip-path="url(#cle)">
<path d="M648.4,644.0 L651.7,641.8 L654.8,639.2 L657.2,648.0 L659.2,650.5 L661.2,653.6 L662.4,657.6 L664.3,658.6 L665.7,661.4 L666.9,666.2 L669.0,670.4 L671.0,674.2 L674.1,678.4 L677.4,683.0 L681.1,678.9 L683.0,670.4 L684.8,673.0 L686.1,667.7 L688.4,670.4 L691.3,671.1 L694.1,672.5 L698.3,675.5 L701.8,677.3 L705.3,673.7 L709.2,669.5 L712.2,671.4 L714.7,667.7 L716.3,668.0 L715.2,665.8 L714.8,664.8 L716.2,660.7 L718.6,661.6 L720.5,659.9 L723.1,650.0 L725.7,650.1 L728.3,642.5 L731.7,638.9 L736.6,640.2 L741.8,644.2 L746.5,642.9 L750.5,644.6 L754.1,643.3 L757.4,645.9 L760.8,648.3 L764.2,649.6 L766.8,657.6 L769.9,658.8 L773.7,659.8 L777.2,657.9 L781.2,662.2 L785.1,661.3 L789.8,663.2 L794.5,663.7 L798.6,669.6 L802.6,671.7 L805.8,676.0 L808.6,677.7 L811.0,685.7 L812.5,688.0 L814.9,691.3 L816.3,699.4 L817.6,698.8 L819.7,702.3 L821.0,704.8 L823.4,712.9 L824.5,713.0 L826.7,720.8 L828.1,723.3 L830.1,729.1 L831.5,731.9 L833.1,736.7 L833.8,740.7 L835.0,743.0 L836.0,746.8 L836.9,751.4 L837.8,750.8 L839.1,754.9 L839.3,755.5 L838.3,759.1 L838.3,762.8 L837.2,758.6 L835.7,765.2 L839.0,758.6 L843.4,759.7 L848.3,758.1 L853.2,769.0 L857.1,773.1 L860.0,772.1 L861.9,781.0 L864.5,785.6 L867.0,782.6 L869.3,789.4 L871.6,790.1 L873.1,794.5 L874.3,803.5 L876.4,803.5 L878.5,809.4 L881.8,808.1 L885.0,806.9 L888.3,809.2 L892.1,811.9 L895.5,810.0 L898.9,815.6 L902.4,813.0 L907.8,814.9 L913.2,814.3 L917.1,823.0 L921.1,828.5 L923.9,827.8 L926.3,836.0 L929.0,838.3 L930.7,839.3 L931.8,845.7 L932.7,849.8 L933.5,851.1 L933.9,857.4 L934.2,863.6 L935.8,863.5 L937.8,866.6 L939.6,875.3 L940.4,876.7 L941.7,881.2 L943.2,884.8 L945.6,888.0 L947.0,895.7 L947.9,895.0 L948.2,904.4 L949.1,907.8 L950.3,908.4 L951.1,915.6 L951.7,917.6 L952.7,922.8 L953.4,924.1 L953.6,927.7 L953.6,931.9 L954.0,934.4 L954.1,937.1 L954.9,944.8 L955.4,948.2 L957.0,950.1 L958.8,953.2 L961.8,954.8 L965.5,953.0 L965.5,953.0" fill="none" stroke="#9444e6" stroke-width="1.45" stroke-linejoin="round"/>
<path d="M647.7,645.8 L651.8,639.5 L655.7,642.9 L659.4,644.0 L662.8,642.9 L666.2,646.4 L667.9,651.5 L670.5,658.6 L672.6,659.4 L675.1,659.6 L677.2,667.1 L678.2,668.2 L678.5,673.5 L676.4,673.9 L675.8,670.2 L677.8,670.2 L680.9,664.8 L685.9,660.3 L690.7,661.8 L694.0,669.3 L696.3,671.2 L699.1,673.0 L701.7,673.2 L705.3,673.1 L709.1,676.8 L712.6,672.2 L716.1,676.5 L719.7,679.1 L720.6,669.6 L721.8,668.6 L724.0,667.7 L725.9,663.6 L728.1,658.2 L729.9,654.0 L731.5,654.9 L732.9,648.2 L734.8,648.7 L738.5,646.9 L741.9,648.1 L745.5,645.4 L748.9,649.1 L751.5,649.1 L754.4,650.5 L757.9,654.5 L761.0,656.0 L764.2,655.1 L767.6,663.2 L770.9,665.1 L774.8,662.8 L778.8,661.2 L783.0,663.0 L787.0,667.3 L791.7,665.6 L795.2,673.0 L798.8,673.8 L801.8,679.9 L804.6,685.3 L807.3,682.7 L809.1,687.8 L811.0,691.7 L812.7,695.0 L814.6,702.2 L816.4,705.9 L818.6,707.5 L820.6,709.5 L822.0,715.3 L823.6,719.6 L825.6,726.0 L827.7,724.2 L829.2,732.9 L830.5,736.2 L831.9,740.4 L832.7,742.6 L834.1,743.7 L834.4,747.4 L836.1,751.9 L837.2,753.9 L837.6,758.7 L837.6,764.2 L837.7,764.0 L836.8,760.6 L835.7,765.5 L839.0,760.7 L843.3,759.2 L848.3,760.7 L853.6,767.6 L858.8,772.6 L861.6,771.2 L864.7,776.8 L868.0,780.0 L871.1,782.2 L874.3,786.3 L877.0,793.6 L879.8,796.6 L881.8,794.4 L882.8,798.4 L885.4,803.0 L887.5,800.2 L890.0,803.1 L892.5,804.9 L896.0,807.1 L898.8,805.2 L901.6,809.3 L904.9,808.5 L910.1,815.0 L915.5,815.5 L919.7,818.8 L922.9,825.3 L925.6,832.0 L927.2,830.7 L928.8,840.2 L929.4,846.0 L929.8,848.5 L929.7,851.1 L930.0,855.5 L930.4,857.9 L931.2,864.9 L932.7,868.6 L934.3,870.0 L935.6,873.3 L937.6,877.0 L938.7,884.5 L940.4,886.3 L942.0,886.9 L943.2,891.1 L943.3,895.7 L944.6,900.6 L945.3,908.8 L945.7,910.3 L946.0,914.7 L947.7,915.2 L948.4,920.9 L948.7,927.1 L949.5,927.6 L950.8,930.6 L952.1,937.4 L952.5,942.8 L953.2,944.4 L954.8,945.8 L956.6,947.9 L958.7,954.1 L961.7,955.1 L965.4,955.9 L965.4,955.9" fill="none" stroke="#9444e6" stroke-width="1.45" stroke-linejoin="round"/>
<path d="M649.9,649.1 L651.5,649.0 L653.6,649.3 L654.5,652.7 L655.9,652.9 L657.9,656.8 L660.0,660.8 L662.1,660.3 L664.2,666.9 L665.8,669.2 L668.6,668.8 L671.7,676.3 L674.6,677.2 L677.2,681.0 L679.3,674.9 L681.6,670.4 L683.1,666.3 L686.0,663.8 L689.8,665.4 L693.4,669.0 L696.4,669.0 L699.4,674.2 L702.0,669.3 L705.3,673.4 L709.2,666.8 L712.2,666.1 L714.8,668.3 L717.3,670.0 L717.5,671.6 L718.0,666.8 L719.4,666.9 L721.7,660.3 L723.4,656.2 L725.3,656.6 L727.1,651.9 L729.1,645.3 L732.3,641.4 L737.0,645.2 L741.8,639.6 L746.2,642.7 L750.1,639.6 L753.0,649.5 L756.1,650.9 L758.3,652.7 L761.1,654.0 L763.2,660.8 L765.1,662.8 L768.4,665.6 L771.6,666.8 L774.9,670.6 L778.1,669.7 L781.0,678.4 L783.9,678.5 L786.4,679.5 L787.9,685.6 L790.0,686.8 L792.4,691.1 L794.0,695.0 L796.2,696.5 L798.5,700.3 L801.2,699.8 L803.8,705.1 L806.4,709.1 L808.3,708.6 L810.7,714.5 L813.3,719.6 L815.8,721.6 L818.1,725.6 L821.1,729.5 L823.0,729.8 L824.6,733.1 L826.5,739.9 L828.3,744.7 L830.1,745.9 L832.4,748.6 L834.6,757.1 L836.1,759.1 L837.9,756.9 L838.4,761.5 L839.1,762.2 L838.0,760.6 L835.9,758.3 L839.1,758.0 L843.9,750.8 L850.2,753.2 L858.8,755.3 L865.7,759.2 L870.3,763.2 L873.1,767.9 L877.3,773.0 L881.4,773.8 L884.5,779.3 L886.2,781.9 L888.5,789.6 L888.1,794.9 L887.5,793.3 L888.1,800.0 L888.7,799.0 L889.6,803.5 L891.3,804.6 L893.2,812.8 L895.6,810.7 L897.8,816.7 L900.6,818.4 L904.7,820.2 L908.2,825.1 L910.2,829.0 L911.8,832.5 L913.8,835.0 L915.5,840.2 L917.0,846.0 L918.1,844.9 L919.6,847.7 L921.4,856.2 L922.3,859.7 L923.6,862.5 L926.7,865.7 L929.1,868.7 L931.2,870.3 L932.8,874.3 L935.6,875.6 L937.4,883.8 L938.5,885.9 L940.4,893.4 L941.5,890.8 L942.1,895.3 L942.7,903.7 L943.6,907.3 L944.0,913.3 L944.6,912.7 L945.6,914.7 L946.8,920.3 L947.9,924.8 L949.4,926.9 L950.1,934.3 L950.8,935.3 L952.3,938.0 L953.5,942.6 L955.1,948.1 L956.8,948.3 L958.9,957.0 L962.0,955.8 L965.4,954.8 L965.4,954.8" fill="none" stroke="#9444e6" stroke-width="1.45" stroke-linejoin="round"/>
<path d="M648.7,645.7 L651.7,645.0 L654.7,643.6 L656.4,644.6 L658.0,647.0 L660.0,651.1 L661.4,658.0 L663.2,663.0 L665.1,665.5 L665.8,670.2 L668.0,669.3 L669.7,676.5 L673.0,683.5 L677.5,683.1 L681.9,676.8 L684.3,671.4 L685.9,675.4 L686.2,667.0 L687.1,671.4 L689.5,675.6 L691.8,680.1 L696.2,681.5 L701.0,681.8 L705.2,679.0 L709.0,675.9 L713.1,678.8 L717.5,681.9 L721.8,682.0 L724.2,679.8 L726.4,675.0 L728.0,664.6 L729.0,660.8 L730.2,658.0 L731.8,653.5 L732.6,654.4 L732.9,649.2 L734.5,646.6 L738.2,648.4 L741.9,647.6 L745.7,642.0 L749.1,645.9 L752.2,644.3 L755.1,652.2 L757.8,656.4 L760.8,654.3 L763.1,662.3 L765.6,661.0 L768.7,665.2 L772.2,667.4 L775.8,667.9 L779.4,668.1 L782.2,670.7 L785.2,673.2 L788.0,681.7 L790.2,680.7 L792.9,683.9 L795.0,686.9 L796.8,693.4 L798.2,697.6 L800.1,698.1 L801.9,704.7 L803.9,706.7 L805.1,707.9 L806.5,711.2 L808.8,718.2 L810.5,721.6 L812.4,721.5 L814.2,730.2 L815.8,732.6 L817.2,732.3 L818.4,736.0 L820.4,744.3 L822.1,744.8 L823.2,747.1 L825.0,753.0 L827.5,759.6 L829.0,762.9 L831.0,763.4 L833.0,765.7 L834.0,768.3 L835.5,767.9 L835.6,766.4 L839.0,761.0 L843.3,761.0 L848.4,762.4 L854.8,765.2 L860.1,764.8 L863.2,769.2 L865.6,772.0 L869.2,777.1 L872.2,785.1 L874.2,783.4 L875.6,789.7 L876.2,795.5 L876.8,801.4 L877.4,804.5 L878.6,805.1 L880.6,807.4 L882.6,812.2 L885.5,817.2 L888.7,820.0 L891.9,820.5 L895.1,819.8 L898.6,824.4 L902.4,824.2 L906.1,829.1 L908.8,832.5 L910.8,832.8 L913.1,836.9 L914.8,843.3 L918.0,844.4 L918.3,847.6 L920.3,848.6 L921.7,855.7 L922.9,858.4 L924.0,862.8 L926.0,866.4 L928.4,868.2 L931.2,873.5 L933.6,872.5 L935.3,880.5 L937.3,885.0 L939.2,883.0 L940.7,890.7 L942.4,897.4 L943.9,899.9 L944.0,901.9 L944.9,903.3 L946.1,908.2 L946.7,911.3 L947.5,919.9 L948.1,924.2 L948.6,925.2 L949.1,929.2 L949.1,933.2 L950.0,934.4 L950.6,939.6 L950.9,942.6 L953.0,945.5 L955.2,953.4 L958.0,953.7 L961.6,958.0 L965.6,952.8 L965.6,952.8" fill="none" stroke="#9444e6" stroke-width="1.45" stroke-linejoin="round"/>
<path d="M650.7,650.2 L651.4,652.7 L653.3,649.6 L654.2,652.3 L655.7,652.6 L657.9,655.8 L660.8,655.7 L662.3,660.6 L664.9,667.1 L667.2,665.1 L669.9,669.0 L671.7,677.6 L674.6,678.1 L677.3,677.5 L680.2,679.3 L682.5,675.9 L684.3,669.6 L686.1,667.2 L688.5,665.9 L690.4,674.8 L692.9,676.2 L697.0,679.9 L701.2,676.1 L705.2,676.8 L709.0,682.0 L713.2,678.2 L717.4,682.6 L722.0,684.6 L725.0,679.4 L727.5,670.9 L729.5,666.1 L731.9,667.5 L733.1,661.8 L734.6,658.4 L735.7,655.2 L736.2,649.5 L737.5,651.9 L740.5,653.4 L742.0,652.4 L744.0,652.7 L746.0,651.8 L747.2,653.6 L748.5,659.8 L750.7,658.5 L753.2,664.7 L756.0,667.7 L759.9,671.4 L763.9,674.2 L768.3,673.1 L772.5,678.6 L776.4,676.1 L779.5,679.4 L783.3,679.2 L786.8,676.7 L789.5,679.9 L792.9,682.5 L795.8,686.0 L798.1,688.9 L800.8,693.3 L803.1,695.6 L804.8,701.2 L807.7,706.8 L809.6,708.9 L811.9,710.5 L813.6,717.2 L815.4,719.9 L817.9,724.4 L819.1,728.1 L820.9,727.2 L821.7,735.9 L823.1,736.1 L824.1,738.9 L824.7,742.3 L825.6,750.2 L826.4,752.7 L827.2,756.8 L827.7,759.6 L828.4,766.9 L828.6,764.6 L829.9,769.6 L832.0,771.9 L835.2,779.2 L838.7,777.5 L842.2,773.1 L845.1,772.2 L846.9,781.5 L848.6,778.6 L850.7,783.5 L853.2,788.9 L855.0,793.5 L857.6,794.6 L859.0,794.8 L860.6,797.2 L862.4,802.7 L865.4,807.3 L867.4,808.8 L870.7,814.2 L875.1,818.1 L879.1,820.6 L882.9,818.9 L886.4,820.9 L890.4,822.5 L894.7,825.9 L898.7,827.0 L902.7,827.2 L906.7,823.9 L910.3,827.5 L912.8,832.9 L915.3,833.0 L918.0,840.4 L921.0,844.2 L922.6,848.3 L923.7,847.0 L925.0,852.6 L926.0,860.2 L927.1,861.7 L929.0,862.1 L930.6,870.1 L932.4,870.0 L934.8,877.4 L936.5,876.4 L937.7,884.8 L938.3,885.6 L939.8,888.2 L940.2,895.8 L941.0,899.3 L941.6,903.3 L942.5,905.0 L942.5,910.6 L942.7,911.6 L944.1,915.7 L944.5,921.0 L944.4,926.7 L945.3,928.3 L946.8,932.8 L947.7,941.4 L948.8,945.4 L950.4,948.6 L952.7,949.7 L955.4,949.3 L958.3,955.7 L961.6,953.3 L965.5,953.1 L965.5,953.1" fill="none" stroke="#9444e6" stroke-width="1.45" stroke-linejoin="round"/>
<path d="M649.3,650.4 L651.6,648.5 L653.9,645.1 L655.0,646.3 L656.2,651.7 L658.1,651.6 L659.3,655.4 L660.2,662.9 L661.2,668.3 L662.5,668.7 L663.3,674.4 L665.8,681.1 L669.8,689.1 L678.4,693.7 L687.0,685.9 L690.8,682.9 L690.8,683.6 L686.6,679.6 L683.2,680.9 L682.8,684.9 L685.5,684.1 L692.5,690.2 L699.8,688.8 L705.0,689.4 L708.7,691.8 L714.2,687.9 L720.0,687.7 L726.1,688.6 L729.2,681.6 L731.9,676.2 L732.5,669.1 L733.3,666.6 L733.4,659.7 L733.9,656.1 L734.3,651.1 L734.3,652.9 L735.7,648.4 L738.9,648.6 L741.9,647.8 L745.3,646.9 L748.6,647.3 L751.0,652.0 L753.8,652.1 L756.6,653.0 L759.1,656.6 L762.3,657.5 L765.1,661.2 L768.4,662.9 L772.2,668.4 L775.9,668.2 L779.3,669.5 L782.9,672.7 L786.4,677.0 L789.1,677.4 L791.4,683.7 L793.7,686.4 L795.4,688.8 L796.3,688.7 L797.3,696.0 L798.6,701.3 L799.4,704.3 L800.4,708.4 L800.9,712.0 L801.7,715.6 L802.4,717.6 L803.1,724.0 L803.9,724.9 L805.0,732.4 L805.5,732.7 L806.2,736.4 L806.5,743.6 L807.3,743.9 L807.8,749.6 L808.1,751.1 L809.8,757.1 L811.3,762.9 L813.0,764.9 L814.9,772.0 L817.8,773.4 L822.2,782.2 L828.6,784.5 L834.9,785.0 L838.7,779.5 L842.0,773.9 L845.2,771.7 L848.0,775.7 L851.6,774.8 L855.3,779.8 L859.0,783.2 L862.8,787.0 L866.4,787.0 L869.5,789.1 L872.9,792.9 L874.6,799.7 L876.6,796.1 L878.1,800.9 L879.9,802.0 L882.8,805.2 L885.1,808.6 L888.1,808.5 L890.8,815.3 L894.1,814.5 L896.8,820.7 L900.2,823.7 L904.1,820.6 L908.2,821.6 L910.6,826.0 L912.0,830.3 L913.3,837.6 L915.6,842.3 L917.0,844.1 L917.0,848.2 L917.8,849.2 L918.9,853.5 L920.0,858.3 L920.7,865.0 L921.5,866.0 L923.8,874.4 L925.6,874.6 L926.5,880.3 L928.4,883.8 L929.8,882.6 L930.7,886.4 L932.2,893.7 L932.6,899.7 L933.3,900.4 L935.3,904.8 L936.2,907.7 L937.5,909.0 L938.5,914.1 L939.7,920.2 L941.6,922.5 L942.7,927.3 L944.6,933.8 L946.1,931.1 L947.5,939.4 L949.0,938.9 L950.2,946.8 L953.4,946.3 L955.9,952.8 L958.6,952.8 L961.8,951.4 L965.4,951.6 L965.4,951.6" fill="none" stroke="#9444e6" stroke-width="1.45" stroke-linejoin="round"/>
<path d="M651.9,652.4 L651.2,655.0 L652.5,647.6 L653.0,650.7 L654.2,653.9 L656.5,654.0 L659.1,655.5 L661.7,662.4 L663.5,665.1 L665.0,665.6 L667.3,673.1 L669.7,674.7 L672.5,678.2 L677.7,685.6 L682.8,677.8 L686.5,674.1 L687.5,674.3 L686.4,674.4 L685.4,676.7 L685.9,683.1 L688.2,681.3 L693.9,687.3 L700.2,687.6 L705.1,685.8 L708.8,690.7 L714.1,687.5 L719.9,686.6 L726.3,692.8 L731.2,680.7 L735.4,678.2 L737.3,671.8 L738.1,670.4 L739.5,666.4 L740.0,661.3 L740.4,660.1 L740.1,657.0 L739.8,656.1 L741.8,652.4 L742.0,655.0 L743.6,653.4 L745.4,654.3 L746.4,655.7 L748.1,661.2 L750.5,659.1 L753.5,662.4 L757.0,662.7 L760.7,669.2 L765.0,668.0 L769.2,669.7 L773.4,675.7 L777.1,677.6 L780.1,676.6 L782.9,677.9 L785.3,679.9 L787.8,683.2 L788.8,684.2 L790.7,690.7 L791.2,692.7 L791.4,695.9 L792.6,697.3 L792.9,704.9 L794.1,706.8 L794.7,715.0 L796.2,713.2 L797.2,720.2 L798.3,727.0 L800.0,731.1 L801.0,731.0 L803.2,733.5 L803.9,740.5 L805.1,740.4 L806.4,744.9 L807.9,750.4 L810.3,752.8 L811.7,758.3 L814.2,762.1 L816.5,767.1 L818.6,766.6 L821.2,774.5 L825.4,772.0 L830.2,777.5 L835.1,779.8 L838.7,778.0 L842.2,773.7 L845.6,774.0 L848.3,772.2 L851.4,775.6 L854.4,783.0 L857.0,785.0 L859.7,784.4 L862.1,788.0 L863.4,793.4 L864.9,797.5 L865.9,798.5 L867.0,807.2 L867.4,812.5 L870.1,816.3 L872.6,817.7 L876.0,822.6 L878.7,824.7 L882.3,829.0 L886.2,830.4 L889.9,833.9 L893.5,836.7 L895.8,834.9 L898.3,838.2 L900.1,836.5 L901.1,843.2 L902.4,842.7 L904.8,842.4 L907.7,845.5 L909.8,849.0 L912.4,856.9 L914.3,859.7 L916.7,860.5 L919.0,862.4 L922.0,867.9 L925.0,873.4 L927.8,871.3 L930.3,877.0 L932.1,877.0 L933.8,881.9 L935.9,888.8 L937.0,893.4 L938.4,897.8 L938.7,898.4 L939.9,901.6 L939.5,904.4 L940.1,908.7 L940.4,913.2 L941.3,918.1 L941.5,920.1 L942.0,929.5 L943.1,934.1 L945.0,937.8 L946.4,937.7 L947.4,942.5 L949.2,949.0 L951.8,951.7 L955.5,951.1 L958.6,957.6 L961.9,951.0 L965.3,948.6 L965.3,948.6" fill="none" stroke="#9444e6" stroke-width="1.45" stroke-linejoin="round"/>
<path d="M654.5,665.7 L650.8,660.9 L649.3,656.1 L646.6,660.4 L644.3,663.4 L645.2,661.7 L647.3,668.0 L649.2,667.7 L651.8,670.5 L654.1,673.7 L655.9,677.0 L659.7,684.7 L667.1,690.3 L678.9,698.0 L689.2,691.6 L693.4,685.0 L692.1,679.4 L686.7,678.8 L683.3,679.3 L683.3,683.4 L686.1,684.4 L693.2,690.8 L700.0,691.6 L705.1,690.2 L708.8,688.8 L713.9,687.8 L719.2,688.6 L724.4,683.2 L727.4,680.6 L729.3,671.5 L730.2,666.7 L731.1,665.6 L731.5,661.6 L732.8,657.9 L733.1,650.6 L734.6,649.7 L735.7,649.7 L739.5,646.0 L741.9,646.5 L744.7,650.5 L746.7,653.4 L747.9,654.3 L748.8,658.3 L750.6,662.8 L752.6,665.1 L755.1,667.2 L758.3,669.7 L762.2,677.8 L766.1,675.5 L770.2,681.9 L773.0,682.6 L775.5,682.4 L777.8,684.6 L780.8,685.2 L782.0,689.7 L783.8,687.1 L785.7,690.4 L786.1,697.5 L786.8,699.7 L787.3,702.1 L787.6,706.7 L788.7,708.0 L790.2,713.6 L791.8,716.2 L792.9,721.8 L793.6,728.3 L796.1,727.8 L797.1,729.3 L798.7,733.7 L800.1,736.2 L800.7,740.2 L802.0,750.1 L803.1,749.9 L803.7,755.1 L804.3,757.1 L806.0,764.8 L807.1,767.1 L808.3,772.7 L810.7,782.8 L815.6,789.0 L824.4,791.2 L834.4,797.4 L838.4,797.0 L840.7,796.4 L841.2,793.4 L838.9,792.9 L838.4,794.7 L841.8,792.1 L845.4,797.8 L848.2,794.9 L851.5,795.0 L854.6,798.6 L857.4,801.4 L860.4,800.7 L863.2,807.3 L866.5,811.7 L870.9,809.9 L874.8,816.0 L879.2,815.7 L882.6,817.3 L886.0,824.2 L890.1,820.4 L893.7,826.5 L897.6,828.0 L901.4,826.6 L904.8,826.6 L907.2,833.7 L909.4,831.2 L910.7,840.0 L913.0,839.9 L914.6,842.1 L916.0,850.4 L917.7,849.0 L919.0,858.5 L920.0,856.2 L921.6,863.1 L923.4,866.3 L924.7,870.2 L926.3,873.2 L928.2,876.0 L929.5,885.2 L929.8,886.0 L931.3,889.0 L932.5,892.6 L932.9,895.5 L933.2,901.6 L934.6,902.5 L935.5,907.3 L936.0,914.8 L936.8,918.2 L938.6,916.2 L939.5,924.9 L941.5,926.7 L943.5,932.4 L945.2,935.5 L946.8,939.3 L947.9,941.2 L949.8,948.3 L953.2,949.7 L955.7,952.8 L958.7,954.8 L961.8,957.4 L965.3,948.6 L965.3,948.6" fill="none" stroke="#9444e6" stroke-width="1.45" stroke-linejoin="round"/>
<path d="M651.5,652.7 L651.3,652.7 L652.4,646.8 L652.4,649.7 L652.6,654.0 L654.2,654.5 L655.6,657.9 L658.1,662.0 L659.4,667.4 L661.6,672.8 L663.5,677.0 L665.7,675.8 L670.1,682.6 L678.2,689.5 L685.2,680.2 L689.0,676.5 L689.2,676.4 L686.5,677.8 L685.1,680.2 L686.0,681.4 L688.0,682.9 L694.3,684.3 L700.3,689.8 L705.1,687.3 L708.8,683.4 L713.9,682.8 L719.5,687.2 L725.2,688.7 L729.4,681.8 L733.4,679.0 L735.2,674.0 L737.2,670.3 L738.8,663.1 L739.7,662.9 L740.3,653.7 L740.0,652.6 L740.6,653.4 L742.4,655.3 L742.1,661.4 L742.8,657.8 L743.5,660.3 L743.2,659.3 L742.5,660.9 L744.4,666.3 L746.3,669.4 L749.9,672.8 L753.4,677.3 L757.8,679.0 L762.0,681.0 L765.8,686.2 L769.1,691.4 L771.0,692.1 L772.9,689.8 L775.0,693.0 L776.1,694.0 L777.8,695.9 L780.2,697.4 L780.9,698.2 L782.3,703.1 L784.3,700.9 L786.0,709.0 L788.0,710.6 L789.5,715.6 L791.0,719.1 L792.3,722.0 L794.7,727.0 L796.4,725.7 L797.4,730.2 L799.5,733.3 L800.4,741.0 L801.3,745.5 L802.2,745.3 L803.5,749.1 L804.2,756.8 L804.6,758.0 L806.1,763.8 L806.4,770.2 L808.4,771.4 L810.5,783.1 L815.8,783.5 L824.8,792.8 L834.5,790.1 L838.5,793.0 L841.0,792.3 L842.4,789.5 L841.7,788.6 L841.5,788.8 L844.6,792.1 L847.9,794.2 L850.5,797.9 L853.6,794.7 L855.9,799.6 L858.5,801.8 L860.6,800.7 L863.9,804.3 L866.7,812.9 L869.5,818.0 L873.1,819.0 L877.6,820.6 L881.4,819.9 L885.2,819.9 L888.6,825.6 L892.7,827.7 L896.5,829.5 L899.5,828.1 L902.9,834.5 L905.1,831.0 L906.9,834.4 L908.7,838.0 L910.9,845.5 L913.3,842.4 L914.4,847.0 L915.9,850.6 L916.7,853.3 L917.7,857.7 L919.7,867.4 L922.0,866.0 L923.7,872.5 L925.7,874.3 L928.1,879.8 L930.1,884.2 L931.1,885.4 L932.4,887.9 L934.0,893.6 L934.6,898.9 L935.5,901.6 L936.2,903.3 L937.4,907.4 L938.0,909.9 L938.4,916.5 L939.7,918.7 L940.9,920.8 L942.1,928.6 L943.5,934.0 L944.5,935.3 L945.8,942.1 L947.3,945.4 L948.4,948.6 L951.5,947.7 L955.1,952.7 L958.0,958.4 L961.8,951.6 L965.4,954.9 L965.4,954.9" fill="none" stroke="#9444e6" stroke-width="1.45" stroke-linejoin="round"/>
<path d="M652.5,656.8 L651.1,658.2 L651.6,652.5 L650.7,655.5 L650.5,654.6 L652.7,661.1 L654.2,664.2 L656.2,667.2 L657.4,669.7 L659.7,673.9 L661.6,675.4 L664.7,682.8 L669.9,686.8 L678.2,689.9 L685.8,681.1 L689.2,683.2 L688.7,680.8 L686.4,671.6 L685.5,674.1 L686.5,679.1 L689.4,677.4 L694.6,681.2 L700.5,689.0 L705.1,686.4 L708.9,684.9 L713.5,681.0 L718.1,679.7 L722.9,684.5 L725.6,678.7 L727.9,671.7 L729.1,671.0 L731.4,666.3 L732.5,658.6 L733.7,661.1 L735.0,650.7 L735.9,652.5 L737.7,653.6 L740.6,650.2 L742.0,650.2 L744.0,650.7 L745.6,654.5 L746.0,656.5 L746.4,660.5 L747.8,659.5 L749.4,665.0 L752.3,672.3 L755.5,676.7 L759.4,676.9 L763.8,681.2 L767.5,686.2 L770.7,686.7 L773.3,686.6 L776.0,687.4 L778.7,683.5 L781.0,690.1 L782.9,687.8 L785.9,693.8 L789.0,694.1 L793.0,695.1 L797.4,695.9 L801.7,700.4 L806.2,703.6 L811.3,704.3 L817.0,712.5 L822.1,711.1 L827.1,716.4 L831.4,713.6 L835.7,721.1 L840.9,722.3 L843.4,724.2 L844.9,730.6 L847.2,732.7 L849.3,734.7 L851.1,739.9 L852.9,744.0 L855.0,748.9 L856.1,749.3 L856.2,751.5 L854.6,748.6 L851.8,742.8 L845.2,744.1 L836.6,741.7 L839.4,739.5 L845.1,735.3 L853.1,740.4 L863.8,743.4 L871.5,751.9 L873.7,763.7 L875.6,763.6 L877.8,771.9 L880.4,775.1 L882.1,782.5 L883.9,783.9 L885.1,791.3 L885.5,791.3 L886.0,798.7 L887.1,798.3 L888.9,798.3 L890.4,801.8 L892.9,799.7 L896.2,801.4 L899.1,802.5 L901.9,808.4 L905.2,808.9 L910.7,814.6 L916.5,811.2 L921.9,812.2 L926.3,821.9 L930.4,824.6 L933.0,829.6 L935.8,836.0 L936.6,838.3 L937.0,842.6 L938.0,849.3 L938.6,850.7 L938.2,855.2 L940.1,859.7 L941.4,862.4 L943.3,863.5 L944.7,869.6 L946.2,873.6 L947.3,880.6 L948.8,886.2 L949.8,884.5 L950.8,892.5 L950.9,896.2 L950.6,898.8 L950.7,903.2 L951.2,912.6 L951.2,914.5 L950.6,916.6 L950.5,922.2 L950.2,923.2 L950.6,929.1 L951.2,932.0 L951.0,934.2 L951.5,945.0 L952.3,943.8 L953.9,949.1 L956.4,951.1 L958.8,953.2 L961.9,955.5 L965.4,954.9 L965.4,954.9" fill="none" stroke="#9444e6" stroke-width="1.45" stroke-linejoin="round"/>
<path d="M655.8,664.9 L650.7,661.5 L649.4,658.0 L648.0,657.2 L648.4,655.8 L651.1,657.1 L654.7,664.8 L658.0,664.1 L660.6,669.8 L663.3,672.2 L666.0,669.1 L668.1,676.7 L671.8,680.7 L677.9,685.7 L684.0,685.0 L688.0,681.2 L689.0,676.4 L686.5,676.4 L684.2,679.0 L683.9,679.5 L685.7,683.3 L692.4,689.6 L699.6,695.8 L705.0,691.2 L708.6,690.1 L714.6,691.2 L721.5,691.7 L728.9,696.9 L735.5,691.0 L740.5,680.7 L742.0,676.6 L743.4,668.7 L744.4,664.5 L745.7,660.8 L745.3,663.4 L743.4,658.6 L742.9,659.3 L743.9,662.6 L742.1,663.2 L742.1,663.6 L742.6,662.8 L742.2,665.1 L742.6,662.0 L745.6,662.1 L748.7,668.9 L752.8,669.8 L757.6,669.3 L762.2,678.2 L767.4,676.0 L771.9,675.6 L775.7,673.6 L779.0,678.9 L782.6,676.9 L785.9,680.2 L787.8,687.1 L789.8,684.8 L791.2,692.1 L792.1,689.7 L794.4,695.1 L795.6,698.8 L796.7,705.4 L797.6,709.2 L798.8,708.5 L799.7,712.0 L801.1,715.0 L801.8,725.1 L803.4,728.3 L805.9,726.2 L807.8,731.0 L809.0,740.5 L810.6,742.7 L813.7,740.7 L816.2,751.0 L819.4,751.1 L823.5,751.6 L827.2,758.1 L830.9,762.7 L835.3,758.1 L838.1,760.1 L840.0,755.2 L839.6,754.5 L836.1,751.7 L839.2,748.8 L844.6,741.7 L852.2,746.8 L863.6,745.8 L872.1,755.1 L876.2,760.9 L879.5,762.2 L884.1,762.7 L887.2,774.4 L888.6,778.3 L890.3,778.7 L890.4,788.9 L887.8,795.4 L886.0,800.3 L884.7,802.4 L884.6,805.3 L884.8,807.7 L886.1,814.4 L888.1,814.5 L890.2,822.4 L893.4,822.5 L896.0,832.6 L898.8,832.4 L901.5,830.8 L903.2,832.3 L904.1,838.8 L906.3,837.6 L909.5,841.9 L913.1,843.5 L916.5,846.2 L919.7,854.5 L924.0,856.3 L927.8,854.7 L931.4,862.7 L934.7,860.7 L938.5,861.8 L942.2,864.1 L944.8,869.8 L947.7,876.8 L950.3,873.9 L951.2,880.6 L952.5,883.0 L952.5,891.9 L952.5,898.7 L952.0,903.4 L951.4,907.3 L950.1,905.6 L949.4,913.3 L949.0,914.0 L948.1,920.3 L947.5,925.3 L948.2,932.5 L948.8,932.3 L949.0,936.2 L950.7,941.9 L951.5,948.4 L953.6,948.7 L956.6,947.3 L959.1,954.8 L962.3,954.0 L965.1,951.5 L965.1,951.5" fill="none" stroke="#9444e6" stroke-width="1.45" stroke-linejoin="round"/>
<path d="M655.0,660.3 L650.8,658.3 L649.4,657.7 L647.6,658.8 L645.5,659.4 L646.8,663.0 L648.9,664.1 L650.6,670.1 L652.9,672.9 L654.7,672.8 L657.1,673.7 L660.8,687.1 L666.9,691.3 L678.9,692.2 L689.3,685.5 L693.9,686.4 L692.4,682.3 L686.7,681.8 L682.2,683.0 L681.7,689.9 L684.1,691.2 L691.9,692.7 L699.5,697.9 L705.0,690.4 L708.6,694.4 L714.4,691.8 L720.7,691.1 L727.5,693.5 L732.7,687.0 L736.8,677.7 L737.8,671.8 L738.8,667.5 L739.6,662.3 L740.4,662.8 L740.9,654.3 L740.4,652.0 L740.5,653.8 L742.1,659.4 L742.1,656.0 L742.9,659.8 L743.6,661.7 L742.9,662.1 L741.8,662.9 L742.7,668.2 L744.3,675.7 L747.2,679.7 L750.1,680.7 L754.1,689.7 L758.6,689.0 L762.5,692.9 L765.2,696.5 L766.7,695.8 L768.9,690.9 L770.7,697.5 L771.8,694.7 L773.6,696.3 L776.5,696.4 L778.5,699.8 L781.2,703.0 L784.2,705.4 L787.3,703.4 L791.1,708.1 L794.3,713.5 L797.7,716.3 L801.3,718.4 L805.4,723.0 L809.3,723.6 L813.1,726.4 L816.5,732.8 L818.3,734.1 L820.1,740.8 L822.7,744.6 L824.0,744.6 L825.6,749.8 L827.1,755.4 L828.7,752.9 L831.4,759.7 L832.6,765.6 L832.9,761.7 L834.7,767.3 L835.5,766.6 L835.6,767.6 L838.9,761.9 L843.2,761.2 L848.2,761.1 L853.8,764.7 L858.7,769.1 L862.0,769.0 L864.7,777.6 L867.9,782.7 L871.3,784.1 L873.9,788.6 L875.8,792.6 L877.3,795.1 L879.1,797.8 L880.2,799.2 L881.5,804.5 L883.7,805.6 L885.5,808.1 L888.2,810.1 L891.2,810.8 L894.3,817.7 L897.4,813.2 L900.7,818.1 L904.8,824.7 L908.9,825.4 L911.7,828.2 L913.9,831.3 L915.8,833.1 L917.5,836.0 L918.6,840.4 L919.4,848.4 L920.1,853.7 L920.5,851.9 L921.7,860.2 L922.8,862.1 L924.4,865.7 L926.2,872.6 L928.1,876.6 L930.3,875.5 L931.1,879.8 L932.3,883.5 L934.2,885.6 L935.1,892.3 L936.2,892.6 L937.2,901.9 L938.0,900.2 L938.3,906.9 L939.3,907.9 L940.5,918.4 L942.0,922.6 L942.1,921.7 L942.9,924.9 L944.5,928.3 L945.5,935.6 L946.9,941.6 L947.8,941.2 L949.7,948.3 L952.2,949.9 L955.0,952.8 L958.1,959.3 L961.6,959.2 L965.5,953.4 L965.5,953.4" fill="none" stroke="#9444e6" stroke-width="1.45" stroke-linejoin="round"/>
<path d="M655.1,668.0 L650.7,662.4 L648.3,660.7 L644.6,666.3 L640.9,662.6 L641.0,666.1 L642.5,664.4 L642.7,674.8 L643.9,679.1 L644.8,683.6 L646.4,686.5 L650.0,687.8 L660.5,704.2 L680.3,711.8 L697.5,698.9 L703.5,691.1 L699.2,692.2 L687.3,691.8 L678.0,697.6 L675.7,695.1 L678.5,695.6 L688.6,703.2 L698.6,702.0 L704.9,705.7 L708.5,697.0 L715.1,694.9 L722.3,695.0 L729.7,698.9 L735.5,690.4 L739.8,677.0 L741.1,672.4 L741.5,669.4 L741.6,663.6 L742.1,657.4 L742.0,655.4 L740.9,654.1 L741.0,658.1 L742.7,657.4 L742.1,661.3 L742.7,661.3 L743.1,665.2 L741.9,662.0 L740.7,665.0 L741.2,673.3 L742.7,672.5 L744.9,680.8 L748.2,679.8 L752.7,685.6 L756.7,694.9 L760.7,695.5 L763.2,697.6 L764.2,695.3 L765.5,697.2 L767.2,701.7 L767.9,700.8 L769.2,698.8 L771.6,700.9 L774.0,699.4 L775.7,704.1 L778.7,703.9 L780.8,711.3 L784.1,709.1 L787.3,714.7 L790.6,718.6 L795.1,719.0 L799.4,724.9 L803.1,729.6 L808.0,727.7 L812.9,732.8 L814.9,735.6 L818.1,738.1 L821.0,741.0 L823.2,742.5 L825.2,747.9 L827.2,756.0 L829.3,753.8 L829.9,762.3 L830.9,765.5 L831.0,768.5 L832.0,767.6 L833.3,769.4 L835.3,770.3 L838.8,774.2 L842.4,774.0 L845.4,773.4 L846.7,778.6 L847.4,782.9 L848.0,786.4 L849.5,787.8 L849.8,793.9 L850.4,802.2 L850.5,803.5 L849.8,805.9 L850.1,808.0 L852.0,810.9 L855.0,817.9 L858.5,820.6 L863.0,825.3 L868.6,833.0 L873.2,837.1 L878.0,837.1 L883.1,839.4 L888.2,837.5 L892.7,836.0 L895.7,835.8 L899.6,834.9 L902.9,833.3 L905.2,834.0 L908.5,839.4 L911.5,839.3 L914.7,842.7 L917.3,847.5 L919.7,847.3 L921.7,857.8 L923.8,858.6 L925.7,860.6 L928.3,864.2 L930.1,867.6 L932.4,869.3 L934.1,875.7 L935.1,876.0 L936.6,881.1 L938.0,888.4 L939.1,888.6 L938.9,897.6 L939.6,901.0 L939.9,905.6 L940.7,910.0 L940.8,909.2 L940.5,914.2 L941.0,916.0 L942.0,925.4 L942.8,924.8 L944.1,927.7 L945.8,935.8 L946.3,941.9 L947.8,940.4 L949.9,945.2 L952.0,946.8 L955.3,950.0 L958.2,956.7 L961.8,952.1 L965.3,948.0 L965.3,948.0" fill="none" stroke="#9444e6" stroke-width="1.45" stroke-linejoin="round"/>
<path d="M656.0,664.8 L650.6,668.3 L648.4,663.4 L644.9,661.2 L642.5,665.7 L643.3,665.5 L645.1,668.2 L646.6,672.5 L648.0,675.9 L649.0,675.2 L650.6,680.6 L654.3,691.5 L662.8,702.4 L679.9,708.1 L695.5,696.3 L701.5,688.8 L698.8,690.9 L687.2,694.0 L677.7,698.8 L674.5,694.0 L676.6,702.3 L686.7,708.1 L697.9,709.7 L704.8,708.5 L708.3,707.2 L716.2,711.7 L725.2,708.4 L735.3,706.6 L745.1,696.8 L750.9,684.2 L752.3,680.8 L753.1,673.0 L753.4,670.7 L752.9,667.6 L751.8,667.5 L748.9,665.5 L746.9,667.8 L746.3,666.0 L742.2,670.8 L740.8,668.8 L739.8,668.3 L737.9,675.0 L736.4,671.6 L738.1,675.5 L740.3,678.1 L744.2,677.6 L748.8,682.9 L754.0,685.3 L759.0,687.7 L763.7,692.2 L766.6,692.2 L768.6,693.3 L771.2,690.6 L773.5,689.3 L774.7,693.5 L776.0,695.0 L778.5,693.6 L779.7,697.1 L781.8,698.7 L782.7,703.0 L784.3,709.8 L785.9,710.1 L786.8,717.4 L787.6,717.1 L788.5,724.9 L789.5,728.9 L789.7,735.5 L790.2,732.3 L790.6,738.7 L789.6,745.1 L788.4,747.2 L788.0,747.1 L788.0,754.9 L788.3,759.1 L788.5,766.3 L789.8,771.9 L790.4,775.9 L792.9,781.4 L796.7,789.9 L804.0,797.3 L818.1,809.5 L833.8,813.2 L838.2,808.3 L839.8,803.4 L839.1,801.2 L834.9,803.4 L833.9,798.8 L836.8,798.3 L841.2,799.8 L844.6,800.2 L848.3,798.6 L851.2,801.3 L854.4,800.7 L857.6,803.4 L861.2,809.5 L864.7,816.3 L869.3,810.9 L873.4,817.2 L878.1,820.6 L882.1,824.1 L886.0,821.0 L889.9,822.9 L893.3,828.7 L897.1,827.6 L900.2,828.3 L902.9,828.7 L904.7,837.9 L905.4,837.0 L905.4,843.5 L906.7,846.6 L907.1,845.0 L907.1,851.9 L906.6,857.6 L906.6,859.5 L906.6,861.3 L907.3,866.4 L909.1,870.7 L910.7,877.7 L913.3,885.1 L914.9,888.2 L917.2,888.2 L919.3,892.8 L921.4,894.6 L923.1,896.6 L924.7,897.8 L927.3,900.1 L928.3,902.0 L930.4,911.2 L932.6,909.2 L934.8,914.6 L938.2,923.5 L940.1,927.0 L942.2,930.6 L943.9,928.1 L946.1,934.5 L947.1,939.6 L949.0,942.2 L950.6,944.6 L953.3,945.4 L955.7,951.9 L958.2,952.2 L961.5,952.4 L965.5,953.0 L965.5,953.0" fill="none" stroke="#9444e6" stroke-width="1.45" stroke-linejoin="round"/>
<path d="M659.4,672.4 L650.1,673.3 L644.8,673.9 L638.3,673.9 L632.6,672.0 L633.1,672.0 L634.1,673.6 L635.7,677.5 L637.5,680.1 L639.3,680.7 L641.5,689.9 L646.3,694.0 L658.1,703.9 L680.8,715.9 L699.9,700.6 L706.5,695.0 L701.7,699.9 L687.5,701.7 L676.0,701.9 L672.2,697.1 L674.7,704.5 L685.6,711.3 L697.6,712.9 L704.8,710.0 L708.2,708.5 L716.2,706.4 L725.2,704.5 L734.7,702.4 L743.4,694.4 L749.1,686.7 L750.4,675.0 L749.8,669.5 L750.1,671.6 L749.1,666.6 L748.3,663.1 L745.3,661.1 L743.9,660.7 L744.6,666.2 L742.1,666.7 L741.7,665.9 L741.7,665.7 L739.9,669.1 L738.9,667.6 L739.9,671.6 L742.4,677.1 L745.3,678.0 L748.7,682.2 L752.9,685.7 L757.8,687.9 L761.9,696.9 L764.6,696.3 L765.4,698.5 L766.7,693.3 L768.1,694.1 L768.8,696.5 L769.5,700.3 L771.1,701.5 L772.6,704.0 L772.5,701.4 L773.5,707.8 L773.8,711.9 L775.0,716.5 L776.2,717.3 L777.6,722.3 L779.0,728.3 L781.1,727.5 L781.8,730.8 L783.6,738.1 L784.4,744.6 L784.8,748.1 L785.0,751.2 L786.0,753.2 L786.5,755.4 L786.9,760.8 L787.9,764.6 L788.9,767.5 L790.0,776.2 L791.9,785.1 L795.5,789.9 L803.4,797.9 L818.0,808.2 L833.7,811.4 L838.1,809.3 L839.5,809.5 L838.4,808.7 L833.8,802.7 L831.5,801.4 L835.3,797.8 L839.7,800.8 L842.8,800.4 L846.6,798.2 L849.2,800.3 L851.8,802.4 L855.3,807.1 L858.6,812.2 L862.3,812.4 L866.8,817.9 L871.1,821.8 L875.9,825.4 L879.6,826.6 L883.5,825.4 L887.3,831.5 L891.5,832.2 L895.3,834.5 L897.9,832.4 L900.7,831.2 L902.2,836.5 L902.9,842.0 L903.6,842.1 L904.8,848.2 L906.0,848.9 L906.3,855.9 L906.6,857.1 L907.3,862.5 L908.0,863.2 L909.4,865.7 L911.6,870.2 L913.6,877.6 L915.2,878.0 L916.8,881.0 L918.8,888.3 L920.8,892.0 L923.1,888.2 L925.0,898.5 L926.1,898.9 L927.1,903.1 L928.5,902.5 L929.7,910.5 L931.7,915.6 L933.4,919.5 L934.2,918.5 L935.6,927.9 L937.4,924.5 L939.0,930.0 L941.2,935.1 L943.2,942.9 L944.7,947.1 L947.2,947.2 L950.3,949.3 L954.0,957.9 L957.7,957.3 L961.5,953.3 L965.4,953.0 L965.4,953.0" fill="none" stroke="#9444e6" stroke-width="1.45" stroke-linejoin="round"/>
<path d="M647.0,719.7 L650.8,699.6 L655.5,684.1 L661.6,696.5 L667.8,713.5 L674.0,738.2 L678.7,758.3 L681.8,735.1 L686.4,725.9 L692.6,747.5 L698.8,736.7 L705.0,733.6 L717.3,747.5 L724.3,744.4 L725.0,715.0 L729.7,695.0 L735.9,705.8 L745.1,696.5 L754.4,691.9 L762.2,695.0 L765.3,722.8 L766.8,753.7 L773.0,747.5 L779.2,766.0 L783.8,784.6 L788.4,798.5 L797.4,805.7 L804.7,832.7 L814.6,840.0 L834.2,869.5 L856.3,874.4 L866.2,872.0 L873.5,859.7 L883.4,857.2 L893.2,881.8 L905.5,891.6 L917.8,911.3 L930.0,916.2 L940.0,930.0 L950.0,948.0 L958.0,955.0" fill="none" stroke="#9444e6" stroke-width="1.45" stroke-linejoin="round"/>
<path d="M647.7,676.4 L658.6,688.8 L670.9,707.3 L680.2,688.8 L686.4,699.6 L695.7,722.8 L701.9,710.4 L708.0,696.5 L717.3,710.4 L723.5,695.0 L732.8,673.3 L740.0,678.0 L748.2,684.1 L757.5,695.0 L763.7,719.7 L768.3,721.2 L774.5,713.5 L783.8,716.6 L790.0,707.3 L794.6,722.8 L797.7,753.7 L803.9,769.2 L810.0,784.6 L818.0,800.0 L826.0,818.0 L839.1,852.3 L851.4,827.8 L861.3,835.1 L863.7,869.5 L875.0,880.0 L890.0,895.0 L905.0,900.0 L920.0,905.0 L935.0,915.0 L948.0,945.0" fill="none" stroke="#9444e6" stroke-width="1.45" stroke-linejoin="round"/>
<path d="M676.0,672.0 L684.8,642.4 L691.0,653.2 L698.8,667.1 L706.5,670.2 L714.0,665.0 L722.0,660.0" fill="none" stroke="#9444e6" stroke-width="1.45" stroke-linejoin="round"/>
<path d="M776.0,650.0 L785.4,645.5 L794.6,660.9 L802.4,676.4 L810.0,696.5 L817.8,716.6 L824.0,735.0 L831.8,736.9 L849.0,736.9 L863.7,749.1 L873.5,768.8 L890.7,790.9 L910.4,793.4 L917.8,810.6 L927.6,837.6 L937.4,852.3 L944.8,886.7 L952.2,921.1 L962.0,953.1" fill="none" stroke="#9444e6" stroke-width="1.45" stroke-linejoin="round"/>
<path d="M800.0,690.0 L808.0,715.0 L815.0,740.0 L822.0,760.0 L830.0,790.0 L840.0,805.0 L852.0,812.0 L862.0,808.0 L875.0,830.0 L888.0,850.0 L900.0,860.0 L912.0,870.0 L925.0,885.0 L940.0,915.0 L955.0,952.0" fill="none" stroke="#9444e6" stroke-width="1.45" stroke-linejoin="round"/>
</g>
<path d="M648.5,646.7 L654.7,642.0 L661.0,651.4 L668.8,665.5 L676.6,679.5 L686.0,665.5 L693.8,674.8 L703.1,677.9 L712.5,674.8 L720.3,677.9 L726.5,662.3 L732.8,645.2 L748.4,643.6 L757.8,651.4 L767.1,662.3 L779.6,668.6 L789.0,674.8 L796.8,685.7 L804.6,706.0 L814.0,731.0 L820.2,752.8 L826.4,771.6 L835.8,776.3 L845.2,771.6 L854.5,780.9 L863.9,790.3 L873.3,809.0 L885.8,818.4 L898.3,824.6 L907.6,827.7 L917.0,843.4 L923.2,862.1 L932.6,877.7 L938.8,893.3 L945.1,924.5 L951.3,946.4 L959.1,955.7 L965.4,952.6" fill="none" stroke="#5a2896" stroke-width="6.3" stroke-linejoin="round" stroke-linecap="round"/>
<clipPath id="clf"><rect x="1139.9" y="628.2" width="321.8" height="342.5"/></clipPath>
<g clip-path="url(#clf)">
<path d="M1140.1,956.5 L1143.0,953.8 L1146.2,951.2 L1148.8,947.7 L1152.9,947.1 L1157.0,947.0 L1161.0,947.1 L1165.1,947.4 L1169.1,947.2 L1173.1,947.4 L1177.1,947.5 L1181.1,947.6 L1185.1,947.6 L1189.1,947.0 L1193.1,947.2 L1197.1,947.0 L1201.1,947.0 L1205.1,947.2 L1209.1,947.5 L1213.2,947.2 L1217.2,947.0 L1221.2,947.4 L1225.2,947.7 L1229.2,947.8 L1233.2,947.6 L1237.2,947.4 L1241.2,947.7 L1243.3,945.1 L1244.3,941.2 L1245.8,924.5 L1246.5,914.1 L1246.7,907.2 L1247.1,900.3 L1247.6,893.3 L1247.5,886.3 L1248.0,879.1 L1250.5,870.7 L1254.5,869.5 L1258.5,869.2 L1262.5,869.4 L1266.6,869.3 L1270.6,869.8 L1274.6,869.5 L1278.6,869.7 L1282.6,869.6 L1286.6,869.5 L1290.6,869.7 L1294.6,869.6 L1298.6,869.6 L1302.6,869.7 L1306.7,870.0 L1310.7,870.0 L1314.7,869.6 L1318.7,869.9 L1322.7,869.9 L1326.7,870.0 L1330.7,869.9 L1334.7,869.5 L1338.7,869.7 L1342.7,869.5 L1346.7,869.7 L1349.4,867.4 L1351.7,864.8 L1353.7,864.2 L1356.1,863.9 L1359.7,863.6 L1364.7,868.1 L1367.8,873.2 L1368.6,876.5 L1368.5,876.9 L1369.9,876.9 L1370.3,875.4 L1370.8,873.4 L1371.5,870.6 L1372.2,867.9 L1372.8,865.1 L1373.5,862.2 L1374.1,859.2 L1375.1,856.6 L1376.7,853.8 L1377.3,849.8 L1378.6,845.6 L1380.1,841.4 L1382.0,837.3 L1383.4,833.5 L1385.9,830.2 L1387.9,826.5 L1390.2,822.7 L1392.4,818.8 L1397.1,813.4 L1404.6,809.6 L1412.7,811.9 L1417.2,814.4 L1420.7,817.1 L1423.5,818.6 L1420.4,820.6 L1415.4,822.5 L1416.1,821.0 L1416.4,817.0 L1417.4,813.0 L1418.2,809.1 L1419.6,805.3 L1420.3,801.5 L1420.9,797.7 L1421.9,793.8 L1421.8,789.8 L1422.3,785.8 L1422.7,781.8 L1423.1,777.8 L1423.8,773.8 L1423.9,769.8 L1424.7,765.8 L1425.3,761.8 L1425.7,757.8 L1425.6,753.8 L1425.8,749.8 L1426.4,745.8 L1426.9,741.8 L1426.9,737.8 L1427.1,733.8 L1427.1,729.8 L1427.4,725.8 L1427.4,721.8 L1428.0,717.8 L1427.9,713.8 L1427.7,709.7 L1428.5,705.8 L1428.0,701.7 L1428.7,697.7 L1429.0,693.7 L1429.4,689.7 L1429.6,685.7 L1429.4,681.7 L1429.7,677.7 L1430.0,673.7 L1429.7,669.7 L1429.9,665.7 L1430.7,661.7 L1430.6,657.6 L1430.6,653.3 L1432.7,649.7 L1435.3,646.5 L1437.6,642.5 L1440.7,643.1 L1443.4,646.6 L1445.8,649.9 L1446.8,653.8 L1448.5,657.5 L1450.4,661.1 L1451.6,664.9 L1452.3,668.9 L1453.1,672.8 L1454.0,676.7 L1455.0,680.6 L1456.1,684.5 L1456.3,688.5 L1457.1,692.4 L1457.6,696.4 L1457.9,700.4 L1458.5,704.4 L1459.5,708.3 L1460.3,712.3 L1460.6,716.3 L1460.4,720.3 L1461.4,724.3 L1461.6,728.3 L1461.8,732.3 L1462.4,736.3 L1463.1,740.3 L1463.1,740.3" fill="none" stroke="#e6cf3c" stroke-width="1.45" stroke-linejoin="round"/>
<path d="M1140.1,956.5 L1143.1,953.8 L1146.2,951.2 L1148.9,947.9 L1152.9,947.4 L1157.1,947.6 L1161.0,947.1 L1165.0,946.9 L1169.1,946.8 L1173.1,947.3 L1177.1,947.5 L1181.1,947.7 L1185.1,947.1 L1189.1,947.0 L1193.1,946.9 L1197.1,947.1 L1201.1,946.8 L1205.1,947.0 L1209.1,947.6 L1213.2,947.2 L1217.2,947.1 L1221.2,947.7 L1225.2,947.1 L1229.2,947.0 L1233.2,947.4 L1237.2,947.2 L1241.0,947.4 L1242.8,944.7 L1244.0,941.1 L1245.7,932.0 L1246.7,925.5 L1246.5,920.3 L1246.6,915.0 L1246.8,909.7 L1247.3,904.5 L1247.7,898.9 L1250.4,894.0 L1254.4,892.6 L1258.5,892.9 L1262.5,893.1 L1266.6,893.2 L1270.6,892.7 L1274.6,893.0 L1278.6,893.0 L1282.6,892.6 L1286.6,893.0 L1290.6,892.5 L1294.6,892.1 L1298.6,892.2 L1302.6,892.2 L1306.7,892.1 L1310.7,892.1 L1314.7,892.0 L1318.7,891.7 L1322.7,892.1 L1326.7,892.0 L1330.7,892.5 L1334.7,892.6 L1338.7,892.3 L1342.7,892.5 L1346.5,892.6 L1349.2,890.6 L1351.5,887.8 L1353.9,885.8 L1356.8,884.1 L1360.1,882.4 L1364.4,885.1 L1368.0,887.8 L1370.0,888.9 L1371.5,887.3 L1373.3,885.3 L1375.0,882.8 L1375.5,879.5 L1376.2,876.1 L1377.0,872.7 L1378.1,869.3 L1378.4,865.7 L1379.1,862.2 L1380.7,859.0 L1381.5,855.4 L1382.5,851.5 L1383.9,847.6 L1385.0,843.5 L1386.6,839.6 L1388.0,835.7 L1389.9,832.2 L1392.5,828.9 L1394.8,825.4 L1397.5,822.1 L1400.5,817.7 L1405.1,814.9 L1410.3,817.8 L1414.0,820.1 L1417.6,822.2 L1420.5,824.7 L1422.2,827.0 L1422.2,825.3 L1423.0,821.8 L1423.9,817.8 L1424.7,813.9 L1425.2,809.9 L1426.0,806.0 L1426.4,802.0 L1426.4,798.0 L1426.7,794.0 L1426.7,790.0 L1426.4,785.9 L1426.7,781.9 L1427.4,777.9 L1427.0,773.9 L1427.0,769.9 L1427.1,765.9 L1426.7,761.9 L1427.2,757.9 L1427.5,753.9 L1427.2,749.9 L1427.2,745.8 L1427.6,741.8 L1427.9,737.8 L1427.5,733.8 L1427.7,729.8 L1427.6,725.8 L1427.9,721.8 L1427.7,717.8 L1428.1,713.8 L1428.0,709.8 L1427.8,705.7 L1427.9,701.7 L1428.4,697.7 L1428.0,693.7 L1428.3,689.7 L1427.9,685.7 L1427.7,681.7 L1427.6,677.6 L1427.5,673.6 L1427.3,669.6 L1427.4,665.6 L1426.8,661.6 L1427.0,657.3 L1427.0,652.4 L1429.0,647.9 L1431.3,643.8 L1435.6,638.3 L1442.6,639.1 L1447.2,643.9 L1450.1,647.4 L1451.4,651.8 L1453.1,655.6 L1454.3,659.6 L1455.8,663.5 L1456.9,667.6 L1457.5,671.7 L1457.8,675.8 L1458.9,679.8 L1459.5,683.9 L1460.2,688.0 L1460.5,692.0 L1460.4,696.1 L1460.7,700.1 L1461.0,704.1 L1461.5,708.1 L1461.2,712.2 L1461.2,716.3 L1461.7,720.3 L1462.1,724.3 L1461.9,728.3 L1462.2,732.3 L1462.7,736.3 L1463.0,740.3 L1463.0,740.3" fill="none" stroke="#e6cf3c" stroke-width="1.45" stroke-linejoin="round"/>
<path d="M1140.6,957.0 L1143.7,954.5 L1146.2,951.2 L1149.1,948.3 L1152.9,947.0 L1157.0,946.6 L1161.0,946.3 L1165.0,946.3 L1169.0,946.0 L1173.0,945.9 L1177.0,945.7 L1181.1,946.0 L1185.1,945.9 L1189.1,945.6 L1193.1,945.6 L1197.2,945.5 L1201.2,945.5 L1205.2,945.9 L1209.2,945.9 L1213.2,946.6 L1217.2,947.2 L1221.2,947.5 L1225.2,947.6 L1229.2,948.5 L1233.2,948.6 L1237.2,948.4 L1241.7,948.8 L1244.5,946.1 L1246.4,942.1 L1247.4,936.0 L1248.0,931.0 L1248.7,926.5 L1248.6,922.0 L1248.7,917.5 L1249.0,913.1 L1249.2,908.9 L1251.0,905.8 L1254.6,904.7 L1258.6,904.9 L1262.5,904.3 L1266.6,904.1 L1270.6,904.0 L1274.6,904.3 L1278.6,904.0 L1282.6,904.2 L1286.6,904.0 L1290.6,903.9 L1294.6,903.8 L1298.6,903.7 L1302.6,903.4 L1306.7,903.4 L1310.7,903.4 L1314.7,903.6 L1318.7,903.0 L1322.7,903.5 L1326.7,903.1 L1330.7,903.2 L1334.7,903.2 L1338.7,903.0 L1342.7,902.7 L1346.3,902.8 L1348.5,900.5 L1350.2,897.4 L1352.7,894.6 L1355.9,892.0 L1359.7,888.9 L1364.7,889.4 L1367.9,891.5 L1368.8,891.5 L1369.3,889.7 L1371.1,887.3 L1372.2,884.4 L1372.7,881.2 L1373.2,877.3 L1374.1,873.6 L1374.6,869.8 L1375.2,865.8 L1376.2,862.0 L1377.6,858.3 L1378.5,854.4 L1379.5,850.5 L1380.6,846.4 L1381.8,842.1 L1383.2,837.9 L1384.2,833.8 L1386.6,830.6 L1388.9,827.0 L1391.3,823.3 L1393.6,819.6 L1398.0,814.5 L1404.7,811.0 L1412.0,813.6 L1416.2,816.3 L1419.8,818.6 L1422.4,820.8 L1421.2,823.2 L1418.8,823.9 L1419.5,821.4 L1420.0,817.4 L1421.2,813.5 L1421.6,809.5 L1423.0,805.7 L1423.0,801.7 L1423.6,797.8 L1424.3,793.9 L1424.5,789.9 L1424.3,785.9 L1424.5,781.9 L1424.9,777.9 L1424.6,773.8 L1424.5,769.8 L1425.2,765.8 L1425.5,761.8 L1425.6,757.8 L1425.8,753.8 L1426.6,749.8 L1426.6,745.8 L1426.9,741.8 L1427.0,737.8 L1427.7,733.8 L1428.1,729.8 L1428.7,725.8 L1428.9,721.8 L1429.8,717.8 L1430.4,713.9 L1430.8,709.9 L1431.5,705.9 L1431.6,701.9 L1432.0,697.9 L1432.0,693.9 L1432.5,689.9 L1432.4,685.8 L1433.1,681.9 L1433.4,677.9 L1433.2,673.8 L1433.3,669.8 L1433.2,665.8 L1433.1,661.8 L1433.1,657.8 L1433.6,654.2 L1435.6,651.1 L1437.2,647.7 L1438.7,645.0 L1439.7,645.2 L1441.5,647.9 L1443.7,651.1 L1445.5,654.4 L1447.2,658.0 L1448.7,661.7 L1449.9,665.5 L1451.3,669.2 L1452.1,673.1 L1453.1,677.0 L1454.5,680.7 L1455.2,684.6 L1456.1,688.5 L1456.8,692.5 L1457.5,696.4 L1458.0,700.4 L1458.4,704.4 L1459.2,708.3 L1459.9,712.3 L1460.2,716.3 L1460.2,720.4 L1460.6,724.3 L1460.5,728.4 L1460.7,732.4 L1460.7,736.4 L1460.8,740.4 L1460.8,740.4" fill="none" stroke="#e6cf3c" stroke-width="1.45" stroke-linejoin="round"/>
<path d="M1140.1,956.5 L1142.7,953.5 L1145.8,950.8 L1148.7,947.5 L1152.7,946.2 L1157.0,946.2 L1161.0,946.5 L1165.0,946.0 L1169.0,946.2 L1173.0,946.2 L1177.1,946.3 L1181.1,946.5 L1185.1,946.2 L1189.1,946.6 L1193.1,946.9 L1197.1,947.0 L1201.1,947.4 L1205.1,947.7 L1209.1,948.3 L1213.1,948.0 L1217.1,948.3 L1221.1,949.0 L1225.1,949.1 L1229.1,949.1 L1233.1,949.6 L1237.3,949.5 L1241.8,949.2 L1244.5,946.1 L1246.4,942.1 L1248.0,940.2 L1248.3,937.1 L1248.5,933.4 L1248.2,929.9 L1248.4,926.3 L1248.3,922.7 L1248.6,919.2 L1250.8,917.9 L1254.5,916.8 L1258.5,916.3 L1262.5,916.3 L1266.6,916.3 L1270.6,916.6 L1274.6,916.7 L1278.6,916.3 L1282.6,916.2 L1286.6,916.5 L1290.6,916.5 L1294.6,916.9 L1298.6,916.4 L1302.6,916.3 L1306.7,916.6 L1310.7,916.5 L1314.7,916.3 L1318.7,916.1 L1322.7,916.5 L1326.7,916.5 L1330.7,916.8 L1334.7,916.3 L1338.7,916.1 L1342.7,916.3 L1346.6,916.3 L1349.5,914.3 L1351.9,911.3 L1354.6,907.8 L1357.9,904.8 L1360.6,901.3 L1364.2,901.7 L1368.1,903.0 L1371.7,901.6 L1374.9,897.9 L1377.4,894.0 L1379.1,889.9 L1380.6,885.8 L1381.7,881.7 L1382.5,877.6 L1383.5,873.5 L1384.9,869.7 L1386.0,865.7 L1387.7,861.9 L1388.5,857.8 L1390.2,854.1 L1391.7,850.5 L1393.2,847.0 L1394.2,843.3 L1396.4,839.9 L1398.4,836.4 L1400.2,832.9 L1401.9,829.5 L1403.7,826.1 L1405.2,823.7 L1405.8,821.6 L1408.1,823.2 L1411.3,824.9 L1414.8,826.8 L1418.5,828.8 L1423.5,831.2 L1426.1,826.9 L1426.5,822.2 L1426.2,818.1 L1426.5,814.1 L1426.8,810.1 L1427.1,806.1 L1427.5,802.1 L1428.0,798.0 L1427.5,794.0 L1427.9,790.0 L1428.2,786.0 L1428.5,782.0 L1428.7,778.0 L1428.8,774.0 L1429.1,770.0 L1429.5,766.0 L1429.2,762.0 L1429.4,758.0 L1429.2,753.9 L1429.4,749.9 L1429.0,745.9 L1429.6,741.9 L1429.9,737.9 L1429.8,733.9 L1429.2,729.9 L1429.1,725.8 L1429.4,721.8 L1429.7,717.8 L1429.4,713.8 L1429.5,709.8 L1429.7,705.8 L1429.8,701.8 L1430.0,697.8 L1429.7,693.8 L1429.7,689.8 L1430.6,685.8 L1430.5,681.8 L1430.6,677.8 L1431.2,673.8 L1431.2,669.7 L1431.3,665.7 L1431.8,661.7 L1432.0,657.7 L1432.1,653.8 L1433.4,650.0 L1435.6,646.6 L1438.0,643.4 L1440.4,643.7 L1442.9,646.9 L1445.9,649.8 L1447.5,653.5 L1449.0,657.3 L1450.8,660.9 L1452.7,664.6 L1453.5,668.6 L1454.4,672.5 L1455.6,676.4 L1456.7,680.2 L1457.9,684.2 L1458.6,688.2 L1459.1,692.2 L1459.7,696.2 L1460.1,700.2 L1460.7,704.1 L1460.9,708.2 L1461.4,712.2 L1461.6,716.3 L1461.3,720.3 L1461.8,724.3 L1462.1,728.3 L1461.5,732.3 L1461.6,736.3 L1461.5,740.4 L1461.5,740.4" fill="none" stroke="#e6cf3c" stroke-width="1.45" stroke-linejoin="round"/>
<path d="M1140.7,957.1 L1143.6,954.3 L1146.5,951.6 L1149.3,948.6 L1152.9,947.3 L1157.0,947.5 L1161.1,947.3 L1165.1,947.4 L1169.1,947.2 L1173.1,947.0 L1177.1,946.5 L1181.1,946.3 L1185.1,946.4 L1189.1,946.1 L1193.1,946.4 L1197.1,946.2 L1201.1,946.4 L1205.2,946.2 L1209.2,946.1 L1213.2,946.3 L1217.2,947.2 L1221.2,947.0 L1225.2,947.4 L1229.2,947.9 L1233.2,947.9 L1237.2,948.2 L1241.2,947.9 L1243.5,945.3 L1245.5,941.7 L1247.4,942.6 L1247.7,940.8 L1247.7,937.7 L1248.1,934.8 L1248.4,931.8 L1248.5,928.8 L1248.7,925.9 L1250.9,925.9 L1254.6,924.9 L1258.5,924.6 L1262.5,924.6 L1266.6,924.4 L1270.6,924.6 L1274.6,924.8 L1278.6,924.8 L1282.6,924.5 L1286.6,924.3 L1290.6,924.8 L1294.6,924.4 L1298.6,924.3 L1302.6,924.2 L1306.7,924.9 L1310.7,924.4 L1314.7,924.6 L1318.7,924.7 L1322.7,924.9 L1326.7,924.3 L1330.7,924.2 L1334.7,924.1 L1338.7,924.5 L1342.7,924.5 L1346.6,924.0 L1349.6,922.3 L1352.5,919.4 L1354.9,915.2 L1358.2,911.8 L1360.8,908.0 L1364.1,907.5 L1368.1,907.7 L1372.4,905.9 L1375.9,901.4 L1378.9,897.0 L1381.4,892.7 L1382.3,887.9 L1383.6,883.6 L1385.1,879.5 L1386.4,875.2 L1387.4,871.0 L1388.7,867.0 L1390.1,862.8 L1391.7,858.9 L1392.5,854.9 L1393.6,851.3 L1395.2,847.9 L1396.6,844.4 L1398.3,840.9 L1399.6,837.0 L1400.8,833.3 L1402.4,829.8 L1404.1,826.4 L1405.1,823.6 L1405.9,822.2 L1408.2,822.9 L1412.0,823.8 L1415.5,825.6 L1418.9,827.9 L1423.1,829.8 L1423.9,826.0 L1424.2,821.9 L1424.1,817.9 L1424.6,813.9 L1425.0,809.9 L1424.9,805.9 L1425.1,801.9 L1425.6,797.9 L1426.2,794.0 L1426.1,789.9 L1425.9,785.9 L1426.2,781.9 L1426.6,777.9 L1426.3,773.9 L1426.9,769.9 L1427.0,765.9 L1426.9,761.9 L1426.8,757.9 L1427.4,753.9 L1427.2,749.9 L1426.9,745.8 L1426.8,741.8 L1426.9,737.8 L1427.3,733.8 L1427.1,729.8 L1427.1,725.8 L1427.8,721.8 L1428.1,717.8 L1428.0,713.8 L1427.8,709.8 L1428.4,705.8 L1428.8,701.8 L1429.9,697.8 L1430.4,693.8 L1431.1,689.8 L1431.4,685.8 L1431.6,681.8 L1432.6,677.8 L1433.3,673.8 L1433.5,669.8 L1434.5,665.9 L1434.8,661.9 L1435.5,658.1 L1435.9,654.8 L1438.3,652.4 L1440.3,649.8 L1440.0,647.8 L1438.0,648.7 L1438.7,649.9 L1441.1,652.5 L1442.2,655.9 L1443.8,659.4 L1445.3,663.0 L1447.1,666.4 L1448.4,670.0 L1449.1,673.8 L1450.5,677.6 L1451.4,681.4 L1452.7,685.1 L1453.4,688.9 L1453.6,692.9 L1454.4,696.8 L1455.1,700.8 L1455.8,704.7 L1455.8,708.7 L1456.0,712.6 L1456.0,716.5 L1456.6,720.5 L1456.4,724.5 L1456.6,728.6 L1456.5,732.6 L1456.4,736.6 L1457.2,740.6 L1457.2,740.6" fill="none" stroke="#e6cf3c" stroke-width="1.45" stroke-linejoin="round"/>
<path d="M1141.1,957.5 L1144.0,954.7 L1146.9,952.0 L1149.6,949.1 L1153.0,947.6 L1157.1,947.9 L1161.1,947.4 L1165.1,947.1 L1169.1,946.9 L1173.1,947.0 L1177.1,946.8 L1181.1,946.2 L1185.1,946.1 L1189.1,946.3 L1193.1,946.3 L1197.1,946.4 L1201.2,946.1 L1205.2,946.1 L1209.2,946.5 L1213.2,946.8 L1217.2,947.2 L1221.2,947.5 L1225.2,947.1 L1229.2,947.5 L1233.2,947.3 L1237.2,947.6 L1241.2,947.9 L1243.5,945.2 L1244.9,941.5 L1246.9,944.0 L1247.3,943.0 L1247.5,940.4 L1247.6,937.7 L1248.1,935.1 L1248.6,932.5 L1248.7,929.9 L1250.7,930.3 L1254.6,929.7 L1258.5,929.3 L1262.5,929.8 L1266.6,929.7 L1270.6,929.9 L1274.6,929.6 L1278.6,929.9 L1282.6,930.1 L1286.6,930.0 L1290.6,929.8 L1294.6,929.9 L1298.6,929.5 L1302.6,929.4 L1306.7,930.0 L1310.7,929.9 L1314.7,930.0 L1318.7,929.8 L1322.7,930.2 L1326.7,930.0 L1330.7,930.1 L1334.7,930.0 L1338.7,930.3 L1342.8,930.1 L1347.1,930.2 L1350.4,928.1 L1353.3,924.8 L1356.0,920.4 L1358.9,916.4 L1361.2,913.0 L1364.0,911.9 L1368.2,911.2 L1372.8,908.7 L1376.0,903.1 L1378.4,898.1 L1380.3,893.4 L1381.6,888.7 L1382.4,884.2 L1384.1,879.9 L1385.1,875.5 L1385.8,871.1 L1386.8,866.7 L1388.5,862.4 L1389.8,858.2 L1391.1,854.4 L1392.2,850.7 L1394.0,847.4 L1395.2,843.7 L1397.4,840.4 L1399.2,836.8 L1400.9,833.3 L1402.8,830.0 L1404.9,826.9 L1406.3,825.1 L1406.0,823.8 L1407.3,825.1 L1410.2,827.0 L1413.3,829.2 L1417.0,831.8 L1424.4,834.6 L1428.7,827.9 L1429.0,822.5 L1429.7,818.5 L1429.9,814.5 L1430.1,810.5 L1430.5,806.4 L1430.3,802.3 L1430.9,798.2 L1430.6,794.1 L1430.3,790.1 L1431.0,786.1 L1430.8,782.1 L1431.2,778.1 L1431.2,774.1 L1431.0,770.1 L1431.5,766.1 L1431.5,762.1 L1431.7,758.1 L1431.9,754.0 L1431.7,750.0 L1431.6,746.0 L1432.0,742.0 L1431.6,738.0 L1432.3,734.0 L1432.5,730.0 L1432.4,726.0 L1432.3,722.0 L1432.5,717.9 L1432.4,713.9 L1432.1,709.9 L1432.4,705.9 L1432.6,701.9 L1432.5,697.9 L1432.9,693.9 L1433.2,689.9 L1432.9,685.9 L1432.7,681.8 L1433.3,677.8 L1433.0,673.8 L1433.5,669.8 L1433.7,665.8 L1433.6,661.8 L1433.9,657.9 L1433.5,654.1 L1435.0,650.8 L1437.5,647.9 L1438.8,645.2 L1439.6,645.4 L1441.3,648.0 L1443.8,651.0 L1445.3,654.5 L1446.4,658.3 L1447.8,662.0 L1449.4,665.7 L1450.6,669.4 L1451.3,673.3 L1452.6,677.1 L1453.4,681.0 L1454.2,684.8 L1454.9,688.7 L1455.0,692.7 L1455.5,696.7 L1456.3,700.6 L1457.1,704.6 L1457.2,708.5 L1457.3,712.5 L1457.8,716.4 L1458.1,720.5 L1458.3,724.5 L1458.7,728.5 L1459.3,732.4 L1459.0,736.5 L1459.1,740.5 L1459.1,740.5" fill="none" stroke="#e6cf3c" stroke-width="1.45" stroke-linejoin="round"/>
<path d="M1141.7,958.1 L1145.0,955.7 L1147.7,952.8 L1149.9,949.6 L1153.3,949.0 L1157.1,948.9 L1161.1,948.4 L1165.1,948.3 L1169.1,948.0 L1173.1,947.8 L1177.1,947.2 L1181.1,946.7 L1185.1,946.4 L1189.1,946.4 L1193.1,946.5 L1197.1,946.7 L1201.1,946.4 L1205.2,946.3 L1209.2,946.8 L1213.2,946.9 L1217.2,947.3 L1221.2,947.7 L1225.2,947.5 L1229.2,947.7 L1233.2,948.3 L1237.2,948.0 L1241.6,948.7 L1244.0,945.7 L1245.5,941.7 L1247.3,938.5 L1248.2,934.8 L1248.3,930.8 L1248.3,926.9 L1248.4,923.0 L1248.8,919.1 L1249.2,915.5 L1250.8,913.2 L1254.5,912.1 L1258.5,912.0 L1262.5,911.8 L1266.6,912.0 L1270.6,912.3 L1274.6,911.8 L1278.6,911.8 L1282.6,912.0 L1286.6,911.9 L1290.6,912.1 L1294.6,912.2 L1298.6,912.4 L1302.6,912.6 L1306.7,912.6 L1310.7,912.6 L1314.7,912.8 L1318.7,912.5 L1322.7,912.6 L1326.7,912.8 L1330.7,912.3 L1334.7,912.3 L1338.7,912.5 L1342.8,912.6 L1347.0,912.6 L1350.1,910.5 L1352.2,906.9 L1354.5,903.4 L1357.7,900.7 L1360.4,897.4 L1364.3,897.9 L1368.0,898.5 L1370.5,897.6 L1372.1,894.4 L1374.2,891.1 L1375.5,887.5 L1377.1,883.9 L1378.4,880.0 L1379.4,876.1 L1380.3,872.2 L1381.6,868.3 L1383.2,864.6 L1384.7,860.8 L1385.9,856.9 L1387.9,853.4 L1389.5,849.7 L1391.3,846.2 L1393.3,842.8 L1395.7,839.5 L1398.0,836.2 L1400.3,833.0 L1402.2,829.7 L1404.5,826.6 L1406.2,825.0 L1406.2,824.8 L1406.7,826.6 L1409.3,828.5 L1412.5,830.4 L1416.4,833.1 L1425.0,836.5 L1430.9,828.8 L1431.9,822.8 L1431.7,818.8 L1432.1,814.8 L1432.8,810.8 L1433.2,806.7 L1432.6,802.4 L1432.3,798.2 L1432.4,794.2 L1433.0,790.2 L1433.1,786.2 L1433.2,782.2 L1433.3,778.2 L1433.8,774.2 L1433.5,770.2 L1434.4,766.2 L1434.4,762.2 L1434.5,758.2 L1434.5,754.1 L1434.5,750.1 L1434.6,746.1 L1434.6,742.1 L1434.9,738.1 L1434.6,734.1 L1435.3,730.1 L1435.0,726.1 L1435.1,722.1 L1435.6,718.1 L1435.4,714.0 L1435.8,710.0 L1435.5,706.0 L1435.9,702.0 L1436.4,698.0 L1436.6,694.0 L1436.7,690.0 L1436.7,686.0 L1436.8,682.0 L1437.3,678.0 L1437.3,674.0 L1437.0,670.0 L1436.9,665.9 L1437.4,661.9 L1437.3,658.2 L1436.8,655.0 L1438.0,652.3 L1439.9,649.5 L1439.7,647.1 L1438.6,647.5 L1439.8,649.1 L1442.3,651.8 L1443.6,655.3 L1445.8,658.6 L1447.6,662.1 L1449.2,665.7 L1450.5,669.4 L1452.0,673.1 L1453.3,676.9 L1454.1,680.8 L1455.2,684.6 L1455.7,688.6 L1456.1,692.6 L1457.1,696.5 L1457.4,700.5 L1457.9,704.5 L1458.4,708.4 L1458.5,712.4 L1458.4,716.4 L1458.5,720.4 L1458.3,724.5 L1459.0,728.4 L1459.3,732.4 L1459.4,736.4 L1459.1,740.5 L1459.1,740.5" fill="none" stroke="#e6cf3c" stroke-width="1.45" stroke-linejoin="round"/>
<path d="M1142.0,958.4 L1144.4,955.1 L1147.4,952.6 L1149.7,949.3 L1153.2,948.3 L1157.1,948.1 L1161.1,948.2 L1165.1,947.6 L1169.1,947.6 L1173.1,947.1 L1177.1,946.7 L1181.1,946.6 L1185.1,946.3 L1189.1,946.5 L1193.1,945.9 L1197.1,946.3 L1201.1,946.2 L1205.2,946.5 L1209.1,947.0 L1213.2,946.8 L1217.2,946.9 L1221.2,947.1 L1225.2,947.3 L1229.2,947.8 L1233.2,948.2 L1237.2,948.4 L1241.6,948.8 L1244.5,946.1 L1246.5,942.1 L1248.2,941.3 L1248.8,938.8 L1249.2,935.3 L1249.4,932.0 L1249.5,928.7 L1249.7,925.4 L1249.4,922.4 L1251.0,921.6 L1254.7,921.0 L1258.6,920.8 L1262.5,920.5 L1266.6,920.9 L1270.6,920.3 L1274.6,919.9 L1278.6,919.8 L1282.6,919.5 L1286.6,919.3 L1290.6,919.3 L1294.6,919.3 L1298.6,919.0 L1302.6,919.3 L1306.7,919.6 L1310.7,919.2 L1314.7,919.4 L1318.7,919.5 L1322.7,919.7 L1326.7,919.6 L1330.7,919.7 L1334.7,920.2 L1338.7,920.1 L1342.8,920.9 L1346.8,920.3 L1350.2,918.6 L1352.8,915.2 L1355.6,911.7 L1358.7,908.6 L1361.0,905.2 L1364.0,905.4 L1368.1,905.3 L1372.0,903.4 L1375.2,899.3 L1377.5,895.0 L1379.0,890.7 L1380.0,886.3 L1380.6,882.1 L1381.4,877.8 L1382.7,873.8 L1383.8,869.6 L1384.6,865.5 L1386.0,861.4 L1387.9,857.6 L1389.5,853.9 L1390.5,850.1 L1392.6,846.8 L1394.6,843.5 L1396.5,840.0 L1398.7,836.6 L1401.0,833.4 L1402.9,830.1 L1405.7,827.4 L1406.8,825.8 L1406.3,825.8 L1406.2,827.8 L1408.5,829.9 L1411.2,832.5 L1415.2,835.6 L1425.5,838.2 L1432.8,829.6 L1434.0,823.1 L1433.7,819.0 L1433.8,815.0 L1433.6,810.9 L1433.5,806.7 L1433.7,802.5 L1433.1,798.3 L1432.9,794.2 L1432.7,790.2 L1432.8,786.2 L1433.1,782.2 L1433.2,778.2 L1432.7,774.1 L1432.7,770.1 L1433.0,766.1 L1433.3,762.1 L1433.2,758.1 L1433.9,754.1 L1434.0,750.1 L1434.3,746.1 L1434.8,742.1 L1434.8,738.1 L1435.0,734.1 L1435.1,730.1 L1435.3,726.1 L1435.7,722.1 L1436.1,718.1 L1436.2,714.1 L1436.4,710.1 L1437.0,706.1 L1437.4,702.1 L1437.0,698.0 L1437.4,694.0 L1437.0,690.0 L1437.4,686.0 L1437.4,682.0 L1437.5,678.0 L1437.2,674.0 L1437.2,670.0 L1437.5,666.0 L1437.6,662.0 L1437.9,658.3 L1437.5,655.2 L1438.4,652.4 L1440.3,649.8 L1440.0,647.8 L1438.2,648.3 L1438.7,649.9 L1440.9,652.6 L1442.4,655.8 L1444.2,659.2 L1445.7,662.9 L1447.1,666.4 L1448.3,670.0 L1449.1,673.8 L1450.0,677.7 L1451.3,681.5 L1452.1,685.2 L1452.3,689.1 L1452.9,693.0 L1453.9,696.9 L1454.5,700.9 L1454.5,704.9 L1455.1,708.7 L1455.5,712.6 L1455.9,716.5 L1456.6,720.5 L1456.8,724.5 L1457.1,728.5 L1457.6,732.5 L1457.8,736.5 L1458.2,740.5 L1458.2,740.5" fill="none" stroke="#e6cf3c" stroke-width="1.45" stroke-linejoin="round"/>
<path d="M1370.0,890.0 L1375.0,876.2 L1384.1,810.2 L1390.0,759.1 L1396.1,732.1 L1402.1,717.1 L1409.6,717.1 L1417.1,732.1 L1423.1,738.1 L1427.0,730.0 L1429.5,690.0 L1432.0,655.0 L1438.0,643.0" fill="none" stroke="#e6cf3c" stroke-width="1.45" stroke-linejoin="round"/>
<path d="M1378.0,880.0 L1381.0,846.2 L1387.1,774.1 L1393.1,759.1 L1399.1,774.1 L1408.1,756.1 L1417.1,786.2 L1423.1,804.2 L1426.5,760.0 L1429.5,700.0 L1432.5,656.0 L1439.0,645.0" fill="none" stroke="#e6cf3c" stroke-width="1.45" stroke-linejoin="round"/>
<path d="M1375.0,885.0 L1378.0,870.2 L1390.0,816.2 L1402.1,786.2 L1414.1,798.2 L1420.1,816.2 L1425.0,800.0 L1428.5,720.0 L1431.5,660.0 L1437.0,647.0" fill="none" stroke="#e6cf3c" stroke-width="1.45" stroke-linejoin="round"/>
<path d="M1378.0,900.0 L1381.0,894.3 L1390.0,858.2 L1399.1,834.2 L1411.1,858.2 L1420.1,894.3 L1424.6,855.2 L1427.0,780.0 L1430.0,700.0 L1433.0,652.0 L1440.0,644.0" fill="none" stroke="#e6cf3c" stroke-width="1.45" stroke-linejoin="round"/>
<path d="M1445.0,665.0 L1450.1,675.0 L1456.1,750.1 L1457.6,810.2 L1459.1,912.3" fill="none" stroke="#e6cf3c" stroke-width="1.45" stroke-linejoin="round"/>
<path d="M1438.1,642.0 L1459.1,642.0 L1456.1,651.0 L1459.0,660.0" fill="none" stroke="#e6cf3c" stroke-width="1.45" stroke-linejoin="round"/>
<path d="M1440.0,652.0 L1444.1,660.0 L1450.1,705.1 L1453.1,750.1 L1456.1,795.2" fill="none" stroke="#e6cf3c" stroke-width="1.45" stroke-linejoin="round"/>
<path d="M1330.0,870.2 L1357.0,864.2 L1366.0,873.2 L1372.0,890.0" fill="none" stroke="#e6cf3c" stroke-width="1.45" stroke-linejoin="round"/>
<path d="M1352.0,915.0 L1362.0,922.0 L1375.0,930.3 L1380.0,915.0 L1385.0,895.0 L1392.0,870.0 L1400.0,845.0 L1410.0,830.0 L1420.0,835.0 L1425.0,800.0 L1428.0,720.0 L1431.0,660.0" fill="none" stroke="#e6cf3c" stroke-width="1.45" stroke-linejoin="round"/>
</g>
<path d="M1140.9,957.3 L1150.3,947.9 L1192.4,946.4 L1242.3,947.9 L1247.0,937.0 L1248.6,912.0 L1254.8,910.5 L1348.4,910.5 L1354.6,902.7 L1360.9,896.4 L1370.2,899.5 L1376.5,890.2 L1382.7,865.2 L1389.0,846.5 L1398.3,827.8 L1404.6,818.4 L1413.9,823.1 L1423.3,829.3 L1426.4,802.8 L1429.5,721.6 L1432.0,653.0 L1438.9,642.0 L1445.1,649.8 L1451.4,665.5 L1456.0,684.2 L1459.2,709.1 L1460.7,740.4" fill="none" stroke="#c8b020" stroke-width="6.3" stroke-linejoin="round" stroke-linecap="round"/>
<clipPath id="clg"><rect x="1635.0" y="628.3" width="322.1" height="342.6"/></clipPath>
<g clip-path="url(#clg)">
<path d="M1636.2,640.5 L1636.4,644.5 L1636.7,648.5 L1636.7,652.5 L1636.4,656.5 L1636.4,660.5 L1636.4,664.5 L1636.9,668.6 L1636.9,672.6 L1637.2,676.4 L1637.1,680.3 L1637.5,683.9 L1640.6,684.4 L1641.1,688.2 L1641.3,692.4 L1641.0,696.5 L1641.2,700.5 L1641.0,704.5 L1641.1,708.5 L1641.2,712.6 L1640.7,716.6 L1640.8,720.6 L1640.7,724.6 L1640.9,728.6 L1640.9,732.6 L1640.4,736.6 L1640.6,740.6 L1640.4,744.6 L1640.4,748.6 L1640.6,752.6 L1640.7,756.6 L1640.5,760.6 L1640.6,764.6 L1642.9,766.4 L1643.1,770.4 L1643.1,774.5 L1642.4,778.5 L1642.9,782.5 L1643.0,786.5 L1643.2,790.5 L1643.3,794.5 L1643.3,798.5 L1642.9,802.5 L1642.9,806.6 L1643.2,810.6 L1644.0,814.5 L1644.5,818.5 L1644.9,822.4 L1646.2,826.3 L1646.7,830.2 L1647.8,834.1 L1648.2,838.1 L1648.9,842.0 L1650.0,845.8 L1651.5,849.5 L1652.5,853.4 L1653.5,857.3 L1654.4,861.2 L1655.5,865.1 L1656.6,868.9 L1657.5,872.8 L1658.6,876.6 L1659.5,880.5 L1660.6,884.3 L1661.8,888.1 L1662.9,891.9 L1664.5,895.6 L1665.8,899.3 L1667.5,902.8 L1668.7,906.6 L1671.0,909.8 L1673.0,913.0 L1675.1,916.1 L1677.2,919.1 L1680.5,921.1 L1683.8,923.0 L1686.9,925.3 L1690.3,927.9 L1693.4,930.7 L1696.6,933.3 L1699.2,936.2 L1701.5,939.4 L1704.5,941.7 L1707.7,943.4 L1710.7,945.4 L1713.8,947.4 L1717.4,948.4 L1721.0,949.6 L1724.7,950.7 L1728.5,952.1 L1732.4,953.0 L1736.3,953.8 L1740.1,954.5 L1743.9,955.7 L1747.8,955.1 L1751.7,955.2 L1755.7,955.0 L1759.8,955.5 L1763.8,955.4 L1767.8,955.8 L1771.8,956.6 L1775.7,957.0 L1779.8,956.7 L1783.7,957.3 L1787.8,956.8 L1791.8,956.7 L1795.8,956.8 L1799.8,956.3 L1803.8,955.9 L1807.8,955.8 L1811.8,955.7 L1815.8,956.1 L1819.8,955.9 L1823.8,956.2 L1827.8,955.7 L1831.8,956.2 L1835.9,955.9 L1839.9,956.3 L1843.9,956.5 L1847.9,956.5 L1851.9,956.8 L1855.9,956.7 L1859.9,956.4 L1863.9,956.3 L1867.9,956.5 L1871.9,956.6 L1875.9,956.6 L1879.9,956.7 L1884.0,956.7 L1888.0,956.9 L1892.0,957.1 L1896.0,957.3 L1900.0,956.7 L1904.0,956.5 L1908.0,956.4 L1912.0,956.6 L1916.0,956.9 L1920.0,956.6 L1924.0,956.5 L1928.0,956.8 L1932.1,956.7 L1936.1,956.7 L1940.1,956.6 L1944.1,956.5 L1948.1,957.2 L1952.1,957.1 L1956.1,957.2 L1956.1,957.2" fill="none" stroke="#7a7a7a" stroke-width="1.2" stroke-linejoin="round"/>
<path d="M1636.0,640.5 L1636.1,644.5 L1636.6,648.5 L1636.7,652.5 L1637.4,656.5 L1637.2,660.5 L1637.8,664.5 L1637.2,668.6 L1637.1,672.6 L1637.2,676.4 L1637.4,680.2 L1637.8,683.8 L1640.8,684.3 L1640.6,688.4 L1640.6,692.5 L1640.3,696.5 L1640.3,700.5 L1640.4,704.5 L1640.1,708.5 L1639.9,712.6 L1639.9,716.6 L1640.5,720.6 L1640.3,724.6 L1640.2,728.6 L1640.7,732.6 L1640.5,736.6 L1640.1,740.6 L1640.1,744.6 L1640.0,748.6 L1640.2,752.6 L1640.5,756.6 L1640.0,760.7 L1639.4,764.8 L1641.8,766.5 L1641.5,770.6 L1642.0,774.5 L1641.6,778.5 L1641.5,782.5 L1642.0,786.5 L1641.9,790.5 L1642.6,794.5 L1642.6,798.5 L1642.9,802.5 L1643.3,806.5 L1643.7,810.5 L1643.9,814.5 L1644.6,818.4 L1645.5,822.3 L1645.8,826.3 L1646.7,830.2 L1647.0,834.2 L1647.0,838.3 L1648.0,842.2 L1648.2,846.2 L1649.2,850.1 L1649.8,854.1 L1650.6,858.0 L1651.2,862.0 L1651.9,866.0 L1653.0,869.8 L1653.5,873.9 L1654.5,877.8 L1655.3,881.7 L1656.4,885.6 L1657.8,889.4 L1659.1,893.2 L1660.4,897.1 L1662.2,900.7 L1664.2,904.3 L1666.0,907.9 L1667.9,911.4 L1670.1,914.9 L1672.3,918.3 L1674.3,921.9 L1677.6,924.3 L1681.2,926.3 L1684.3,928.8 L1687.6,931.0 L1690.5,933.7 L1693.4,936.5 L1696.0,939.5 L1698.5,942.8 L1701.5,945.4 L1705.2,947.3 L1708.7,949.4 L1712.2,951.4 L1716.1,952.5 L1720.2,952.9 L1724.2,953.3 L1728.1,954.0 L1732.0,955.2 L1735.9,955.9 L1740.0,955.8 L1743.8,957.0 L1747.8,957.1 L1751.8,956.5 L1755.8,956.4 L1759.8,956.2 L1763.8,956.0 L1767.8,956.3 L1771.7,957.2 L1775.7,958.0 L1779.7,958.0 L1783.7,958.5 L1787.7,958.4 L1791.8,958.3 L1795.8,958.8 L1799.8,958.1 L1803.8,958.1 L1807.8,958.1 L1811.8,957.7 L1815.8,957.6 L1819.8,957.5 L1823.8,956.9 L1827.8,956.9 L1831.8,956.4 L1835.9,956.2 L1839.9,955.8 L1843.9,956.0 L1847.9,955.8 L1851.9,956.4 L1855.9,956.3 L1859.9,956.9 L1863.9,956.8 L1867.9,957.0 L1871.9,956.9 L1875.9,957.3 L1879.9,956.9 L1884.0,957.1 L1888.0,956.9 L1892.0,957.3 L1896.0,956.7 L1900.0,956.8 L1904.0,957.0 L1908.0,957.2 L1912.0,956.9 L1916.0,957.0 L1920.0,957.1 L1924.0,957.0 L1928.0,957.1 L1932.1,957.0 L1936.1,956.9 L1940.1,957.1 L1944.1,957.3 L1948.1,957.8 L1952.1,957.8 L1956.1,957.7 L1956.1,957.7" fill="none" stroke="#7a7a7a" stroke-width="1.2" stroke-linejoin="round"/>
<path d="M1636.9,640.5 L1637.3,644.5 L1637.1,648.5 L1636.7,652.5 L1636.6,656.5 L1637.0,660.5 L1636.7,664.5 L1636.1,668.6 L1635.6,672.6 L1635.7,676.6 L1635.6,680.7 L1635.6,684.4 L1639.5,684.7 L1639.2,688.8 L1639.5,692.6 L1639.7,696.5 L1639.8,700.5 L1640.0,704.5 L1640.2,708.5 L1640.3,712.6 L1640.4,716.6 L1640.8,720.6 L1640.5,724.6 L1640.9,728.6 L1640.9,732.6 L1640.5,736.6 L1640.7,740.6 L1640.5,744.6 L1640.5,748.6 L1640.1,752.6 L1640.1,756.7 L1640.0,760.7 L1640.2,764.6 L1642.4,766.5 L1642.0,770.5 L1642.1,774.5 L1641.9,778.5 L1642.6,782.5 L1642.5,786.5 L1642.8,790.5 L1643.2,794.5 L1643.5,798.5 L1643.3,802.5 L1643.5,806.5 L1643.5,810.5 L1643.5,814.5 L1644.6,818.4 L1645.3,822.4 L1645.6,826.4 L1646.7,830.2 L1646.7,834.3 L1647.8,838.1 L1648.8,842.0 L1649.4,846.0 L1650.3,849.8 L1651.3,853.7 L1652.4,857.6 L1653.9,861.4 L1654.2,865.4 L1655.5,869.2 L1656.1,873.2 L1657.5,876.9 L1658.5,880.8 L1660.1,884.5 L1661.1,888.3 L1662.2,892.2 L1663.1,896.1 L1664.8,899.7 L1665.7,903.6 L1667.1,907.3 L1669.1,910.8 L1671.4,914.1 L1673.2,917.6 L1675.3,921.0 L1678.1,923.7 L1681.4,926.0 L1684.5,928.6 L1687.5,931.2 L1690.8,933.4 L1693.5,936.3 L1696.3,939.3 L1698.8,942.4 L1701.9,944.9 L1705.5,946.8 L1708.8,949.2 L1712.3,951.1 L1716.3,951.7 L1720.3,952.1 L1724.1,953.5 L1728.0,954.5 L1732.0,955.1 L1735.9,956.0 L1739.8,956.8 L1743.8,958.0 L1747.8,957.4 L1751.8,957.1 L1755.8,956.9 L1759.8,956.9 L1763.8,956.7 L1767.7,957.0 L1771.7,957.5 L1775.7,957.9 L1779.7,958.0 L1783.7,957.9 L1787.7,957.7 L1791.8,957.6 L1795.8,957.4 L1799.8,956.9 L1803.8,956.7 L1807.8,956.3 L1811.8,956.1 L1815.8,956.1 L1819.8,955.9 L1823.8,956.2 L1827.8,956.6 L1831.8,956.4 L1835.9,956.2 L1839.9,956.5 L1843.9,957.2 L1847.9,957.3 L1851.9,957.2 L1855.9,957.5 L1859.9,957.6 L1863.9,958.2 L1867.9,958.0 L1871.9,957.8 L1875.9,957.9 L1879.9,958.0 L1884.0,957.5 L1888.0,958.0 L1892.0,958.1 L1896.0,957.6 L1900.0,957.4 L1904.0,957.4 L1908.0,956.6 L1912.0,956.5 L1916.0,956.8 L1920.0,956.9 L1924.0,956.9 L1928.0,956.6 L1932.1,956.5 L1936.1,956.7 L1940.1,957.3 L1944.1,957.3 L1948.1,957.3 L1952.1,957.6 L1956.1,957.9 L1956.1,957.9" fill="none" stroke="#7a7a7a" stroke-width="1.2" stroke-linejoin="round"/>
<path d="M1634.5,640.5 L1634.8,644.5 L1634.8,648.5 L1634.7,652.5 L1634.8,656.5 L1635.0,660.5 L1634.8,664.5 L1635.1,668.6 L1635.7,672.6 L1635.6,676.6 L1635.5,680.7 L1635.6,684.4 L1639.6,684.6 L1639.6,688.6 L1640.0,692.5 L1639.6,696.5 L1640.3,700.5 L1639.8,704.5 L1640.0,708.5 L1639.7,712.6 L1639.9,716.6 L1639.7,720.6 L1639.9,724.6 L1639.8,728.6 L1639.5,732.6 L1639.8,736.6 L1639.4,740.6 L1639.7,744.6 L1640.0,748.6 L1639.7,752.6 L1640.1,756.6 L1640.5,760.6 L1640.0,764.7 L1642.7,766.4 L1643.1,770.4 L1643.0,774.5 L1643.7,778.5 L1643.3,782.5 L1643.6,786.5 L1643.4,790.5 L1643.3,794.5 L1643.9,798.5 L1643.6,802.5 L1643.2,806.5 L1643.7,810.5 L1643.0,814.6 L1643.2,818.6 L1644.2,822.5 L1644.6,826.5 L1645.0,830.5 L1645.2,834.6 L1646.0,838.5 L1646.8,842.4 L1647.4,846.4 L1648.6,850.3 L1650.2,854.0 L1650.9,858.0 L1652.0,861.8 L1653.8,865.5 L1654.7,869.4 L1655.9,873.2 L1657.3,877.0 L1659.0,880.7 L1659.8,884.6 L1661.8,888.1 L1663.3,891.8 L1664.8,895.4 L1666.8,898.9 L1668.4,902.4 L1669.9,906.0 L1671.3,909.6 L1673.2,912.9 L1675.5,915.7 L1677.4,918.9 L1680.3,921.3 L1683.3,923.6 L1686.3,926.3 L1689.3,929.1 L1692.3,931.8 L1695.0,934.9 L1697.6,937.9 L1699.8,941.2 L1702.7,943.9 L1705.9,946.3 L1709.0,948.7 L1712.5,950.6 L1716.4,951.3 L1720.4,952.0 L1724.3,952.7 L1728.3,953.2 L1732.1,954.3 L1736.0,955.3 L1739.9,956.0 L1743.9,956.5 L1747.8,956.3 L1751.7,955.7 L1755.7,955.5 L1759.8,955.4 L1763.8,955.1 L1767.8,955.2 L1771.8,956.0 L1775.8,956.7 L1779.7,957.5 L1783.7,957.2 L1787.7,957.8 L1791.8,957.8 L1795.8,958.0 L1799.8,957.5 L1803.8,957.6 L1807.8,958.5 L1811.8,958.3 L1815.8,958.3 L1819.8,958.5 L1823.8,958.6 L1827.8,958.2 L1831.8,958.3 L1835.9,957.9 L1839.9,957.7 L1843.9,958.0 L1847.9,958.1 L1851.9,957.4 L1855.9,957.2 L1859.9,957.5 L1863.9,957.0 L1867.9,957.0 L1871.9,956.7 L1875.9,956.7 L1879.9,956.7 L1884.0,957.1 L1888.0,956.9 L1892.0,956.9 L1896.0,956.9 L1900.0,957.1 L1904.0,957.3 L1908.0,957.6 L1912.0,957.9 L1916.0,957.7 L1920.0,957.7 L1924.0,957.5 L1928.0,958.0 L1932.1,958.0 L1936.1,957.9 L1940.1,957.7 L1944.1,957.7 L1948.1,957.3 L1952.1,957.3 L1956.1,957.6 L1956.1,957.6" fill="none" stroke="#7a7a7a" stroke-width="1.2" stroke-linejoin="round"/>
<path d="M1635.9,640.5 L1635.7,644.5 L1635.5,648.5 L1635.1,652.5 L1635.8,656.5 L1635.7,660.5 L1635.7,664.5 L1635.6,668.6 L1635.7,672.6 L1635.5,676.6 L1635.4,680.7 L1635.9,684.3 L1639.1,684.7 L1639.4,688.7 L1639.5,692.6 L1639.3,696.5 L1639.4,700.5 L1638.9,704.5 L1639.3,708.5 L1639.6,712.6 L1639.4,716.6 L1639.2,720.6 L1639.4,724.6 L1639.5,728.6 L1639.8,732.6 L1639.7,736.6 L1639.8,740.6 L1640.0,744.6 L1640.0,748.6 L1640.8,752.6 L1641.1,756.6 L1641.1,760.5 L1640.9,764.6 L1643.1,766.4 L1643.0,770.4 L1643.1,774.5 L1643.5,778.5 L1643.1,782.5 L1643.4,786.5 L1643.5,790.5 L1643.6,794.5 L1643.6,798.5 L1643.6,802.5 L1643.2,806.5 L1643.0,810.6 L1643.2,814.6 L1643.2,818.6 L1644.3,822.5 L1644.7,826.5 L1644.5,830.6 L1645.2,834.5 L1645.5,838.6 L1646.6,842.5 L1647.7,846.3 L1648.3,850.3 L1649.8,854.1 L1650.7,858.0 L1651.3,862.0 L1652.5,865.8 L1653.7,869.7 L1654.7,873.5 L1654.9,877.6 L1656.0,881.5 L1657.2,885.4 L1658.4,889.2 L1659.5,893.1 L1661.0,896.9 L1662.3,900.7 L1663.8,904.5 L1664.9,908.4 L1666.6,912.2 L1668.9,915.6 L1671.0,919.3 L1673.5,922.7 L1676.3,925.7 L1680.1,927.7 L1683.2,930.3 L1686.4,932.5 L1689.3,935.1 L1692.1,937.7 L1694.5,941.0 L1697.4,944.0 L1700.8,946.2 L1704.3,948.6 L1707.9,951.0 L1711.4,953.3 L1715.6,954.0 L1719.7,954.9 L1723.7,955.4 L1727.7,956.3 L1731.6,957.0 L1735.7,957.5 L1739.7,958.5 L1743.7,959.1 L1747.8,958.8 L1751.9,958.1 L1755.8,957.1 L1759.8,956.6 L1763.8,956.3 L1767.7,957.2 L1771.7,957.2 L1775.7,957.2 L1779.7,957.4 L1783.7,957.3 L1787.8,957.1 L1791.8,957.0 L1795.8,957.1 L1799.8,956.8 L1803.8,956.8 L1807.8,957.2 L1811.8,956.9 L1815.8,956.8 L1819.8,957.3 L1823.8,958.0 L1827.8,957.4 L1831.8,958.2 L1835.9,958.3 L1839.9,958.0 L1843.9,958.2 L1847.9,958.3 L1851.9,958.3 L1855.9,958.4 L1859.9,958.5 L1863.9,958.7 L1867.9,958.8 L1871.9,958.6 L1875.9,959.0 L1879.9,959.3 L1884.0,959.1 L1888.0,958.9 L1892.0,958.8 L1896.0,958.7 L1900.0,958.6 L1904.0,958.4 L1908.0,958.4 L1912.0,957.8 L1916.0,957.5 L1920.0,957.9 L1924.0,957.8 L1928.0,958.0 L1932.1,958.3 L1936.1,958.2 L1940.1,958.1 L1944.1,957.8 L1948.1,958.1 L1952.1,958.2 L1956.1,957.8 L1956.1,957.8" fill="none" stroke="#7a7a7a" stroke-width="1.2" stroke-linejoin="round"/>
<path d="M1634.9,640.5 L1635.5,644.5 L1635.4,648.5 L1636.0,652.5 L1636.0,656.5 L1636.6,660.5 L1636.8,664.5 L1636.7,668.6 L1637.0,672.6 L1636.9,676.4 L1637.6,680.2 L1637.8,683.8 L1640.7,684.3 L1640.5,688.4 L1640.0,692.5 L1640.0,696.5 L1639.0,700.5 L1638.9,704.5 L1638.7,708.5 L1638.3,712.6 L1637.8,716.6 L1638.2,720.6 L1638.6,724.6 L1638.5,728.6 L1639.1,732.6 L1639.0,736.6 L1639.4,740.6 L1639.7,744.6 L1639.9,748.6 L1640.4,752.6 L1640.9,756.6 L1641.4,760.5 L1641.5,764.5 L1644.0,766.3 L1643.9,770.3 L1644.0,774.4 L1643.6,778.5 L1643.3,782.5 L1642.9,786.5 L1642.6,790.5 L1642.4,794.5 L1641.9,798.6 L1641.6,802.6 L1640.9,806.6 L1640.8,810.7 L1640.4,814.8 L1641.0,818.8 L1641.3,822.9 L1641.2,827.0 L1642.2,830.9 L1642.3,835.0 L1642.5,839.2 L1643.3,843.2 L1645.0,847.0 L1645.8,851.0 L1646.7,854.9 L1648.0,858.7 L1648.9,862.6 L1649.9,866.5 L1651.1,870.3 L1652.2,874.2 L1652.5,878.3 L1653.4,882.2 L1654.8,886.1 L1655.6,890.1 L1656.6,894.1 L1657.9,898.0 L1659.3,901.8 L1660.4,906.0 L1662.1,909.8 L1663.7,913.7 L1666.2,917.3 L1668.5,921.4 L1671.2,924.9 L1674.7,927.6 L1678.2,930.1 L1682.0,932.0 L1685.0,934.2 L1688.0,936.4 L1690.5,939.3 L1693.7,941.9 L1696.8,944.6 L1700.1,947.2 L1704.0,949.0 L1707.8,951.3 L1711.6,952.8 L1715.8,953.4 L1719.9,953.9 L1723.9,954.4 L1727.8,955.5 L1731.9,955.7 L1735.8,956.5 L1739.8,956.9 L1743.8,958.1 L1747.8,957.6 L1751.9,957.9 L1755.8,957.2 L1759.8,956.9 L1763.8,956.8 L1767.7,957.2 L1771.7,957.8 L1775.6,958.6 L1779.7,958.5 L1783.7,958.5 L1787.7,958.8 L1791.8,958.4 L1795.8,958.4 L1799.8,957.7 L1803.8,957.5 L1807.8,957.0 L1811.8,956.9 L1815.8,956.4 L1819.8,956.7 L1823.8,956.9 L1827.8,957.0 L1831.8,956.4 L1835.9,956.3 L1839.9,956.8 L1843.9,956.9 L1847.9,957.1 L1851.9,957.4 L1855.9,958.1 L1859.9,958.4 L1863.9,958.7 L1867.9,958.7 L1871.9,959.1 L1875.9,958.8 L1879.9,958.5 L1884.0,958.2 L1888.0,958.5 L1892.0,957.9 L1896.0,957.9 L1900.0,958.0 L1904.0,957.5 L1908.0,957.7 L1912.0,957.3 L1916.0,957.6 L1920.0,957.2 L1924.0,957.0 L1928.0,957.3 L1932.1,957.5 L1936.1,958.0 L1940.1,958.3 L1944.1,958.4 L1948.1,958.0 L1952.1,958.3 L1956.1,958.1 L1956.1,958.1" fill="none" stroke="#7a7a7a" stroke-width="1.2" stroke-linejoin="round"/>
<path d="M1645.0,815.0 L1647.0,815.3 L1661.0,849.6 L1668.8,899.5 L1676.6,907.3 L1692.2,909.0 L1711.0,940.0 L1743.8,951.0 L1781.0,954.0" fill="none" stroke="#7a7a7a" stroke-width="1.2" stroke-linejoin="round"/>
<path d="M1647.0,845.0 L1650.1,877.7 L1656.3,909.0 L1673.5,933.9 L1686.0,937.0 L1697.0,949.5 L1712.5,955.7" fill="none" stroke="#7a7a7a" stroke-width="1.2" stroke-linejoin="round"/>
</g>
<path d="M1636.0,640.5 L1636.0,684.2 L1640.1,684.2 L1640.1,765.3 L1642.3,765.3 L1643.2,815.3 L1647.0,840.2 L1651.7,859.0 L1656.3,877.7 L1661.0,893.3 L1667.3,908.9 L1675.1,921.4 L1684.4,927.6 L1692.2,933.9 L1700.1,943.2 L1712.5,951.0 L1728.2,954.2 L1743.8,957.3 L1762.5,955.7 L1778.1,957.3 L1956.1,957.3" fill="none" stroke="#696969" stroke-width="6.3" stroke-linejoin="round" stroke-linecap="round"/>
<rect x="636.0" y="82.3" width="340.5" height="340.8" fill="none" stroke="#222" stroke-width="2.3"/>
<line x1="647.7" y1="423.1" x2="647.7" y2="439.3" stroke="#222" stroke-width="2.3"/>
<line x1="714.9" y1="423.1" x2="714.9" y2="439.3" stroke="#222" stroke-width="2.3"/>
<line x1="782.1" y1="423.1" x2="782.1" y2="439.3" stroke="#222" stroke-width="2.3"/>
<line x1="849.3" y1="423.1" x2="849.3" y2="439.3" stroke="#222" stroke-width="2.3"/>
<line x1="916.5" y1="423.1" x2="916.5" y2="439.3" stroke="#222" stroke-width="2.3"/>
<line x1="619.8" y1="391.1" x2="636.0" y2="391.1" stroke="#222" stroke-width="2.3"/>
<line x1="619.8" y1="324.9" x2="636.0" y2="324.9" stroke="#222" stroke-width="2.3"/>
<line x1="619.8" y1="258.7" x2="636.0" y2="258.7" stroke="#222" stroke-width="2.3"/>
<line x1="619.8" y1="192.5" x2="636.0" y2="192.5" stroke="#222" stroke-width="2.3"/>
<line x1="619.8" y1="126.3" x2="636.0" y2="126.3" stroke="#222" stroke-width="2.3"/>
<text transform="translate(628.99,477.40) scale(1,1.07)" x="0" y="0" font-size="24.5" font-weight="normal" textLength="33.42" lengthAdjust="spacingAndGlyphs" fill="#1a1a1a" stroke="#1a1a1a" stroke-width="0.6">0.0</text>
<text transform="translate(696.31,477.40) scale(1,1.07)" x="0" y="0" font-size="24.5" font-weight="normal" textLength="33.42" lengthAdjust="spacingAndGlyphs" fill="#1a1a1a" stroke="#1a1a1a" stroke-width="0.6">0.2</text>
<text transform="translate(763.27,477.40) scale(1,1.07)" x="0" y="0" font-size="24.5" font-weight="normal" textLength="33.43" lengthAdjust="spacingAndGlyphs" fill="#1a1a1a" stroke="#1a1a1a" stroke-width="0.6">0.4</text>
<text transform="translate(830.65,477.40) scale(1,1.07)" x="0" y="0" font-size="24.5" font-weight="normal" textLength="33.42" lengthAdjust="spacingAndGlyphs" fill="#1a1a1a" stroke="#1a1a1a" stroke-width="0.6">0.6</text>
<text transform="translate(897.79,477.40) scale(1,1.07)" x="0" y="0" font-size="24.5" font-weight="normal" textLength="33.42" lengthAdjust="spacingAndGlyphs" fill="#1a1a1a" stroke="#1a1a1a" stroke-width="0.6">0.8</text>
<text transform="translate(601.00,408.49) rotate(-90) scale(1,1.07)" x="0" y="0" font-size="24.5" font-weight="normal" textLength="33.42" lengthAdjust="spacingAndGlyphs" fill="#1a1a1a" stroke="#1a1a1a" stroke-width="0.6">0.2</text>
<text transform="translate(601.00,342.35) rotate(-90) scale(1,1.07)" x="0" y="0" font-size="24.5" font-weight="normal" textLength="33.42" lengthAdjust="spacingAndGlyphs" fill="#1a1a1a" stroke="#1a1a1a" stroke-width="0.6">0.3</text>
<text transform="translate(601.00,276.33) rotate(-90) scale(1,1.07)" x="0" y="0" font-size="24.5" font-weight="normal" textLength="33.43" lengthAdjust="spacingAndGlyphs" fill="#1a1a1a" stroke="#1a1a1a" stroke-width="0.6">0.4</text>
<text transform="translate(601.00,210.01) rotate(-90) scale(1,1.07)" x="0" y="0" font-size="24.5" font-weight="normal" textLength="33.42" lengthAdjust="spacingAndGlyphs" fill="#1a1a1a" stroke="#1a1a1a" stroke-width="0.6">0.5</text>
<text transform="translate(601.00,143.75) rotate(-90) scale(1,1.07)" x="0" y="0" font-size="24.5" font-weight="normal" textLength="33.42" lengthAdjust="spacingAndGlyphs" fill="#1a1a1a" stroke="#1a1a1a" stroke-width="0.6">0.6</text>
<text transform="translate(598.54,534.80) scale(1,1.0)" x="0" y="0" font-size="24.5" font-weight="normal" textLength="410.21" lengthAdjust="spacingAndGlyphs" fill="#1a1a1a" stroke="#1a1a1a" stroke-width="0.6">Proportion within a square kilometer</text>
<text transform="translate(539.60,323.82) rotate(-90) scale(1,1.05)" x="0" y="0" font-size="24.5" font-weight="normal" textLength="145.94" lengthAdjust="spacingAndGlyphs" fill="#1a1a1a" stroke="#1a1a1a" stroke-width="0.6">fitted function</text>
<text transform="translate(742.85,46.70) scale(1,1.0)" x="0" y="0" font-size="30.5" font-weight="normal" textLength="123.09" lengthAdjust="spacingAndGlyphs" fill="#1a1a1a" stroke="#1a1a1a" stroke-width="0.5">b) Forest</text>
<rect x="1130.4" y="82.1" width="340.8" height="341.2" fill="none" stroke="#222" stroke-width="2.3"/>
<line x1="1135.2" y1="423.3" x2="1135.2" y2="439.5" stroke="#222" stroke-width="2.3"/>
<line x1="1209.1" y1="423.3" x2="1209.1" y2="439.5" stroke="#222" stroke-width="2.3"/>
<line x1="1283.5" y1="423.3" x2="1283.5" y2="439.5" stroke="#222" stroke-width="2.3"/>
<line x1="1358.1" y1="423.3" x2="1358.1" y2="439.5" stroke="#222" stroke-width="2.3"/>
<line x1="1435.0" y1="423.3" x2="1435.0" y2="439.5" stroke="#222" stroke-width="2.3"/>
<line x1="1114.2" y1="423.4" x2="1130.4" y2="423.4" stroke="#222" stroke-width="2.3"/>
<line x1="1114.2" y1="370.8" x2="1130.4" y2="370.8" stroke="#222" stroke-width="2.3"/>
<line x1="1114.2" y1="318.2" x2="1130.4" y2="318.2" stroke="#222" stroke-width="2.3"/>
<line x1="1114.2" y1="265.6" x2="1130.4" y2="265.6" stroke="#222" stroke-width="2.3"/>
<line x1="1114.2" y1="213.0" x2="1130.4" y2="213.0" stroke="#222" stroke-width="2.3"/>
<line x1="1114.2" y1="160.4" x2="1130.4" y2="160.4" stroke="#222" stroke-width="2.3"/>
<line x1="1114.2" y1="107.8" x2="1130.4" y2="107.8" stroke="#222" stroke-width="2.3"/>
<text transform="translate(1126.75,477.60) scale(1,1.07)" x="0" y="0" font-size="24.5" font-weight="normal" textLength="12.92" lengthAdjust="spacingAndGlyphs" fill="#1a1a1a" stroke="#1a1a1a" stroke-width="0.6">0</text>
<text transform="translate(1200.40,477.60) scale(1,1.07)" x="0" y="0" font-size="24.5" font-weight="normal" textLength="12.85" lengthAdjust="spacingAndGlyphs" fill="#1a1a1a" stroke="#1a1a1a" stroke-width="0.6">1</text>
<text transform="translate(1275.07,477.60) scale(1,1.07)" x="0" y="0" font-size="24.5" font-weight="normal" textLength="12.89" lengthAdjust="spacingAndGlyphs" fill="#1a1a1a" stroke="#1a1a1a" stroke-width="0.6">2</text>
<text transform="translate(1349.71,477.60) scale(1,1.07)" x="0" y="0" font-size="24.5" font-weight="normal" textLength="12.92" lengthAdjust="spacingAndGlyphs" fill="#1a1a1a" stroke="#1a1a1a" stroke-width="0.6">3</text>
<text transform="translate(1426.59,477.60) scale(1,1.07)" x="0" y="0" font-size="24.5" font-weight="normal" textLength="12.96" lengthAdjust="spacingAndGlyphs" fill="#1a1a1a" stroke="#1a1a1a" stroke-width="0.6">4</text>
<text transform="translate(1095.40,447.71) rotate(-90) scale(1,1.07)" x="0" y="0" font-size="24.5" font-weight="normal" textLength="47.06" lengthAdjust="spacingAndGlyphs" fill="#1a1a1a" stroke="#1a1a1a" stroke-width="0.6">0.35</text>
<text transform="translate(1095.40,342.51) rotate(-90) scale(1,1.07)" x="0" y="0" font-size="24.5" font-weight="normal" textLength="47.06" lengthAdjust="spacingAndGlyphs" fill="#1a1a1a" stroke="#1a1a1a" stroke-width="0.6">0.45</text>
<text transform="translate(1095.40,237.31) rotate(-90) scale(1,1.07)" x="0" y="0" font-size="24.5" font-weight="normal" textLength="47.06" lengthAdjust="spacingAndGlyphs" fill="#1a1a1a" stroke="#1a1a1a" stroke-width="0.6">0.55</text>
<text transform="translate(1095.40,132.11) rotate(-90) scale(1,1.07)" x="0" y="0" font-size="24.5" font-weight="normal" textLength="47.06" lengthAdjust="spacingAndGlyphs" fill="#1a1a1a" stroke="#1a1a1a" stroke-width="0.6">0.65</text>
<text transform="translate(1174.60,534.60) scale(1,1.0)" x="0" y="0" font-size="24.5" font-weight="normal" textLength="250.04" lengthAdjust="spacingAndGlyphs" fill="#1a1a1a" stroke="#1a1a1a" stroke-width="0.6">log10 of persons/km2</text>
<text transform="translate(1034.00,323.82) rotate(-90) scale(1,1.05)" x="0" y="0" font-size="24.5" font-weight="normal" textLength="145.94" lengthAdjust="spacingAndGlyphs" fill="#1a1a1a" stroke="#1a1a1a" stroke-width="0.6">fitted function</text>
<text transform="translate(1233.53,46.80) scale(1,1.0)" x="0" y="0" font-size="30.5" font-weight="normal" textLength="131.80" lengthAdjust="spacingAndGlyphs" fill="#1a1a1a" stroke="#1a1a1a" stroke-width="0.5">c) HuPop</text>
<rect x="1622.5" y="82.4" width="343.5" height="340.7" fill="none" stroke="#222" stroke-width="2.3"/>
<line x1="1677.7" y1="423.1" x2="1677.7" y2="439.3" stroke="#222" stroke-width="2.3"/>
<line x1="1735.4" y1="423.1" x2="1735.4" y2="439.3" stroke="#222" stroke-width="2.3"/>
<line x1="1793.1" y1="423.1" x2="1793.1" y2="439.3" stroke="#222" stroke-width="2.3"/>
<line x1="1850.8" y1="423.1" x2="1850.8" y2="439.3" stroke="#222" stroke-width="2.3"/>
<line x1="1908.5" y1="423.1" x2="1908.5" y2="439.3" stroke="#222" stroke-width="2.3"/>
<line x1="1606.3" y1="358.6" x2="1622.5" y2="358.6" stroke="#222" stroke-width="2.3"/>
<line x1="1606.3" y1="290.7" x2="1622.5" y2="290.7" stroke="#222" stroke-width="2.3"/>
<line x1="1606.3" y1="222.9" x2="1622.5" y2="222.9" stroke="#222" stroke-width="2.3"/>
<line x1="1606.3" y1="155.0" x2="1622.5" y2="155.0" stroke="#222" stroke-width="2.3"/>
<line x1="1606.3" y1="87.1" x2="1622.5" y2="87.1" stroke="#222" stroke-width="2.3"/>
<text transform="translate(1658.58,477.40) scale(1,1.07)" x="0" y="0" font-size="24.5" font-weight="normal" textLength="33.40" lengthAdjust="spacingAndGlyphs" fill="#1a1a1a" stroke="#1a1a1a" stroke-width="0.6">1.0</text>
<text transform="translate(1716.28,477.40) scale(1,1.07)" x="0" y="0" font-size="24.5" font-weight="normal" textLength="33.40" lengthAdjust="spacingAndGlyphs" fill="#1a1a1a" stroke="#1a1a1a" stroke-width="0.6">1.5</text>
<text transform="translate(1774.27,477.40) scale(1,1.07)" x="0" y="0" font-size="24.5" font-weight="normal" textLength="33.42" lengthAdjust="spacingAndGlyphs" fill="#1a1a1a" stroke="#1a1a1a" stroke-width="0.6">2.0</text>
<text transform="translate(1831.97,477.40) scale(1,1.07)" x="0" y="0" font-size="24.5" font-weight="normal" textLength="33.42" lengthAdjust="spacingAndGlyphs" fill="#1a1a1a" stroke="#1a1a1a" stroke-width="0.6">2.5</text>
<text transform="translate(1889.79,477.40) scale(1,1.07)" x="0" y="0" font-size="24.5" font-weight="normal" textLength="33.42" lengthAdjust="spacingAndGlyphs" fill="#1a1a1a" stroke="#1a1a1a" stroke-width="0.6">3.0</text>
<text transform="translate(1587.50,382.91) rotate(-90) scale(1,1.07)" x="0" y="0" font-size="24.5" font-weight="normal" textLength="47.06" lengthAdjust="spacingAndGlyphs" fill="#1a1a1a" stroke="#1a1a1a" stroke-width="0.6">0.35</text>
<text transform="translate(1587.50,315.04) rotate(-90) scale(1,1.07)" x="0" y="0" font-size="24.5" font-weight="normal" textLength="47.06" lengthAdjust="spacingAndGlyphs" fill="#1a1a1a" stroke="#1a1a1a" stroke-width="0.6">0.40</text>
<text transform="translate(1587.50,247.16) rotate(-90) scale(1,1.07)" x="0" y="0" font-size="24.5" font-weight="normal" textLength="47.06" lengthAdjust="spacingAndGlyphs" fill="#1a1a1a" stroke="#1a1a1a" stroke-width="0.6">0.45</text>
<text transform="translate(1587.50,179.29) rotate(-90) scale(1,1.07)" x="0" y="0" font-size="24.5" font-weight="normal" textLength="47.06" lengthAdjust="spacingAndGlyphs" fill="#1a1a1a" stroke="#1a1a1a" stroke-width="0.6">0.50</text>
<text transform="translate(1587.50,111.41) rotate(-90) scale(1,1.07)" x="0" y="0" font-size="24.5" font-weight="normal" textLength="47.06" lengthAdjust="spacingAndGlyphs" fill="#1a1a1a" stroke="#1a1a1a" stroke-width="0.6">0.55</text>
<text transform="translate(1686.72,534.80) scale(1,1.0)" x="0" y="0" font-size="24.5" font-weight="normal" textLength="215.00" lengthAdjust="spacingAndGlyphs" fill="#1a1a1a" stroke="#1a1a1a" stroke-width="0.6">log10 of height (m)</text>
<text transform="translate(1526.10,323.87) rotate(-90) scale(1,1.05)" x="0" y="0" font-size="24.5" font-weight="normal" textLength="145.94" lengthAdjust="spacingAndGlyphs" fill="#1a1a1a" stroke="#1a1a1a" stroke-width="0.6">fitted function</text>
<text transform="translate(1712.73,46.70) scale(1,1.0)" x="0" y="0" font-size="30.5" font-weight="normal" textLength="160.72" lengthAdjust="spacingAndGlyphs" fill="#1a1a1a" stroke="#1a1a1a" stroke-width="0.5">d) Elevation</text>
<rect x="635.7" y="628.2" width="340.9" height="342.8" fill="none" stroke="#222" stroke-width="2.3"/>
<line x1="647.6" y1="971.0" x2="647.6" y2="987.2" stroke="#222" stroke-width="2.3"/>
<line x1="711.6" y1="971.0" x2="711.6" y2="987.2" stroke="#222" stroke-width="2.3"/>
<line x1="774.8" y1="971.0" x2="774.8" y2="987.2" stroke="#222" stroke-width="2.3"/>
<line x1="837.4" y1="971.0" x2="837.4" y2="987.2" stroke="#222" stroke-width="2.3"/>
<line x1="901.6" y1="971.0" x2="901.6" y2="987.2" stroke="#222" stroke-width="2.3"/>
<line x1="964.5" y1="971.0" x2="964.5" y2="987.2" stroke="#222" stroke-width="2.3"/>
<line x1="619.5" y1="927.7" x2="635.7" y2="927.7" stroke="#222" stroke-width="2.3"/>
<line x1="619.5" y1="883.1" x2="635.7" y2="883.1" stroke="#222" stroke-width="2.3"/>
<line x1="619.5" y1="838.5" x2="635.7" y2="838.5" stroke="#222" stroke-width="2.3"/>
<line x1="619.5" y1="793.9" x2="635.7" y2="793.9" stroke="#222" stroke-width="2.3"/>
<line x1="619.5" y1="749.3" x2="635.7" y2="749.3" stroke="#222" stroke-width="2.3"/>
<line x1="619.5" y1="704.7" x2="635.7" y2="704.7" stroke="#222" stroke-width="2.3"/>
<line x1="619.5" y1="660.1" x2="635.7" y2="660.1" stroke="#222" stroke-width="2.3"/>
<text transform="translate(628.89,1025.30) scale(1,1.07)" x="0" y="0" font-size="24.5" font-weight="normal" textLength="33.42" lengthAdjust="spacingAndGlyphs" fill="#1a1a1a" stroke="#1a1a1a" stroke-width="0.6">0.0</text>
<text transform="translate(693.01,1025.30) scale(1,1.07)" x="0" y="0" font-size="24.5" font-weight="normal" textLength="33.42" lengthAdjust="spacingAndGlyphs" fill="#1a1a1a" stroke="#1a1a1a" stroke-width="0.6">0.2</text>
<text transform="translate(755.97,1025.30) scale(1,1.07)" x="0" y="0" font-size="24.5" font-weight="normal" textLength="33.43" lengthAdjust="spacingAndGlyphs" fill="#1a1a1a" stroke="#1a1a1a" stroke-width="0.6">0.4</text>
<text transform="translate(818.75,1025.30) scale(1,1.07)" x="0" y="0" font-size="24.5" font-weight="normal" textLength="33.42" lengthAdjust="spacingAndGlyphs" fill="#1a1a1a" stroke="#1a1a1a" stroke-width="0.6">0.6</text>
<text transform="translate(882.89,1025.30) scale(1,1.07)" x="0" y="0" font-size="24.5" font-weight="normal" textLength="33.42" lengthAdjust="spacingAndGlyphs" fill="#1a1a1a" stroke="#1a1a1a" stroke-width="0.6">0.8</text>
<text transform="translate(945.38,1025.30) scale(1,1.07)" x="0" y="0" font-size="24.5" font-weight="normal" textLength="33.40" lengthAdjust="spacingAndGlyphs" fill="#1a1a1a" stroke="#1a1a1a" stroke-width="0.6">1.0</text>
<text transform="translate(600.70,952.14) rotate(-90) scale(1,1.07)" x="0" y="0" font-size="24.5" font-weight="normal" textLength="47.06" lengthAdjust="spacingAndGlyphs" fill="#1a1a1a" stroke="#1a1a1a" stroke-width="0.6">0.44</text>
<text transform="translate(600.70,862.75) rotate(-90) scale(1,1.07)" x="0" y="0" font-size="24.5" font-weight="normal" textLength="47.06" lengthAdjust="spacingAndGlyphs" fill="#1a1a1a" stroke="#1a1a1a" stroke-width="0.6">0.46</text>
<text transform="translate(600.70,773.61) rotate(-90) scale(1,1.07)" x="0" y="0" font-size="24.5" font-weight="normal" textLength="47.06" lengthAdjust="spacingAndGlyphs" fill="#1a1a1a" stroke="#1a1a1a" stroke-width="0.6">0.48</text>
<text transform="translate(600.70,684.41) rotate(-90) scale(1,1.07)" x="0" y="0" font-size="24.5" font-weight="normal" textLength="47.06" lengthAdjust="spacingAndGlyphs" fill="#1a1a1a" stroke="#1a1a1a" stroke-width="0.6">0.50</text>
<text transform="translate(598.54,1082.40) scale(1,1.0)" x="0" y="0" font-size="24.5" font-weight="normal" textLength="410.21" lengthAdjust="spacingAndGlyphs" fill="#1a1a1a" stroke="#1a1a1a" stroke-width="0.6">Proportion within a square kilometer</text>
<text transform="translate(539.30,870.72) rotate(-90) scale(1,1.05)" x="0" y="0" font-size="24.5" font-weight="normal" textLength="145.94" lengthAdjust="spacingAndGlyphs" fill="#1a1a1a" stroke="#1a1a1a" stroke-width="0.6">fitted function</text>
<text transform="translate(723.99,595.00) scale(1,1.0)" x="0" y="0" font-size="30.5" font-weight="normal" textLength="163.42" lengthAdjust="spacingAndGlyphs" fill="#1a1a1a" stroke="#1a1a1a" stroke-width="0.5">e) RainCrop</text>
<rect x="1130.2" y="628.2" width="341.0" height="342.5" fill="none" stroke="#222" stroke-width="2.3"/>
<line x1="1142.4" y1="970.7" x2="1142.4" y2="986.9" stroke="#222" stroke-width="2.3"/>
<line x1="1211.7" y1="970.7" x2="1211.7" y2="986.9" stroke="#222" stroke-width="2.3"/>
<line x1="1281.0" y1="970.7" x2="1281.0" y2="986.9" stroke="#222" stroke-width="2.3"/>
<line x1="1349.0" y1="970.7" x2="1349.0" y2="986.9" stroke="#222" stroke-width="2.3"/>
<line x1="1418.5" y1="970.7" x2="1418.5" y2="986.9" stroke="#222" stroke-width="2.3"/>
<line x1="1114.0" y1="948.6" x2="1130.2" y2="948.6" stroke="#222" stroke-width="2.3"/>
<line x1="1114.0" y1="872.5" x2="1130.2" y2="872.5" stroke="#222" stroke-width="2.3"/>
<line x1="1114.0" y1="796.4" x2="1130.2" y2="796.4" stroke="#222" stroke-width="2.3"/>
<line x1="1114.0" y1="720.3" x2="1130.2" y2="720.3" stroke="#222" stroke-width="2.3"/>
<line x1="1114.0" y1="644.2" x2="1130.2" y2="644.2" stroke="#222" stroke-width="2.3"/>
<text transform="translate(1133.95,1025.00) scale(1,1.07)" x="0" y="0" font-size="24.5" font-weight="normal" textLength="12.92" lengthAdjust="spacingAndGlyphs" fill="#1a1a1a" stroke="#1a1a1a" stroke-width="0.6">0</text>
<text transform="translate(1203.00,1025.00) scale(1,1.07)" x="0" y="0" font-size="24.5" font-weight="normal" textLength="12.85" lengthAdjust="spacingAndGlyphs" fill="#1a1a1a" stroke="#1a1a1a" stroke-width="0.6">1</text>
<text transform="translate(1272.57,1025.00) scale(1,1.07)" x="0" y="0" font-size="24.5" font-weight="normal" textLength="12.89" lengthAdjust="spacingAndGlyphs" fill="#1a1a1a" stroke="#1a1a1a" stroke-width="0.6">2</text>
<text transform="translate(1340.61,1025.00) scale(1,1.07)" x="0" y="0" font-size="24.5" font-weight="normal" textLength="12.92" lengthAdjust="spacingAndGlyphs" fill="#1a1a1a" stroke="#1a1a1a" stroke-width="0.6">3</text>
<text transform="translate(1410.09,1025.00) scale(1,1.07)" x="0" y="0" font-size="24.5" font-weight="normal" textLength="12.96" lengthAdjust="spacingAndGlyphs" fill="#1a1a1a" stroke="#1a1a1a" stroke-width="0.6">4</text>
<text transform="translate(1095.20,972.91) rotate(-90) scale(1,1.07)" x="0" y="0" font-size="24.5" font-weight="normal" textLength="47.06" lengthAdjust="spacingAndGlyphs" fill="#1a1a1a" stroke="#1a1a1a" stroke-width="0.6">0.48</text>
<text transform="translate(1095.20,896.81) rotate(-90) scale(1,1.07)" x="0" y="0" font-size="24.5" font-weight="normal" textLength="47.06" lengthAdjust="spacingAndGlyphs" fill="#1a1a1a" stroke="#1a1a1a" stroke-width="0.6">0.50</text>
<text transform="translate(1095.20,820.59) rotate(-90) scale(1,1.07)" x="0" y="0" font-size="24.5" font-weight="normal" textLength="47.06" lengthAdjust="spacingAndGlyphs" fill="#1a1a1a" stroke="#1a1a1a" stroke-width="0.6">0.52</text>
<text transform="translate(1095.20,744.74) rotate(-90) scale(1,1.07)" x="0" y="0" font-size="24.5" font-weight="normal" textLength="47.06" lengthAdjust="spacingAndGlyphs" fill="#1a1a1a" stroke="#1a1a1a" stroke-width="0.6">0.54</text>
<text transform="translate(1095.20,668.45) rotate(-90) scale(1,1.07)" x="0" y="0" font-size="24.5" font-weight="normal" textLength="47.06" lengthAdjust="spacingAndGlyphs" fill="#1a1a1a" stroke="#1a1a1a" stroke-width="0.6">0.56</text>
<text transform="translate(1176.69,1082.60) scale(1,1.0)" x="0" y="0" font-size="24.5" font-weight="normal" textLength="245.47" lengthAdjust="spacingAndGlyphs" fill="#1a1a1a" stroke="#1a1a1a" stroke-width="0.6">log10 of distance (m)</text>
<text transform="translate(1033.80,870.57) rotate(-90) scale(1,1.05)" x="0" y="0" font-size="24.5" font-weight="normal" textLength="145.94" lengthAdjust="spacingAndGlyphs" fill="#1a1a1a" stroke="#1a1a1a" stroke-width="0.6">fitted function</text>
<text transform="translate(1208.28,594.90) scale(1,1.0)" x="0" y="0" font-size="30.5" font-weight="normal" textLength="182.71" lengthAdjust="spacingAndGlyphs" fill="#1a1a1a" stroke="#1a1a1a" stroke-width="0.5">f) DistoWater</text>
<rect x="1622.4" y="628.3" width="343.6" height="342.6" fill="none" stroke="#222" stroke-width="2.3"/>
<line x1="1636.9" y1="970.9" x2="1636.9" y2="987.1" stroke="#222" stroke-width="2.3"/>
<line x1="1699.5" y1="970.9" x2="1699.5" y2="987.1" stroke="#222" stroke-width="2.3"/>
<line x1="1762.3" y1="970.9" x2="1762.3" y2="987.1" stroke="#222" stroke-width="2.3"/>
<line x1="1826.2" y1="970.9" x2="1826.2" y2="987.1" stroke="#222" stroke-width="2.3"/>
<line x1="1889.3" y1="970.9" x2="1889.3" y2="987.1" stroke="#222" stroke-width="2.3"/>
<line x1="1953.8" y1="970.9" x2="1953.8" y2="987.1" stroke="#222" stroke-width="2.3"/>
<line x1="1606.2" y1="927.5" x2="1622.4" y2="927.5" stroke="#222" stroke-width="2.3"/>
<line x1="1606.2" y1="847.6" x2="1622.4" y2="847.6" stroke="#222" stroke-width="2.3"/>
<line x1="1606.2" y1="767.8" x2="1622.4" y2="767.8" stroke="#222" stroke-width="2.3"/>
<line x1="1606.2" y1="687.9" x2="1622.4" y2="687.9" stroke="#222" stroke-width="2.3"/>
<text transform="translate(1618.19,1025.20) scale(1,1.07)" x="0" y="0" font-size="24.5" font-weight="normal" textLength="33.42" lengthAdjust="spacingAndGlyphs" fill="#1a1a1a" stroke="#1a1a1a" stroke-width="0.6">0.0</text>
<text transform="translate(1680.91,1025.20) scale(1,1.07)" x="0" y="0" font-size="24.5" font-weight="normal" textLength="33.42" lengthAdjust="spacingAndGlyphs" fill="#1a1a1a" stroke="#1a1a1a" stroke-width="0.6">0.2</text>
<text transform="translate(1743.47,1025.20) scale(1,1.07)" x="0" y="0" font-size="24.5" font-weight="normal" textLength="33.43" lengthAdjust="spacingAndGlyphs" fill="#1a1a1a" stroke="#1a1a1a" stroke-width="0.6">0.4</text>
<text transform="translate(1807.55,1025.20) scale(1,1.07)" x="0" y="0" font-size="24.5" font-weight="normal" textLength="33.42" lengthAdjust="spacingAndGlyphs" fill="#1a1a1a" stroke="#1a1a1a" stroke-width="0.6">0.6</text>
<text transform="translate(1870.59,1025.20) scale(1,1.07)" x="0" y="0" font-size="24.5" font-weight="normal" textLength="33.42" lengthAdjust="spacingAndGlyphs" fill="#1a1a1a" stroke="#1a1a1a" stroke-width="0.6">0.8</text>
<text transform="translate(1934.68,1025.20) scale(1,1.07)" x="0" y="0" font-size="24.5" font-weight="normal" textLength="33.40" lengthAdjust="spacingAndGlyphs" fill="#1a1a1a" stroke="#1a1a1a" stroke-width="0.6">1.0</text>
<text transform="translate(1587.40,951.81) rotate(-90) scale(1,1.07)" x="0" y="0" font-size="24.5" font-weight="normal" textLength="47.06" lengthAdjust="spacingAndGlyphs" fill="#1a1a1a" stroke="#1a1a1a" stroke-width="0.6">0.35</text>
<text transform="translate(1587.40,871.95) rotate(-90) scale(1,1.07)" x="0" y="0" font-size="24.5" font-weight="normal" textLength="47.06" lengthAdjust="spacingAndGlyphs" fill="#1a1a1a" stroke="#1a1a1a" stroke-width="0.6">0.40</text>
<text transform="translate(1587.40,792.08) rotate(-90) scale(1,1.07)" x="0" y="0" font-size="24.5" font-weight="normal" textLength="47.06" lengthAdjust="spacingAndGlyphs" fill="#1a1a1a" stroke="#1a1a1a" stroke-width="0.6">0.45</text>
<text transform="translate(1587.40,712.21) rotate(-90) scale(1,1.07)" x="0" y="0" font-size="24.5" font-weight="normal" textLength="47.06" lengthAdjust="spacingAndGlyphs" fill="#1a1a1a" stroke="#1a1a1a" stroke-width="0.6">0.50</text>
<text transform="translate(1587.84,1082.40) scale(1,1.0)" x="0" y="0" font-size="24.5" font-weight="normal" textLength="410.21" lengthAdjust="spacingAndGlyphs" fill="#1a1a1a" stroke="#1a1a1a" stroke-width="0.6" clip-path="url(#gclip)">Proportion within a square kilometer</text>
<text transform="translate(1526.00,870.72) rotate(-90) scale(1,1.05)" x="0" y="0" font-size="24.5" font-weight="normal" textLength="145.94" lengthAdjust="spacingAndGlyphs" fill="#1a1a1a" stroke="#1a1a1a" stroke-width="0.6">fitted function</text>
<text transform="translate(1733.75,594.70) scale(1,1.0)" x="0" y="0" font-size="30.5" font-weight="normal" textLength="118.72" lengthAdjust="spacingAndGlyphs" fill="#1a1a1a" stroke="#1a1a1a" stroke-width="0.5">g) IrCrop</text>
</svg></div></body></html>
